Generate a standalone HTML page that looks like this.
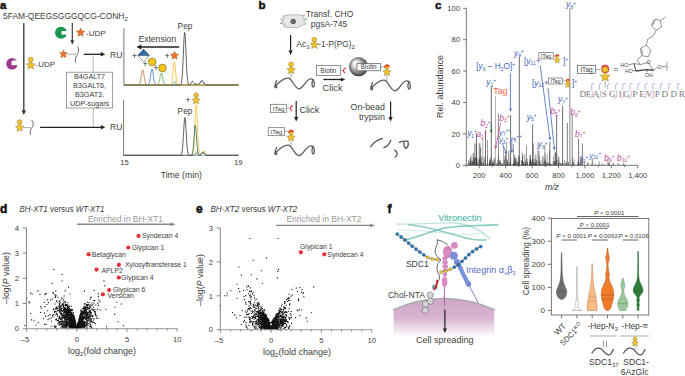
<!DOCTYPE html>
<html><head><meta charset="utf-8"><style>
html,body{margin:0;padding:0;background:#fff;width:685px;height:376px;overflow:hidden}
svg{display:block;font-family:"Liberation Sans", sans-serif}
</style></head><body>
<svg width="685" height="376" viewBox="0 0 685 376">
<defs>
<radialGradient id="bead" cx="0.5" cy="0.5" fx="0.3" fy="0.28" r="0.6"><stop offset="0" stop-color="#ffffff"/><stop offset="0.3" stop-color="#dddddd"/><stop offset="0.7" stop-color="#777777"/><stop offset="1" stop-color="#151515"/></radialGradient>
<linearGradient id="cell" x1="0" y1="0" x2="0" y2="1"><stop offset="0" stop-color="#cfa6c6"/><stop offset="0.45" stop-color="#d6b2cf"/><stop offset="0.93" stop-color="#ffffff"/></linearGradient>
</defs>
<text x="0.00" y="8.60" font-size="11.5" fill="#111" font-weight="bold" stroke="#111" stroke-width="0.5">a</text>
<text x="3.00" y="18.60" font-size="8.45" fill="#404040" >5FAM-QEEGSGGGQCG-CONH<tspan font-size="6" dy="2">2</tspan></text>
<line x1="23.80" y1="23.00" x2="23.80" y2="110.70" stroke="#333" stroke-width="1.3" />
<polygon points="23.80,115.00 21.60,110.20 26.00,110.20" fill="#333"/>
<circle cx="12" cy="63.8" r="5.8" fill="#9b3a8e"/>
<rect x="11.6" y="60.9" width="7" height="4.3" fill="#fff"/>
<path d="M12.6,60.3 L17.8,60.3" stroke="#fff" stroke-width="0.5"/>
<polygon points="30.70,60.70 32.00,63.51 35.07,63.88 32.80,65.98 33.40,69.02 30.70,67.51 28.00,69.02 28.60,65.98 26.33,63.88 29.40,63.51" fill="#F2C12E" stroke="#7a6418" stroke-width="0.4" stroke-linejoin="round"/>
<circle cx="30.70" cy="59.69" r="2.48" fill="#F2C12E" stroke="#7a6418" stroke-width="0.4"/>
<text x="35.50" y="67.20" font-size="8.0" fill="#404040" >-UDP</text>
<circle cx="61" cy="32.8" r="6" fill="#1a9650"/>
<rect x="61.5" y="31" width="6.5" height="3.6" fill="#fff"/>
<line x1="72.30" y1="23.00" x2="72.30" y2="40.80" stroke="#333" stroke-width="1.1" />
<polygon points="72.30,44.50 70.30,40.30 74.30,40.30" fill="#333"/>
<polygon points="80.50,28.10 81.77,30.85 84.78,31.21 82.55,33.27 83.15,36.24 80.50,34.76 77.85,36.24 78.45,33.27 76.22,31.21 79.23,30.85" fill="#EC7530" stroke="#8a4a18" stroke-width="0.4" stroke-linejoin="round"/>
<text x="86.00" y="35.50" font-size="8.0" fill="#404040" >-UDP</text>
<polygon points="63.50,49.90 64.71,52.53 67.59,52.87 65.46,54.84 66.03,57.68 63.50,56.26 60.97,57.68 61.54,54.84 59.41,52.87 62.29,52.53" fill="#EC7530" stroke="#8a4a18" stroke-width="0.4" stroke-linejoin="round"/>
<line x1="67.60" y1="54.30" x2="76.00" y2="54.30" stroke="#888" stroke-width="0.7" />
<path d="M77.6,46.6 C79.6,50 78.4,53 76.8,55.5 C75.2,58 74.9,60 75.6,62.2" fill="none" stroke="#555" stroke-width="0.9" stroke-linecap="round" stroke-linejoin="round" />
<line x1="83.80" y1="54.30" x2="101.30" y2="54.30" stroke="#222" stroke-width="1.3" />
<polygon points="105.30,54.30 100.80,56.50 100.80,52.10" fill="#222"/>
<text x="110.00" y="57.50" font-size="8.5" fill="#404040" >RU</text>
<line x1="93.30" y1="54.30" x2="93.30" y2="72.20" stroke="#999" stroke-width="0.7" />
<rect x="66.50" y="72.20" width="46.20" height="35.80" fill="#fff" stroke="#777" stroke-width="0.7"/>
<text x="89.60" y="79.30" font-size="7.2" fill="#404040" text-anchor="middle" >B4GALT7</text>
<text x="89.60" y="88.15" font-size="7.2" fill="#404040" text-anchor="middle" >B3GALT6,</text>
<text x="89.60" y="97.00" font-size="7.2" fill="#404040" text-anchor="middle" >B3GAT3,</text>
<text x="89.60" y="105.85" font-size="7.2" fill="#404040" text-anchor="middle" >UDP-sugars</text>
<line x1="93.30" y1="108.00" x2="93.30" y2="127.30" stroke="#999" stroke-width="0.7" />
<polygon points="19.60,123.10 20.87,125.85 23.88,126.21 21.65,128.27 22.25,131.24 19.60,129.76 16.95,131.24 17.55,128.27 15.32,126.21 18.33,125.85" fill="#F2C12E" stroke="#7a6418" stroke-width="0.4" stroke-linejoin="round"/>
<circle cx="19.60" cy="122.11" r="2.43" fill="#F2C12E" stroke="#7a6418" stroke-width="0.4"/>
<line x1="23.50" y1="127.60" x2="30.60" y2="127.60" stroke="#888" stroke-width="0.7" />
<path d="M31.8,120.4 C34,123 33.2,126 31.6,128.2 C30.1,130.3 29.9,132.5 30.6,134.7" fill="none" stroke="#555" stroke-width="0.9" stroke-linecap="round" stroke-linejoin="round" />
<line x1="40.10" y1="127.30" x2="101.30" y2="127.30" stroke="#222" stroke-width="1.3" />
<polygon points="105.30,127.30 100.80,129.50 100.80,125.10" fill="#222"/>
<text x="110.00" y="130.30" font-size="8.5" fill="#404040" >RU</text>
<line x1="123.90" y1="28.40" x2="123.90" y2="85.40" stroke="#555" stroke-width="0.8" />
<path d="M124.00,85.00 L124.38,85.00 L124.77,85.00 L125.15,85.00 L125.53,85.00 L125.91,85.00 L126.30,85.00 L126.68,85.00 L127.06,85.00 L127.45,85.00 L127.83,85.00 L128.21,85.00 L128.60,85.00 L128.98,85.00 L129.36,85.00 L129.74,85.00 L130.13,85.00 L130.51,85.00 L130.89,85.00 L131.28,85.00 L131.66,85.00 L132.04,85.00 L132.42,85.00 L132.81,85.00 L133.19,85.00 L133.57,85.00 L133.96,85.00 L134.34,85.00 L134.72,85.00 L135.11,85.00 L135.49,85.00 L135.87,85.00 L136.25,85.00 L136.64,85.00 L137.02,85.00 L137.40,84.99 L137.79,84.98 L138.17,84.95 L138.55,84.86 L138.93,84.69 L139.32,84.34 L139.70,83.71 L140.08,82.68 L140.47,81.13 L140.85,79.06 L141.23,76.58 L141.62,73.99 L142.00,71.72 L142.38,70.22 L142.76,69.82 L143.15,70.61 L143.53,72.42 L143.91,74.85 L144.30,77.44 L144.68,79.81 L145.06,81.71 L145.44,83.08 L145.83,83.96 L146.21,84.48 L146.59,84.76 L146.98,84.90 L147.36,84.96 L147.74,84.99 L148.13,85.00 L148.51,85.00 L148.89,85.00 L149.27,85.00 L149.66,85.00 L150.04,85.00 L150.42,85.00 L150.81,85.00 L151.19,85.00 L151.57,85.00 L151.95,85.00 L152.34,85.00 L152.72,85.00 L153.10,85.00 L153.49,85.00 L153.87,85.00 L154.25,85.00 L154.64,85.00 L155.02,85.00 L155.40,85.00 L155.78,85.00 L156.17,85.00 L156.55,85.00 L156.93,85.00 L157.32,85.00 L157.70,85.00 L158.08,85.00 L158.46,85.00 L158.85,85.00 L159.23,85.00 L159.61,85.00 L160.00,85.00 L160.38,85.00 L160.76,85.00 L161.15,85.00 L161.53,85.00 L161.91,85.00 L162.29,85.00 L162.68,85.00 L163.06,85.00 L163.44,85.00 L163.83,85.00 L164.21,85.00 L164.59,85.00 L164.97,85.00 L165.36,85.00 L165.74,85.00 L166.12,85.00 L166.51,85.00 L166.89,85.00 L167.27,85.00 L167.66,85.00 L168.04,85.00 L168.42,85.00 L168.80,85.00 L169.19,85.00 L169.57,85.00 L169.95,85.00 L170.34,85.00 L170.72,85.00 L171.10,85.00 L171.48,85.00 L171.87,85.00 L172.25,85.00 L172.63,85.00 L173.02,85.00 L173.40,85.00 L173.78,85.00 L174.17,85.00 L174.55,85.00 L174.93,85.00 L175.31,85.00 L175.70,85.00 L176.08,85.00 L176.46,85.00 L176.85,85.00 L177.23,85.00 L177.61,85.00 L177.99,85.00 L178.38,85.00 L178.76,85.00 L179.14,85.00 L179.53,85.00 L179.91,85.00 L180.29,85.00 L180.68,85.00 L181.06,85.00 L181.44,85.00 L181.82,85.00 L182.21,85.00 L182.59,85.00 L182.97,85.00 L183.36,85.00 L183.74,85.00 L184.12,85.00 L184.51,85.00 L184.89,85.00 L185.27,85.00 L185.65,85.00 L186.04,85.00 L186.42,85.00 L186.80,85.00 L187.19,85.00 L187.57,85.00 L187.95,85.00 L188.33,85.00 L188.72,85.00 L189.10,85.00 L189.48,85.00 L189.87,85.00 L190.25,85.00 L190.63,85.00 L191.02,85.00 L191.40,85.00 L191.78,85.00 L192.16,85.00 L192.55,85.00 L192.93,85.00 L193.31,85.00 L193.70,85.00 L194.08,85.00 L194.46,85.00 L194.84,85.00 L195.23,85.00 L195.61,85.00 L195.99,85.00 L196.38,85.00 L196.76,85.00 L197.14,85.00 L197.53,85.00 L197.91,85.00 L198.29,85.00 L198.67,85.00 L199.06,85.00 L199.44,85.00 L199.82,85.00 L200.21,85.00 L200.59,85.00 L200.97,85.00 L201.35,85.00 L201.74,85.00 L202.12,85.00 L202.50,85.00 L202.89,85.00 L203.27,85.00 L203.65,85.00 L204.04,85.00 L204.42,85.00 L204.80,85.00 L205.18,85.00 L205.57,85.00 L205.95,85.00 L206.33,85.00 L206.72,85.00 L207.10,85.00 L207.48,85.00 L207.86,85.00 L208.25,85.00 L208.63,85.00 L209.01,85.00 L209.40,85.00 L209.78,85.00 L210.16,85.00 L210.55,85.00 L210.93,85.00 L211.31,85.00 L211.69,85.00 L212.08,85.00 L212.46,85.00 L212.84,85.00 L213.23,85.00 L213.61,85.00 L213.99,85.00 L214.37,85.00 L214.76,85.00 L215.14,85.00 L215.52,85.00 L215.91,85.00 L216.29,85.00 L216.67,85.00 L217.06,85.00 L217.44,85.00 L217.82,85.00 L218.20,85.00 L218.59,85.00 L218.97,85.00 L219.35,85.00 L219.74,85.00 L220.12,85.00 L220.50,85.00 L220.88,85.00 L221.27,85.00 L221.65,85.00 L222.03,85.00 L222.42,85.00 L222.80,85.00 L223.18,85.00 L223.57,85.00 L223.95,85.00 L224.33,85.00 L224.71,85.00 L225.10,85.00 L225.48,85.00 L225.86,85.00 L226.25,85.00 L226.63,85.00 L227.01,85.00 L227.39,85.00 L227.78,85.00 L228.16,85.00 L228.54,85.00 L228.93,85.00 L229.31,85.00 L229.69,85.00 L230.08,85.00 L230.46,85.00 L230.84,85.00 L231.22,85.00 L231.61,85.00 L231.99,85.00 L232.37,85.00 L232.76,85.00 L233.14,85.00 L233.52,85.00 L233.90,85.00 L234.29,85.00 L234.67,85.00 L235.05,85.00 L235.44,85.00 L235.82,85.00 L236.20,85.00 L236.59,85.00 L236.97,85.00 L237.35,85.00 L237.73,85.00 L238.12,85.00 L238.50,85.00" fill="none" stroke="#c0704a" stroke-width="0.8" stroke-linejoin="round"/>
<path d="M124.00,85.00 L124.38,85.00 L124.77,85.00 L125.15,85.00 L125.53,85.00 L125.91,85.00 L126.30,85.00 L126.68,85.00 L127.06,85.00 L127.45,85.00 L127.83,85.00 L128.21,85.00 L128.60,85.00 L128.98,85.00 L129.36,85.00 L129.74,85.00 L130.13,85.00 L130.51,85.00 L130.89,85.00 L131.28,85.00 L131.66,85.00 L132.04,85.00 L132.42,85.00 L132.81,85.00 L133.19,85.00 L133.57,85.00 L133.96,85.00 L134.34,85.00 L134.72,85.00 L135.11,85.00 L135.49,85.00 L135.87,85.00 L136.25,85.00 L136.64,85.00 L137.02,85.00 L137.40,85.00 L137.79,85.00 L138.17,85.00 L138.55,85.00 L138.93,85.00 L139.32,85.00 L139.70,85.00 L140.08,85.00 L140.47,85.00 L140.85,85.00 L141.23,85.00 L141.62,85.00 L142.00,85.00 L142.38,85.00 L142.76,85.00 L143.15,85.00 L143.53,85.00 L143.91,85.00 L144.30,85.00 L144.68,85.00 L145.06,85.00 L145.44,85.00 L145.83,85.00 L146.21,85.00 L146.59,84.99 L146.98,84.98 L147.36,84.96 L147.74,84.89 L148.13,84.74 L148.51,84.44 L148.89,83.89 L149.27,82.94 L149.66,81.50 L150.04,79.49 L150.42,77.01 L150.81,74.31 L151.19,71.81 L151.57,69.97 L151.95,69.21 L152.34,69.69 L152.72,71.30 L153.10,73.69 L153.49,76.38 L153.87,78.94 L154.25,81.07 L154.64,82.65 L155.02,83.70 L155.40,84.34 L155.78,84.69 L156.17,84.87 L156.55,84.95 L156.93,84.98 L157.32,84.99 L157.70,85.00 L158.08,85.00 L158.46,85.00 L158.85,85.00 L159.23,85.00 L159.61,85.00 L160.00,85.00 L160.38,85.00 L160.76,85.00 L161.15,85.00 L161.53,85.00 L161.91,85.00 L162.29,85.00 L162.68,85.00 L163.06,85.00 L163.44,85.00 L163.83,85.00 L164.21,85.00 L164.59,85.00 L164.97,85.00 L165.36,85.00 L165.74,85.00 L166.12,85.00 L166.51,85.00 L166.89,85.00 L167.27,85.00 L167.66,85.00 L168.04,85.00 L168.42,85.00 L168.80,85.00 L169.19,85.00 L169.57,85.00 L169.95,85.00 L170.34,85.00 L170.72,85.00 L171.10,85.00 L171.48,85.00 L171.87,85.00 L172.25,85.00 L172.63,85.00 L173.02,85.00 L173.40,85.00 L173.78,85.00 L174.17,85.00 L174.55,85.00 L174.93,85.00 L175.31,85.00 L175.70,85.00 L176.08,85.00 L176.46,85.00 L176.85,85.00 L177.23,85.00 L177.61,85.00 L177.99,85.00 L178.38,85.00 L178.76,85.00 L179.14,85.00 L179.53,85.00 L179.91,85.00 L180.29,85.00 L180.68,85.00 L181.06,85.00 L181.44,85.00 L181.82,85.00 L182.21,85.00 L182.59,85.00 L182.97,85.00 L183.36,85.00 L183.74,85.00 L184.12,85.00 L184.51,85.00 L184.89,85.00 L185.27,85.00 L185.65,85.00 L186.04,85.00 L186.42,85.00 L186.80,85.00 L187.19,85.00 L187.57,85.00 L187.95,85.00 L188.33,85.00 L188.72,85.00 L189.10,85.00 L189.48,85.00 L189.87,85.00 L190.25,85.00 L190.63,85.00 L191.02,85.00 L191.40,85.00 L191.78,85.00 L192.16,85.00 L192.55,85.00 L192.93,85.00 L193.31,85.00 L193.70,85.00 L194.08,85.00 L194.46,85.00 L194.84,85.00 L195.23,85.00 L195.61,85.00 L195.99,84.99 L196.38,84.98 L196.76,84.95 L197.14,84.91 L197.53,84.84 L197.91,84.71 L198.29,84.53 L198.67,84.26 L199.06,83.89 L199.44,83.42 L199.82,82.87 L200.21,82.26 L200.59,81.66 L200.97,81.12 L201.35,80.73 L201.74,80.52 L202.12,80.54 L202.50,80.77 L202.89,81.20 L203.27,81.75 L203.65,82.35 L204.04,82.96 L204.42,83.50 L204.80,83.95 L205.18,84.30 L205.57,84.56 L205.95,84.74 L206.33,84.85 L206.72,84.92 L207.10,84.96 L207.48,84.98 L207.86,84.99 L208.25,85.00 L208.63,85.00 L209.01,85.00 L209.40,85.00 L209.78,85.00 L210.16,85.00 L210.55,85.00 L210.93,85.00 L211.31,85.00 L211.69,85.00 L212.08,85.00 L212.46,85.00 L212.84,85.00 L213.23,85.00 L213.61,85.00 L213.99,85.00 L214.37,85.00 L214.76,85.00 L215.14,85.00 L215.52,85.00 L215.91,85.00 L216.29,85.00 L216.67,85.00 L217.06,85.00 L217.44,85.00 L217.82,85.00 L218.20,85.00 L218.59,85.00 L218.97,85.00 L219.35,85.00 L219.74,85.00 L220.12,85.00 L220.50,85.00 L220.88,85.00 L221.27,85.00 L221.65,85.00 L222.03,85.00 L222.42,85.00 L222.80,85.00 L223.18,85.00 L223.57,85.00 L223.95,85.00 L224.33,85.00 L224.71,85.00 L225.10,85.00 L225.48,85.00 L225.86,85.00 L226.25,85.00 L226.63,85.00 L227.01,85.00 L227.39,85.00 L227.78,85.00 L228.16,85.00 L228.54,85.00 L228.93,85.00 L229.31,85.00 L229.69,85.00 L230.08,85.00 L230.46,85.00 L230.84,85.00 L231.22,85.00 L231.61,85.00 L231.99,85.00 L232.37,85.00 L232.76,85.00 L233.14,85.00 L233.52,85.00 L233.90,85.00 L234.29,85.00 L234.67,85.00 L235.05,85.00 L235.44,85.00 L235.82,85.00 L236.20,85.00 L236.59,85.00 L236.97,85.00 L237.35,85.00 L237.73,85.00 L238.12,85.00 L238.50,85.00" fill="none" stroke="#3a70b8" stroke-width="0.8" stroke-linejoin="round"/>
<path d="M124.00,85.00 L124.38,85.00 L124.77,85.00 L125.15,85.00 L125.53,85.00 L125.91,85.00 L126.30,85.00 L126.68,85.00 L127.06,85.00 L127.45,85.00 L127.83,85.00 L128.21,85.00 L128.60,85.00 L128.98,85.00 L129.36,85.00 L129.74,85.00 L130.13,85.00 L130.51,85.00 L130.89,85.00 L131.28,85.00 L131.66,85.00 L132.04,85.00 L132.42,85.00 L132.81,85.00 L133.19,85.00 L133.57,85.00 L133.96,85.00 L134.34,85.00 L134.72,85.00 L135.11,85.00 L135.49,85.00 L135.87,85.00 L136.25,85.00 L136.64,85.00 L137.02,85.00 L137.40,85.00 L137.79,85.00 L138.17,85.00 L138.55,85.00 L138.93,85.00 L139.32,85.00 L139.70,85.00 L140.08,85.00 L140.47,85.00 L140.85,85.00 L141.23,85.00 L141.62,85.00 L142.00,85.00 L142.38,85.00 L142.76,85.00 L143.15,85.00 L143.53,85.00 L143.91,85.00 L144.30,85.00 L144.68,85.00 L145.06,85.00 L145.44,85.00 L145.83,85.00 L146.21,85.00 L146.59,85.00 L146.98,85.00 L147.36,85.00 L147.74,85.00 L148.13,85.00 L148.51,85.00 L148.89,85.00 L149.27,85.00 L149.66,85.00 L150.04,85.00 L150.42,85.00 L150.81,85.00 L151.19,85.00 L151.57,85.00 L151.95,85.00 L152.34,85.00 L152.72,85.00 L153.10,85.00 L153.49,85.00 L153.87,85.00 L154.25,85.00 L154.64,85.00 L155.02,85.00 L155.40,85.00 L155.78,85.00 L156.17,84.99 L156.55,84.98 L156.93,84.94 L157.32,84.85 L157.70,84.66 L158.08,84.30 L158.46,83.68 L158.85,82.69 L159.23,81.29 L159.61,79.50 L160.00,77.47 L160.38,75.49 L160.76,73.91 L161.15,73.08 L161.53,73.17 L161.91,74.17 L162.29,75.85 L162.68,77.87 L163.06,79.87 L163.44,81.60 L163.83,82.92 L164.21,83.82 L164.59,84.39 L164.97,84.70 L165.36,84.87 L165.74,84.95 L166.12,84.98 L166.51,84.99 L166.89,85.00 L167.27,85.00 L167.66,85.00 L168.04,85.00 L168.42,85.00 L168.80,85.00 L169.19,85.00 L169.57,85.00 L169.95,85.00 L170.34,85.00 L170.72,84.99 L171.10,84.97 L171.48,84.91 L171.87,84.78 L172.25,84.53 L172.63,84.10 L173.02,83.47 L173.40,82.70 L173.78,81.93 L174.17,81.37 L174.55,81.20 L174.93,81.48 L175.31,82.11 L175.70,82.90 L176.08,83.65 L176.46,84.23 L176.85,84.61 L177.23,84.82 L177.61,84.93 L177.99,84.98 L178.38,84.99 L178.76,85.00 L179.14,85.00 L179.53,85.00 L179.91,85.00 L180.29,85.00 L180.68,85.00 L181.06,85.00 L181.44,85.00 L181.82,85.00 L182.21,85.00 L182.59,85.00 L182.97,85.00 L183.36,85.00 L183.74,85.00 L184.12,85.00 L184.51,85.00 L184.89,85.00 L185.27,85.00 L185.65,85.00 L186.04,85.00 L186.42,85.00 L186.80,85.00 L187.19,85.00 L187.57,85.00 L187.95,85.00 L188.33,85.00 L188.72,85.00 L189.10,85.00 L189.48,85.00 L189.87,85.00 L190.25,85.00 L190.63,85.00 L191.02,85.00 L191.40,85.00 L191.78,85.00 L192.16,85.00 L192.55,85.00 L192.93,85.00 L193.31,85.00 L193.70,85.00 L194.08,85.00 L194.46,85.00 L194.84,85.00 L195.23,85.00 L195.61,85.00 L195.99,85.00 L196.38,85.00 L196.76,85.00 L197.14,85.00 L197.53,85.00 L197.91,85.00 L198.29,85.00 L198.67,85.00 L199.06,85.00 L199.44,85.00 L199.82,85.00 L200.21,85.00 L200.59,85.00 L200.97,85.00 L201.35,85.00 L201.74,85.00 L202.12,85.00 L202.50,85.00 L202.89,85.00 L203.27,85.00 L203.65,85.00 L204.04,85.00 L204.42,85.00 L204.80,85.00 L205.18,85.00 L205.57,85.00 L205.95,85.00 L206.33,85.00 L206.72,85.00 L207.10,85.00 L207.48,85.00 L207.86,85.00 L208.25,85.00 L208.63,85.00 L209.01,85.00 L209.40,85.00 L209.78,85.00 L210.16,85.00 L210.55,85.00 L210.93,85.00 L211.31,85.00 L211.69,85.00 L212.08,85.00 L212.46,85.00 L212.84,85.00 L213.23,85.00 L213.61,85.00 L213.99,85.00 L214.37,85.00 L214.76,85.00 L215.14,85.00 L215.52,85.00 L215.91,85.00 L216.29,85.00 L216.67,85.00 L217.06,85.00 L217.44,85.00 L217.82,85.00 L218.20,85.00 L218.59,85.00 L218.97,85.00 L219.35,85.00 L219.74,85.00 L220.12,85.00 L220.50,85.00 L220.88,85.00 L221.27,85.00 L221.65,85.00 L222.03,85.00 L222.42,85.00 L222.80,85.00 L223.18,85.00 L223.57,85.00 L223.95,85.00 L224.33,85.00 L224.71,85.00 L225.10,85.00 L225.48,85.00 L225.86,85.00 L226.25,85.00 L226.63,85.00 L227.01,85.00 L227.39,85.00 L227.78,85.00 L228.16,85.00 L228.54,85.00 L228.93,85.00 L229.31,85.00 L229.69,85.00 L230.08,85.00 L230.46,85.00 L230.84,85.00 L231.22,85.00 L231.61,85.00 L231.99,85.00 L232.37,85.00 L232.76,85.00 L233.14,85.00 L233.52,85.00 L233.90,85.00 L234.29,85.00 L234.67,85.00 L235.05,85.00 L235.44,85.00 L235.82,85.00 L236.20,85.00 L236.59,85.00 L236.97,85.00 L237.35,85.00 L237.73,85.00 L238.12,85.00 L238.50,85.00" fill="none" stroke="#5aaa50" stroke-width="0.8" stroke-linejoin="round"/>
<path d="M124.00,85.00 L124.38,85.00 L124.77,85.00 L125.15,85.00 L125.53,85.00 L125.91,85.00 L126.30,85.00 L126.68,85.00 L127.06,85.00 L127.45,85.00 L127.83,85.00 L128.21,85.00 L128.60,85.00 L128.98,85.00 L129.36,85.00 L129.74,85.00 L130.13,85.00 L130.51,85.00 L130.89,85.00 L131.28,85.00 L131.66,85.00 L132.04,85.00 L132.42,85.00 L132.81,85.00 L133.19,85.00 L133.57,85.00 L133.96,85.00 L134.34,85.00 L134.72,85.00 L135.11,85.00 L135.49,85.00 L135.87,85.00 L136.25,85.00 L136.64,85.00 L137.02,85.00 L137.40,85.00 L137.79,85.00 L138.17,85.00 L138.55,85.00 L138.93,85.00 L139.32,85.00 L139.70,85.00 L140.08,85.00 L140.47,85.00 L140.85,85.00 L141.23,85.00 L141.62,85.00 L142.00,85.00 L142.38,85.00 L142.76,85.00 L143.15,85.00 L143.53,85.00 L143.91,85.00 L144.30,85.00 L144.68,85.00 L145.06,85.00 L145.44,85.00 L145.83,85.00 L146.21,85.00 L146.59,85.00 L146.98,85.00 L147.36,85.00 L147.74,85.00 L148.13,85.00 L148.51,85.00 L148.89,85.00 L149.27,85.00 L149.66,85.00 L150.04,85.00 L150.42,85.00 L150.81,85.00 L151.19,85.00 L151.57,85.00 L151.95,85.00 L152.34,85.00 L152.72,85.00 L153.10,85.00 L153.49,85.00 L153.87,85.00 L154.25,85.00 L154.64,85.00 L155.02,85.00 L155.40,85.00 L155.78,85.00 L156.17,85.00 L156.55,85.00 L156.93,85.00 L157.32,85.00 L157.70,85.00 L158.08,85.00 L158.46,85.00 L158.85,85.00 L159.23,85.00 L159.61,85.00 L160.00,85.00 L160.38,85.00 L160.76,85.00 L161.15,85.00 L161.53,85.00 L161.91,85.00 L162.29,85.00 L162.68,85.00 L163.06,85.00 L163.44,85.00 L163.83,85.00 L164.21,85.00 L164.59,85.00 L164.97,85.00 L165.36,85.00 L165.74,85.00 L166.12,85.00 L166.51,85.00 L166.89,85.00 L167.27,85.00 L167.66,85.00 L168.04,85.00 L168.42,85.00 L168.80,85.00 L169.19,84.99 L169.57,84.98 L169.95,84.95 L170.34,84.85 L170.72,84.62 L171.10,84.12 L171.48,83.16 L171.87,81.51 L172.25,78.95 L172.63,75.46 L173.02,71.30 L173.40,67.10 L173.78,63.70 L174.17,61.93 L174.55,62.25 L174.93,64.58 L175.31,68.31 L175.70,72.58 L176.08,76.59 L176.46,79.81 L176.85,82.09 L177.23,83.51 L177.61,84.31 L177.99,84.71 L178.38,84.89 L178.76,84.96 L179.14,84.99 L179.53,85.00 L179.91,85.00 L180.29,85.00 L180.68,85.00 L181.06,85.00 L181.44,85.00 L181.82,85.00 L182.21,85.00 L182.59,85.00 L182.97,85.00 L183.36,85.00 L183.74,85.00 L184.12,85.00 L184.51,85.00 L184.89,85.00 L185.27,85.00 L185.65,85.00 L186.04,85.00 L186.42,85.00 L186.80,85.00 L187.19,85.00 L187.57,85.00 L187.95,85.00 L188.33,85.00 L188.72,85.00 L189.10,85.00 L189.48,85.00 L189.87,85.00 L190.25,85.00 L190.63,85.00 L191.02,85.00 L191.40,85.00 L191.78,85.00 L192.16,85.00 L192.55,85.00 L192.93,85.00 L193.31,85.00 L193.70,85.00 L194.08,85.00 L194.46,85.00 L194.84,85.00 L195.23,85.00 L195.61,85.00 L195.99,85.00 L196.38,85.00 L196.76,85.00 L197.14,85.00 L197.53,85.00 L197.91,85.00 L198.29,85.00 L198.67,85.00 L199.06,85.00 L199.44,85.00 L199.82,85.00 L200.21,85.00 L200.59,85.00 L200.97,85.00 L201.35,85.00 L201.74,85.00 L202.12,85.00 L202.50,85.00 L202.89,85.00 L203.27,85.00 L203.65,85.00 L204.04,85.00 L204.42,85.00 L204.80,85.00 L205.18,85.00 L205.57,85.00 L205.95,85.00 L206.33,85.00 L206.72,85.00 L207.10,85.00 L207.48,85.00 L207.86,85.00 L208.25,85.00 L208.63,85.00 L209.01,85.00 L209.40,85.00 L209.78,85.00 L210.16,85.00 L210.55,85.00 L210.93,85.00 L211.31,85.00 L211.69,85.00 L212.08,85.00 L212.46,85.00 L212.84,85.00 L213.23,85.00 L213.61,85.00 L213.99,85.00 L214.37,85.00 L214.76,85.00 L215.14,85.00 L215.52,85.00 L215.91,85.00 L216.29,85.00 L216.67,85.00 L217.06,85.00 L217.44,85.00 L217.82,85.00 L218.20,85.00 L218.59,85.00 L218.97,85.00 L219.35,85.00 L219.74,85.00 L220.12,85.00 L220.50,85.00 L220.88,85.00 L221.27,85.00 L221.65,85.00 L222.03,85.00 L222.42,85.00 L222.80,85.00 L223.18,85.00 L223.57,85.00 L223.95,85.00 L224.33,85.00 L224.71,85.00 L225.10,85.00 L225.48,85.00 L225.86,85.00 L226.25,85.00 L226.63,85.00 L227.01,85.00 L227.39,85.00 L227.78,85.00 L228.16,85.00 L228.54,85.00 L228.93,85.00 L229.31,85.00 L229.69,85.00 L230.08,85.00 L230.46,85.00 L230.84,85.00 L231.22,85.00 L231.61,85.00 L231.99,85.00 L232.37,85.00 L232.76,85.00 L233.14,85.00 L233.52,85.00 L233.90,85.00 L234.29,85.00 L234.67,85.00 L235.05,85.00 L235.44,85.00 L235.82,85.00 L236.20,85.00 L236.59,85.00 L236.97,85.00 L237.35,85.00 L237.73,85.00 L238.12,85.00 L238.50,85.00" fill="none" stroke="#F5C030" stroke-width="0.8" stroke-linejoin="round"/>
<path d="M124.00,85.00 L124.38,85.00 L124.77,85.00 L125.15,85.00 L125.53,85.00 L125.91,85.00 L126.30,85.00 L126.68,85.00 L127.06,85.00 L127.45,85.00 L127.83,85.00 L128.21,85.00 L128.60,85.00 L128.98,85.00 L129.36,85.00 L129.74,85.00 L130.13,85.00 L130.51,85.00 L130.89,85.00 L131.28,85.00 L131.66,85.00 L132.04,85.00 L132.42,85.00 L132.81,85.00 L133.19,85.00 L133.57,85.00 L133.96,85.00 L134.34,85.00 L134.72,85.00 L135.11,85.00 L135.49,85.00 L135.87,85.00 L136.25,85.00 L136.64,85.00 L137.02,85.00 L137.40,85.00 L137.79,85.00 L138.17,85.00 L138.55,85.00 L138.93,85.00 L139.32,85.00 L139.70,85.00 L140.08,85.00 L140.47,85.00 L140.85,85.00 L141.23,85.00 L141.62,85.00 L142.00,85.00 L142.38,85.00 L142.76,85.00 L143.15,85.00 L143.53,85.00 L143.91,85.00 L144.30,85.00 L144.68,85.00 L145.06,85.00 L145.44,85.00 L145.83,85.00 L146.21,85.00 L146.59,85.00 L146.98,85.00 L147.36,85.00 L147.74,85.00 L148.13,85.00 L148.51,85.00 L148.89,85.00 L149.27,85.00 L149.66,85.00 L150.04,85.00 L150.42,85.00 L150.81,85.00 L151.19,85.00 L151.57,85.00 L151.95,85.00 L152.34,85.00 L152.72,85.00 L153.10,85.00 L153.49,85.00 L153.87,85.00 L154.25,85.00 L154.64,85.00 L155.02,85.00 L155.40,85.00 L155.78,85.00 L156.17,85.00 L156.55,85.00 L156.93,85.00 L157.32,85.00 L157.70,85.00 L158.08,85.00 L158.46,85.00 L158.85,85.00 L159.23,85.00 L159.61,85.00 L160.00,85.00 L160.38,85.00 L160.76,85.00 L161.15,85.00 L161.53,85.00 L161.91,85.00 L162.29,85.00 L162.68,85.00 L163.06,85.00 L163.44,85.00 L163.83,85.00 L164.21,85.00 L164.59,85.00 L164.97,85.00 L165.36,85.00 L165.74,85.00 L166.12,85.00 L166.51,85.00 L166.89,85.00 L167.27,85.00 L167.66,85.00 L168.04,85.00 L168.42,85.00 L168.80,85.00 L169.19,85.00 L169.57,85.00 L169.95,85.00 L170.34,85.00 L170.72,85.00 L171.10,85.00 L171.48,85.00 L171.87,85.00 L172.25,85.00 L172.63,85.00 L173.02,85.00 L173.40,85.00 L173.78,85.00 L174.17,85.00 L174.55,85.00 L174.93,85.00 L175.31,85.00 L175.70,85.00 L176.08,85.00 L176.46,85.00 L176.85,85.00 L177.23,85.00 L177.61,85.00 L177.99,85.00 L178.38,85.00 L178.76,85.00 L179.14,84.99 L179.53,84.98 L179.91,84.94 L180.29,84.83 L180.68,84.56 L181.06,83.95 L181.44,82.71 L181.82,80.41 L182.21,76.57 L182.59,70.80 L182.97,63.06 L183.36,53.94 L183.74,44.67 L184.12,36.99 L184.51,32.59 L184.89,32.55 L185.27,36.87 L185.65,44.51 L186.04,53.76 L186.42,62.91 L186.80,70.67 L187.19,76.48 L187.57,80.35 L187.95,82.68 L188.33,83.93 L188.72,84.53 L189.10,84.77 L189.48,84.80 L189.87,84.65 L190.25,84.33 L190.63,83.79 L191.02,83.08 L191.40,82.28 L191.78,81.60 L192.16,81.23 L192.55,81.29 L192.93,81.76 L193.31,82.47 L193.70,83.20 L194.08,83.73 L194.46,83.99 L194.84,83.97 L195.23,83.78 L195.61,83.57 L195.99,83.48 L196.38,83.59 L196.76,83.86 L197.14,84.19 L197.53,84.47 L197.91,84.64 L198.29,84.67 L198.67,84.56 L199.06,84.32 L199.44,83.95 L199.82,83.47 L200.21,82.89 L200.59,82.27 L200.97,81.70 L201.35,81.26 L201.74,81.02 L202.12,81.04 L202.50,81.31 L202.89,81.78 L203.27,82.36 L203.65,82.98 L204.04,83.55 L204.42,84.02 L204.80,84.38 L205.18,84.64 L205.57,84.80 L205.95,84.90 L206.33,84.95 L206.72,84.98 L207.10,84.99 L207.48,85.00 L207.86,85.00 L208.25,85.00 L208.63,85.00 L209.01,85.00 L209.40,85.00 L209.78,85.00 L210.16,85.00 L210.55,85.00 L210.93,85.00 L211.31,85.00 L211.69,85.00 L212.08,85.00 L212.46,85.00 L212.84,85.00 L213.23,85.00 L213.61,85.00 L213.99,85.00 L214.37,85.00 L214.76,85.00 L215.14,85.00 L215.52,85.00 L215.91,85.00 L216.29,85.00 L216.67,85.00 L217.06,85.00 L217.44,85.00 L217.82,85.00 L218.20,85.00 L218.59,85.00 L218.97,85.00 L219.35,85.00 L219.74,85.00 L220.12,85.00 L220.50,85.00 L220.88,85.00 L221.27,85.00 L221.65,85.00 L222.03,85.00 L222.42,85.00 L222.80,85.00 L223.18,85.00 L223.57,85.00 L223.95,85.00 L224.33,85.00 L224.71,85.00 L225.10,85.00 L225.48,85.00 L225.86,85.00 L226.25,85.00 L226.63,85.00 L227.01,85.00 L227.39,85.00 L227.78,85.00 L228.16,85.00 L228.54,85.00 L228.93,85.00 L229.31,85.00 L229.69,85.00 L230.08,85.00 L230.46,85.00 L230.84,85.00 L231.22,85.00 L231.61,85.00 L231.99,85.00 L232.37,85.00 L232.76,85.00 L233.14,85.00 L233.52,85.00 L233.90,85.00 L234.29,85.00 L234.67,85.00 L235.05,85.00 L235.44,85.00 L235.82,85.00 L236.20,85.00 L236.59,85.00 L236.97,85.00 L237.35,85.00 L237.73,85.00 L238.12,85.00 L238.50,85.00" fill="none" stroke="#3a3a3a" stroke-width="0.8" stroke-linejoin="round"/>
<line x1="124.00" y1="85.20" x2="238.50" y2="85.20" stroke="#b07a60" stroke-width="0.5" />
<text x="185.00" y="28.60" font-size="8.3" fill="#404040" text-anchor="middle" >Pep</text>
<text x="157.30" y="41.80" font-size="8.6" fill="#404040" text-anchor="middle" >Extension</text>
<line x1="179.20" y1="47.00" x2="140.90" y2="47.00" stroke="#222" stroke-width="1.3" />
<polygon points="136.40,47.00 141.40,44.60 141.40,49.40" fill="#222"/>
<text x="134.50" y="58.60" font-size="9" fill="#333" text-anchor="middle" >+</text>
<polygon points="143.6,49.4 149.3,55.6 143.6,61.8 137.9,55.6" fill="#fff" stroke="#333" stroke-width="0.5"/>
<polygon points="143.6,49.4 149.3,55.6 137.9,55.6" fill="#2a6db5" stroke="#333" stroke-width="0.5"/>
<text x="145.20" y="66.60" font-size="9" fill="#333" text-anchor="middle" >+</text>
<circle cx="152.2" cy="61.9" r="3.9" fill="#F5C518" stroke="#555" stroke-width="0.5"/>
<text x="155.80" y="71.40" font-size="9" fill="#333" text-anchor="middle" >+</text>
<circle cx="162.4" cy="68" r="3.9" fill="#F5C518" stroke="#555" stroke-width="0.5"/>
<text x="167.20" y="58.80" font-size="9" fill="#333" text-anchor="middle" >+</text>
<polygon points="174.50,51.20 175.74,53.89 178.68,54.24 176.51,56.25 177.09,59.16 174.50,57.71 171.91,59.16 172.49,56.25 170.32,54.24 173.26,53.89" fill="#EC7530" stroke="#8a4a18" stroke-width="0.4" stroke-linejoin="round"/>
<line x1="123.60" y1="99.70" x2="123.60" y2="155.70" stroke="#555" stroke-width="0.8" />
<path d="M124.00,155.30 L124.38,155.30 L124.77,155.30 L125.15,155.30 L125.53,155.30 L125.91,155.30 L126.30,155.30 L126.68,155.30 L127.06,155.30 L127.45,155.30 L127.83,155.30 L128.21,155.30 L128.60,155.30 L128.98,155.30 L129.36,155.30 L129.74,155.30 L130.13,155.30 L130.51,155.30 L130.89,155.30 L131.28,155.30 L131.66,155.30 L132.04,155.30 L132.42,155.30 L132.81,155.30 L133.19,155.30 L133.57,155.30 L133.96,155.30 L134.34,155.30 L134.72,155.30 L135.11,155.30 L135.49,155.30 L135.87,155.30 L136.25,155.30 L136.64,155.30 L137.02,155.30 L137.40,155.30 L137.79,155.30 L138.17,155.30 L138.55,155.30 L138.93,155.30 L139.32,155.30 L139.70,155.30 L140.08,155.30 L140.47,155.30 L140.85,155.30 L141.23,155.30 L141.62,155.30 L142.00,155.30 L142.38,155.30 L142.76,155.30 L143.15,155.30 L143.53,155.30 L143.91,155.30 L144.30,155.30 L144.68,155.30 L145.06,155.30 L145.44,155.30 L145.83,155.30 L146.21,155.30 L146.59,155.30 L146.98,155.30 L147.36,155.30 L147.74,155.30 L148.13,155.30 L148.51,155.30 L148.89,155.30 L149.27,155.30 L149.66,155.30 L150.04,155.30 L150.42,155.30 L150.81,155.30 L151.19,155.30 L151.57,155.30 L151.95,155.30 L152.34,155.30 L152.72,155.30 L153.10,155.30 L153.49,155.30 L153.87,155.30 L154.25,155.30 L154.64,155.30 L155.02,155.30 L155.40,155.30 L155.78,155.30 L156.17,155.30 L156.55,155.30 L156.93,155.30 L157.32,155.30 L157.70,155.30 L158.08,155.30 L158.46,155.30 L158.85,155.30 L159.23,155.30 L159.61,155.30 L160.00,155.30 L160.38,155.30 L160.76,155.30 L161.15,155.30 L161.53,155.30 L161.91,155.30 L162.29,155.30 L162.68,155.30 L163.06,155.30 L163.44,155.30 L163.83,155.30 L164.21,155.30 L164.59,155.30 L164.97,155.30 L165.36,155.30 L165.74,155.30 L166.12,155.30 L166.51,155.30 L166.89,155.30 L167.27,155.30 L167.66,155.30 L168.04,155.30 L168.42,155.30 L168.80,155.30 L169.19,155.30 L169.57,155.30 L169.95,155.30 L170.34,155.30 L170.72,155.30 L171.10,155.30 L171.48,155.30 L171.87,155.30 L172.25,155.30 L172.63,155.30 L173.02,155.30 L173.40,155.30 L173.78,155.30 L174.17,155.30 L174.55,155.30 L174.93,155.30 L175.31,155.30 L175.70,155.30 L176.08,155.30 L176.46,155.30 L176.85,155.30 L177.23,155.30 L177.61,155.30 L177.99,155.30 L178.38,155.30 L178.76,155.30 L179.14,155.30 L179.53,155.30 L179.91,155.30 L180.29,155.30 L180.68,155.30 L181.06,155.30 L181.44,155.30 L181.82,155.30 L182.21,155.30 L182.59,155.30 L182.97,155.30 L183.36,155.30 L183.74,155.30 L184.12,155.30 L184.51,155.30 L184.89,155.30 L185.27,155.30 L185.65,155.30 L186.04,155.30 L186.42,155.30 L186.80,155.30 L187.19,155.30 L187.57,155.30 L187.95,155.30 L188.33,155.30 L188.72,155.30 L189.10,155.30 L189.48,155.30 L189.87,155.30 L190.25,155.30 L190.63,155.30 L191.02,155.30 L191.40,155.28 L191.78,155.24 L192.16,155.12 L192.55,154.81 L192.93,154.07 L193.31,152.50 L193.70,149.57 L194.08,144.69 L194.46,137.58 L194.84,128.57 L195.23,118.86 L195.61,110.45 L195.99,105.42 L196.38,105.18 L196.76,109.74 L197.14,117.76 L197.53,127.12 L197.91,135.82 L198.29,142.65 L198.67,147.34 L199.06,150.28 L199.44,152.07 L199.82,153.15 L200.21,153.79 L200.59,154.07 L200.97,154.03 L201.35,153.70 L201.74,153.17 L202.12,152.52 L202.50,151.85 L202.89,151.28 L203.27,150.91 L203.65,150.80 L204.04,150.99 L204.42,151.42 L204.80,152.03 L205.18,152.72 L205.57,153.40 L205.95,153.98 L206.33,154.44 L206.72,154.78 L207.10,155.00 L207.48,155.14 L207.86,155.22 L208.25,155.26 L208.63,155.28 L209.01,155.29 L209.40,155.30 L209.78,155.30 L210.16,155.30 L210.55,155.30 L210.93,155.30 L211.31,155.30 L211.69,155.30 L212.08,155.30 L212.46,155.30 L212.84,155.30 L213.23,155.30 L213.61,155.30 L213.99,155.30 L214.37,155.30 L214.76,155.30 L215.14,155.30 L215.52,155.30 L215.91,155.30 L216.29,155.30 L216.67,155.30 L217.06,155.30 L217.44,155.30 L217.82,155.30 L218.20,155.30 L218.59,155.30 L218.97,155.30 L219.35,155.30 L219.74,155.30 L220.12,155.30 L220.50,155.30 L220.88,155.30 L221.27,155.30 L221.65,155.30 L222.03,155.30 L222.42,155.30 L222.80,155.30 L223.18,155.30 L223.57,155.30 L223.95,155.30 L224.33,155.30 L224.71,155.30 L225.10,155.30 L225.48,155.30 L225.86,155.30 L226.25,155.30 L226.63,155.30 L227.01,155.30 L227.39,155.30 L227.78,155.30 L228.16,155.30 L228.54,155.30 L228.93,155.30 L229.31,155.30 L229.69,155.30 L230.08,155.30 L230.46,155.30 L230.84,155.30 L231.22,155.30 L231.61,155.30 L231.99,155.30 L232.37,155.30 L232.76,155.30 L233.14,155.30 L233.52,155.30 L233.90,155.30 L234.29,155.30 L234.67,155.30 L235.05,155.30 L235.44,155.30 L235.82,155.30 L236.20,155.30 L236.59,155.30 L236.97,155.30 L237.35,155.30 L237.73,155.30 L238.12,155.30 L238.50,155.30" fill="none" stroke="#F5C030" stroke-width="0.8" stroke-linejoin="round"/>
<path d="M124.00,155.30 L124.38,155.30 L124.77,155.30 L125.15,155.30 L125.53,155.30 L125.91,155.30 L126.30,155.30 L126.68,155.30 L127.06,155.30 L127.45,155.30 L127.83,155.30 L128.21,155.30 L128.60,155.30 L128.98,155.30 L129.36,155.30 L129.74,155.30 L130.13,155.30 L130.51,155.30 L130.89,155.30 L131.28,155.30 L131.66,155.30 L132.04,155.30 L132.42,155.30 L132.81,155.30 L133.19,155.30 L133.57,155.30 L133.96,155.30 L134.34,155.30 L134.72,155.30 L135.11,155.30 L135.49,155.30 L135.87,155.30 L136.25,155.30 L136.64,155.30 L137.02,155.30 L137.40,155.30 L137.79,155.30 L138.17,155.30 L138.55,155.30 L138.93,155.30 L139.32,155.30 L139.70,155.30 L140.08,155.30 L140.47,155.30 L140.85,155.30 L141.23,155.30 L141.62,155.30 L142.00,155.30 L142.38,155.30 L142.76,155.30 L143.15,155.30 L143.53,155.30 L143.91,155.30 L144.30,155.30 L144.68,155.30 L145.06,155.30 L145.44,155.30 L145.83,155.30 L146.21,155.30 L146.59,155.30 L146.98,155.30 L147.36,155.30 L147.74,155.30 L148.13,155.30 L148.51,155.30 L148.89,155.30 L149.27,155.30 L149.66,155.30 L150.04,155.30 L150.42,155.30 L150.81,155.30 L151.19,155.30 L151.57,155.30 L151.95,155.30 L152.34,155.30 L152.72,155.30 L153.10,155.30 L153.49,155.30 L153.87,155.30 L154.25,155.30 L154.64,155.30 L155.02,155.30 L155.40,155.30 L155.78,155.30 L156.17,155.30 L156.55,155.30 L156.93,155.30 L157.32,155.30 L157.70,155.30 L158.08,155.30 L158.46,155.30 L158.85,155.30 L159.23,155.30 L159.61,155.30 L160.00,155.30 L160.38,155.30 L160.76,155.30 L161.15,155.30 L161.53,155.30 L161.91,155.30 L162.29,155.30 L162.68,155.30 L163.06,155.30 L163.44,155.30 L163.83,155.30 L164.21,155.30 L164.59,155.30 L164.97,155.30 L165.36,155.30 L165.74,155.30 L166.12,155.30 L166.51,155.30 L166.89,155.30 L167.27,155.30 L167.66,155.30 L168.04,155.30 L168.42,155.30 L168.80,155.30 L169.19,155.30 L169.57,155.30 L169.95,155.30 L170.34,155.30 L170.72,155.30 L171.10,155.30 L171.48,155.30 L171.87,155.30 L172.25,155.30 L172.63,155.30 L173.02,155.30 L173.40,155.30 L173.78,155.30 L174.17,155.30 L174.55,155.30 L174.93,155.30 L175.31,155.30 L175.70,155.30 L176.08,155.30 L176.46,155.30 L176.85,155.30 L177.23,155.30 L177.61,155.30 L177.99,155.30 L178.38,155.30 L178.76,155.30 L179.14,155.30 L179.53,155.30 L179.91,155.30 L180.29,155.30 L180.68,155.30 L181.06,155.30 L181.44,155.30 L181.82,155.30 L182.21,155.30 L182.59,155.30 L182.97,155.30 L183.36,155.30 L183.74,155.30 L184.12,155.30 L184.51,155.30 L184.89,155.30 L185.27,155.30 L185.65,155.30 L186.04,155.30 L186.42,155.30 L186.80,155.30 L187.19,155.30 L187.57,155.30 L187.95,155.30 L188.33,155.30 L188.72,155.30 L189.10,155.30 L189.48,155.30 L189.87,155.30 L190.25,155.30 L190.63,155.28 L191.02,155.25 L191.40,155.15 L191.78,154.89 L192.16,154.30 L192.55,153.12 L192.93,150.99 L193.31,147.61 L193.70,142.90 L194.08,137.25 L194.46,131.56 L194.84,127.11 L195.23,125.06 L195.61,126.00 L195.99,129.66 L196.38,135.03 L196.76,140.83 L197.14,145.97 L197.53,149.87 L197.91,152.44 L198.29,153.94 L198.67,154.70 L199.06,155.03 L199.44,155.13 L199.82,155.10 L200.21,154.97 L200.59,154.74 L200.97,154.40 L201.35,153.96 L201.74,153.45 L202.12,152.92 L202.50,152.47 L202.89,152.18 L203.27,152.10 L203.65,152.26 L204.04,152.62 L204.42,153.11 L204.80,153.64 L205.18,154.13 L205.57,154.53 L205.95,154.84 L206.33,155.04 L206.72,155.16 L207.10,155.23 L207.48,155.27 L207.86,155.29 L208.25,155.30 L208.63,155.30 L209.01,155.30 L209.40,155.30 L209.78,155.30 L210.16,155.30 L210.55,155.30 L210.93,155.30 L211.31,155.30 L211.69,155.30 L212.08,155.30 L212.46,155.30 L212.84,155.30 L213.23,155.30 L213.61,155.30 L213.99,155.30 L214.37,155.30 L214.76,155.30 L215.14,155.30 L215.52,155.30 L215.91,155.30 L216.29,155.30 L216.67,155.30 L217.06,155.30 L217.44,155.30 L217.82,155.30 L218.20,155.30 L218.59,155.30 L218.97,155.30 L219.35,155.30 L219.74,155.30 L220.12,155.30 L220.50,155.30 L220.88,155.30 L221.27,155.30 L221.65,155.30 L222.03,155.30 L222.42,155.30 L222.80,155.30 L223.18,155.30 L223.57,155.30 L223.95,155.30 L224.33,155.30 L224.71,155.30 L225.10,155.30 L225.48,155.30 L225.86,155.30 L226.25,155.30 L226.63,155.30 L227.01,155.30 L227.39,155.30 L227.78,155.30 L228.16,155.30 L228.54,155.30 L228.93,155.30 L229.31,155.30 L229.69,155.30 L230.08,155.30 L230.46,155.30 L230.84,155.30 L231.22,155.30 L231.61,155.30 L231.99,155.30 L232.37,155.30 L232.76,155.30 L233.14,155.30 L233.52,155.30 L233.90,155.30 L234.29,155.30 L234.67,155.30 L235.05,155.30 L235.44,155.30 L235.82,155.30 L236.20,155.30 L236.59,155.30 L236.97,155.30 L237.35,155.30 L237.73,155.30 L238.12,155.30 L238.50,155.30" fill="none" stroke="#2f6a5a" stroke-width="0.8" stroke-linejoin="round"/>
<path d="M124.00,155.30 L124.38,155.30 L124.77,155.30 L125.15,155.30 L125.53,155.30 L125.91,155.30 L126.30,155.30 L126.68,155.30 L127.06,155.30 L127.45,155.30 L127.83,155.30 L128.21,155.30 L128.60,155.30 L128.98,155.30 L129.36,155.30 L129.74,155.30 L130.13,155.30 L130.51,155.30 L130.89,155.30 L131.28,155.30 L131.66,155.30 L132.04,155.30 L132.42,155.30 L132.81,155.30 L133.19,155.30 L133.57,155.30 L133.96,155.30 L134.34,155.30 L134.72,155.30 L135.11,155.30 L135.49,155.30 L135.87,155.30 L136.25,155.30 L136.64,155.30 L137.02,155.30 L137.40,155.30 L137.79,155.30 L138.17,155.30 L138.55,155.30 L138.93,155.30 L139.32,155.30 L139.70,155.30 L140.08,155.30 L140.47,155.30 L140.85,155.30 L141.23,155.30 L141.62,155.30 L142.00,155.30 L142.38,155.30 L142.76,155.30 L143.15,155.30 L143.53,155.30 L143.91,155.30 L144.30,155.30 L144.68,155.30 L145.06,155.30 L145.44,155.30 L145.83,155.30 L146.21,155.30 L146.59,155.30 L146.98,155.30 L147.36,155.30 L147.74,155.30 L148.13,155.30 L148.51,155.30 L148.89,155.30 L149.27,155.30 L149.66,155.30 L150.04,155.30 L150.42,155.30 L150.81,155.30 L151.19,155.30 L151.57,155.30 L151.95,155.30 L152.34,155.30 L152.72,155.30 L153.10,155.30 L153.49,155.30 L153.87,155.30 L154.25,155.30 L154.64,155.30 L155.02,155.30 L155.40,155.30 L155.78,155.30 L156.17,155.30 L156.55,155.30 L156.93,155.30 L157.32,155.30 L157.70,155.30 L158.08,155.30 L158.46,155.30 L158.85,155.30 L159.23,155.30 L159.61,155.30 L160.00,155.30 L160.38,155.30 L160.76,155.30 L161.15,155.30 L161.53,155.30 L161.91,155.30 L162.29,155.30 L162.68,155.30 L163.06,155.30 L163.44,155.30 L163.83,155.30 L164.21,155.30 L164.59,155.30 L164.97,155.30 L165.36,155.30 L165.74,155.30 L166.12,155.30 L166.51,155.30 L166.89,155.30 L167.27,155.30 L167.66,155.30 L168.04,155.30 L168.42,155.30 L168.80,155.30 L169.19,155.30 L169.57,155.30 L169.95,155.30 L170.34,155.30 L170.72,155.30 L171.10,155.30 L171.48,155.30 L171.87,155.30 L172.25,155.30 L172.63,155.30 L173.02,155.30 L173.40,155.30 L173.78,155.30 L174.17,155.30 L174.55,155.30 L174.93,155.30 L175.31,155.30 L175.70,155.30 L176.08,155.30 L176.46,155.30 L176.85,155.30 L177.23,155.30 L177.61,155.30 L177.99,155.30 L178.38,155.30 L178.76,155.30 L179.14,155.30 L179.53,155.29 L179.91,155.28 L180.29,155.23 L180.68,155.11 L181.06,154.82 L181.44,154.20 L181.82,153.00 L182.21,150.89 L182.59,147.52 L182.97,142.73 L183.36,136.67 L183.74,130.00 L184.12,123.78 L184.51,119.30 L184.89,117.60 L185.27,119.10 L185.65,123.43 L186.04,129.58 L186.42,136.26 L186.80,142.38 L187.19,147.26 L187.57,150.72 L187.95,152.90 L188.33,154.15 L188.72,154.79 L189.10,155.10 L189.48,155.22 L189.87,155.27 L190.25,155.29 L190.63,155.30 L191.02,155.30 L191.40,155.30 L191.78,155.30 L192.16,155.30 L192.55,155.30 L192.93,155.30 L193.31,155.28 L193.70,155.25 L194.08,155.17 L194.46,154.99 L194.84,154.66 L195.23,154.19 L195.61,153.62 L195.99,153.10 L196.38,152.82 L196.76,152.88 L197.14,153.27 L197.53,153.82 L197.91,154.37 L198.29,154.79 L198.67,155.05 L199.06,155.18 L199.44,155.21 L199.82,155.16 L200.21,155.05 L200.59,154.85 L200.97,154.56 L201.35,154.18 L201.74,153.74 L202.12,153.31 L202.50,152.98 L202.89,152.81 L203.27,152.85 L203.65,153.10 L204.04,153.48 L204.42,153.92 L204.80,154.34 L205.18,154.69 L205.57,154.94 L205.95,155.11 L206.33,155.21 L206.72,155.26 L207.10,155.28 L207.48,155.29 L207.86,155.30 L208.25,155.30 L208.63,155.30 L209.01,155.30 L209.40,155.30 L209.78,155.30 L210.16,155.30 L210.55,155.30 L210.93,155.30 L211.31,155.30 L211.69,155.30 L212.08,155.30 L212.46,155.30 L212.84,155.30 L213.23,155.30 L213.61,155.30 L213.99,155.30 L214.37,155.30 L214.76,155.30 L215.14,155.30 L215.52,155.30 L215.91,155.30 L216.29,155.30 L216.67,155.30 L217.06,155.30 L217.44,155.30 L217.82,155.30 L218.20,155.30 L218.59,155.30 L218.97,155.30 L219.35,155.30 L219.74,155.30 L220.12,155.30 L220.50,155.30 L220.88,155.30 L221.27,155.30 L221.65,155.30 L222.03,155.30 L222.42,155.30 L222.80,155.30 L223.18,155.30 L223.57,155.30 L223.95,155.30 L224.33,155.30 L224.71,155.30 L225.10,155.30 L225.48,155.30 L225.86,155.30 L226.25,155.30 L226.63,155.30 L227.01,155.30 L227.39,155.30 L227.78,155.30 L228.16,155.30 L228.54,155.30 L228.93,155.30 L229.31,155.30 L229.69,155.30 L230.08,155.30 L230.46,155.30 L230.84,155.30 L231.22,155.30 L231.61,155.30 L231.99,155.30 L232.37,155.30 L232.76,155.30 L233.14,155.30 L233.52,155.30 L233.90,155.30 L234.29,155.30 L234.67,155.30 L235.05,155.30 L235.44,155.30 L235.82,155.30 L236.20,155.30 L236.59,155.30 L236.97,155.30 L237.35,155.30 L237.73,155.30 L238.12,155.30 L238.50,155.30" fill="none" stroke="#3a3a3a" stroke-width="0.8" stroke-linejoin="round"/>
<line x1="123.60" y1="155.40" x2="238.50" y2="155.40" stroke="#3a5a80" stroke-width="0.5" />
<text x="185.00" y="114.00" font-size="8.3" fill="#404040" text-anchor="middle" >Pep</text>
<text x="187.80" y="103.00" font-size="9" fill="#333" text-anchor="middle" >+</text>
<polygon points="196.20,96.10 197.41,98.73 200.29,99.07 198.16,101.04 198.73,103.88 196.20,102.46 193.67,103.88 194.24,101.04 192.11,99.07 194.99,98.73" fill="#F2C12E" stroke="#7a6418" stroke-width="0.4" stroke-linejoin="round"/>
<circle cx="196.20" cy="95.15" r="2.32" fill="#F2C12E" stroke="#7a6418" stroke-width="0.4"/>
<text x="124.50" y="164.80" font-size="7.6" fill="#404040" text-anchor="middle" >15</text>
<text x="238.20" y="164.80" font-size="7.6" fill="#404040" text-anchor="middle" >19</text>
<text x="181.30" y="177.60" font-size="8.7" fill="#404040" text-anchor="middle" >Time (min)</text>
<text x="258.40" y="9.00" font-size="11.5" fill="#111" font-weight="bold" stroke="#111" stroke-width="0.5">b</text>
<path d="M282.5,16.2 L289,15 L296.5,14.7 L304.8,15.6 L302.8,17.8 L307.2,19.2 L303.6,21.4 L306.4,23.8 L301.4,25.6 L297,27.8 L290,27.6 L285.4,27 L283.2,26.2 L285.4,24.4 L280,23.4 L283.6,21.2 L280.6,19.4 L284.4,18 Z" fill="#e8e8e8" stroke="#8a8a8a" stroke-width="0.6" stroke-linejoin="round"/>
<circle cx="293.2" cy="21.5" r="2.7" fill="#666"/>
<text x="329.60" y="16.80" font-size="8.55" fill="#404040" text-anchor="middle" >Transf. CHO</text>
<text x="329.00" y="27.30" font-size="8.55" fill="#404040" text-anchor="middle" >pgsA-745</text>
<line x1="290.60" y1="35.10" x2="290.60" y2="51.10" stroke="#222" stroke-width="1.2" />
<polygon points="290.60,55.10 288.50,50.60 292.70,50.60" fill="#222"/>
<text x="296.20" y="46.90" font-size="8.6" fill="#404040" >Ac<tspan font-size="6" dy="2">3</tspan></text>
<polygon points="314.30,40.60 315.54,43.29 318.48,43.64 316.31,45.65 316.89,48.56 314.30,47.11 311.71,48.56 312.29,45.65 310.12,43.64 313.06,43.29" fill="#F2C12E" stroke="#7a6418" stroke-width="0.4" stroke-linejoin="round"/>
<circle cx="314.30" cy="39.63" r="2.38" fill="#F2C12E" stroke="#7a6418" stroke-width="0.4"/>
<text x="318.30" y="46.90" font-size="8.3" fill="#404040" >-1-P(PG)<tspan font-size="6" dy="2">2</tspan></text>
<polygon points="291.10,65.40 292.40,68.21 295.47,68.58 293.20,70.68 293.80,73.72 291.10,72.21 288.40,73.72 289.00,70.68 286.73,68.58 289.80,68.21" fill="#F2C12E" stroke="#7a6418" stroke-width="0.4" stroke-linejoin="round"/>
<circle cx="291.10" cy="64.39" r="2.48" fill="#F2C12E" stroke="#7a6418" stroke-width="0.4"/>
<line x1="291.10" y1="73.50" x2="291.10" y2="79.20" stroke="#888" stroke-width="0.7" />
<path d="M276.60,80.60 C275.60,83.20 273.80,87.60 275.80,87.70 C277.40,87.70 277.00,85.20 275.40,86.00 M275.40,86.00 C280.00,81.20 285.00,77.60 288.50,78.20 C292.00,78.80 295.00,88.80 299.00,88.80 C303.00,88.80 306.00,79.20 310.50,78.90 C315.20,78.70 315.00,87.00 313.30,87.20 C311.80,87.40 311.40,81.20 313.30,79.40" fill="none" stroke="#5a5a5a" stroke-width="1.3" stroke-linecap="round" stroke-linejoin="round" />
<rect x="316.40" y="65.40" width="24.20" height="10.00" fill="#fff" stroke="#666" stroke-width="0.7"/>
<text x="328.50" y="72.60" font-size="6.3" fill="#404040" text-anchor="middle" >Biotin</text>
<line x1="340.60" y1="70.40" x2="343.50" y2="70.40" stroke="#888" stroke-width="0.7" />
<path d="M345.80,68.00 A2.6,2.6 0 0 0 345.10,73.00" fill="none" stroke="#e0283a" stroke-width="1.1"/>
<line x1="323.30" y1="79.50" x2="341.40" y2="79.50" stroke="#222" stroke-width="1.3" />
<polygon points="345.20,79.50 340.90,81.60 340.90,77.40" fill="#222"/>
<text x="322.60" y="91.20" font-size="9.2" fill="#404040" >Click</text>
<circle cx="358.6" cy="66.8" r="9.3" fill="url(#bead)" stroke="#333" stroke-width="0.4"/>
<rect x="357.00" y="63.60" width="23.50" height="7.20" fill="#fff" stroke="#555" stroke-width="0.7"/>
<text x="368.70" y="69.30" font-size="6.3" fill="#404040" text-anchor="middle" >Biotin</text>
<line x1="380.50" y1="67.00" x2="384.00" y2="67.00" stroke="#888" stroke-width="0.7" />
<polygon points="386.90,67.80 388.14,70.49 391.08,70.84 388.91,72.85 389.49,75.76 386.90,74.31 384.31,75.76 384.89,72.85 382.72,70.84 385.66,70.49" fill="#F2C12E" stroke="#7a6418" stroke-width="0.4" stroke-linejoin="round"/>
<circle cx="386.90" cy="66.83" r="2.38" fill="#F2C12E" stroke="#7a6418" stroke-width="0.4"/>
<path d="M384.64,67.54 A2.68,2.68 0 0 1 389.16,66.36" fill="none" stroke="#e8303a" stroke-width="1.54"/>
<line x1="386.90" y1="75.50" x2="386.90" y2="81.20" stroke="#888" stroke-width="0.7" />
<path d="M372.50,82.60 C371.50,85.20 369.70,89.60 371.70,89.70 C373.30,89.70 372.90,87.20 371.30,88.00 M371.30,88.00 C375.90,83.20 380.90,79.60 384.40,80.20 C387.90,80.80 390.90,90.80 394.90,90.80 C398.90,90.80 401.90,81.20 406.40,80.90 C411.10,80.70 410.90,89.00 409.20,89.20 C407.70,89.40 407.30,83.20 409.20,81.40" fill="none" stroke="#5a5a5a" stroke-width="1.3" stroke-linecap="round" stroke-linejoin="round" />
<text x="384.80" y="110.20" font-size="8.8" fill="#404040" text-anchor="end" >On-bead</text>
<text x="384.80" y="119.60" font-size="8.8" fill="#404040" text-anchor="end" >trypsin</text>
<line x1="390.60" y1="101.40" x2="390.60" y2="117.40" stroke="#222" stroke-width="1.2" />
<polygon points="390.60,121.40 388.50,116.90 392.70,116.90" fill="#222"/>
<path d="M370.5,146.8 Q375,140.5 382.5,138.4" fill="none" stroke="#555" stroke-width="1.3" stroke-linecap="round" stroke-linejoin="round" />
<path d="M384,147.5 Q388.5,146.5 390.9,140.3" fill="none" stroke="#555" stroke-width="1.3" stroke-linecap="round" stroke-linejoin="round" />
<path d="M394.7,150.1 Q397.8,152.8 397.1,154.6 Q396.5,156.5 395,157.1" fill="none" stroke="#555" stroke-width="1.3" stroke-linecap="round" stroke-linejoin="round" />
<path d="M399.3,142.4 Q403,140.6 407.9,141.2 Q409.2,146.2 406.1,148.4 Q403.6,147.8 404.1,142.4" fill="none" stroke="#555" stroke-width="1.3" stroke-linecap="round" stroke-linejoin="round" />
<rect x="270.60" y="104.30" width="16.00" height="8.00" fill="#fff" stroke="#666" stroke-width="0.7"/>
<text x="278.60" y="110.60" font-size="6.2" fill="#404040" text-anchor="middle" >ITag</text>
<line x1="286.60" y1="108.30" x2="290.20" y2="108.30" stroke="#888" stroke-width="0.7" />
<path d="M292.80,105.90 A2.6,2.6 0 0 0 292.10,110.90" fill="none" stroke="#e0283a" stroke-width="1.1"/>
<line x1="296.20" y1="101.00" x2="296.20" y2="117.40" stroke="#222" stroke-width="1.2" />
<polygon points="296.20,121.40 294.10,116.90 298.30,116.90" fill="#222"/>
<text x="299.40" y="113.20" font-size="9.2" fill="#404040" >Click</text>
<rect x="268.20" y="127.70" width="16.30" height="8.00" fill="#fff" stroke="#666" stroke-width="0.7"/>
<text x="276.30" y="134.00" font-size="6.2" fill="#404040" text-anchor="middle" >ITag</text>
<line x1="284.50" y1="131.50" x2="288.20" y2="131.50" stroke="#888" stroke-width="0.7" />
<polygon points="291.00,133.10 292.24,135.79 295.18,136.14 293.01,138.15 293.59,141.06 291.00,139.61 288.41,141.06 288.99,138.15 286.82,136.14 289.76,135.79" fill="#F2C12E" stroke="#7a6418" stroke-width="0.4" stroke-linejoin="round"/>
<circle cx="291.00" cy="132.13" r="2.38" fill="#F2C12E" stroke="#7a6418" stroke-width="0.4"/>
<path d="M288.74,132.84 A2.68,2.68 0 0 1 293.26,131.66" fill="none" stroke="#e8303a" stroke-width="1.54"/>
<line x1="291.00" y1="140.60" x2="291.00" y2="146.10" stroke="#888" stroke-width="0.7" />
<path d="M276.60,147.50 C275.60,150.10 273.80,154.50 275.80,154.60 C277.40,154.60 277.00,152.10 275.40,152.90 M275.40,152.90 C280.00,148.10 285.00,144.50 288.50,145.10 C292.00,145.70 295.00,155.70 299.00,155.70 C303.00,155.70 306.00,146.10 310.50,145.80 C315.20,145.60 315.00,153.90 313.30,154.10 C311.80,154.30 311.40,148.10 313.30,146.30" fill="none" stroke="#5a5a5a" stroke-width="1.3" stroke-linecap="round" stroke-linejoin="round" />
<text x="435.00" y="8.80" font-size="11.5" fill="#111" font-weight="bold" stroke="#111" stroke-width="0.5">c</text>
<line x1="518.84" y1="165.30" x2="518.84" y2="165.06" stroke="#666" stroke-width="0.6" />
<line x1="482.78" y1="165.30" x2="482.78" y2="163.40" stroke="#222" stroke-width="0.6" />
<line x1="536.08" y1="165.30" x2="536.08" y2="163.56" stroke="#666" stroke-width="0.6" />
<line x1="487.44" y1="165.30" x2="487.44" y2="156.03" stroke="#666" stroke-width="0.6" />
<line x1="559.93" y1="165.30" x2="559.93" y2="162.75" stroke="#333" stroke-width="0.6" />
<line x1="513.47" y1="165.30" x2="513.47" y2="164.14" stroke="#999" stroke-width="0.6" />
<line x1="496.37" y1="165.30" x2="496.37" y2="163.84" stroke="#666" stroke-width="0.6" />
<line x1="579.80" y1="165.30" x2="579.80" y2="163.15" stroke="#666" stroke-width="0.6" />
<line x1="535.13" y1="165.30" x2="535.13" y2="163.40" stroke="#333" stroke-width="0.6" />
<line x1="507.00" y1="165.30" x2="507.00" y2="165.03" stroke="#333" stroke-width="0.6" />
<line x1="550.46" y1="165.30" x2="550.46" y2="164.23" stroke="#222" stroke-width="0.6" />
<line x1="486.54" y1="165.30" x2="486.54" y2="164.78" stroke="#555" stroke-width="0.6" />
<line x1="534.21" y1="165.30" x2="534.21" y2="162.74" stroke="#333" stroke-width="0.6" />
<line x1="521.40" y1="165.30" x2="521.40" y2="160.29" stroke="#222" stroke-width="0.6" />
<line x1="542.43" y1="165.30" x2="542.43" y2="161.50" stroke="#999" stroke-width="0.6" />
<line x1="558.74" y1="165.30" x2="558.74" y2="161.34" stroke="#999" stroke-width="0.6" />
<line x1="522.48" y1="165.30" x2="522.48" y2="162.34" stroke="#555" stroke-width="0.6" />
<line x1="477.26" y1="165.30" x2="477.26" y2="164.41" stroke="#555" stroke-width="0.6" />
<line x1="494.12" y1="165.30" x2="494.12" y2="164.84" stroke="#555" stroke-width="0.6" />
<line x1="533.20" y1="165.30" x2="533.20" y2="143.32" stroke="#333" stroke-width="0.6" />
<line x1="481.03" y1="165.30" x2="481.03" y2="165.26" stroke="#666" stroke-width="0.6" />
<line x1="496.63" y1="165.30" x2="496.63" y2="162.90" stroke="#666" stroke-width="0.6" />
<line x1="556.92" y1="165.30" x2="556.92" y2="163.02" stroke="#666" stroke-width="0.6" />
<line x1="539.69" y1="165.30" x2="539.69" y2="156.34" stroke="#666" stroke-width="0.6" />
<line x1="529.60" y1="165.30" x2="529.60" y2="162.14" stroke="#222" stroke-width="0.6" />
<line x1="497.93" y1="165.30" x2="497.93" y2="164.93" stroke="#666" stroke-width="0.6" />
<line x1="476.25" y1="165.30" x2="476.25" y2="164.96" stroke="#333" stroke-width="0.6" />
<line x1="564.36" y1="165.30" x2="564.36" y2="163.82" stroke="#999" stroke-width="0.6" />
<line x1="507.60" y1="165.30" x2="507.60" y2="164.89" stroke="#555" stroke-width="0.6" />
<line x1="543.96" y1="165.30" x2="543.96" y2="163.98" stroke="#333" stroke-width="0.6" />
<line x1="543.14" y1="165.30" x2="543.14" y2="164.58" stroke="#666" stroke-width="0.6" />
<line x1="524.80" y1="165.30" x2="524.80" y2="154.16" stroke="#333" stroke-width="0.6" />
<line x1="577.30" y1="165.30" x2="577.30" y2="164.73" stroke="#333" stroke-width="0.6" />
<line x1="551.62" y1="165.30" x2="551.62" y2="164.51" stroke="#333" stroke-width="0.6" />
<line x1="549.27" y1="165.30" x2="549.27" y2="165.21" stroke="#333" stroke-width="0.6" />
<line x1="542.14" y1="165.30" x2="542.14" y2="163.97" stroke="#999" stroke-width="0.6" />
<line x1="525.25" y1="165.30" x2="525.25" y2="164.61" stroke="#333" stroke-width="0.6" />
<line x1="543.78" y1="165.30" x2="543.78" y2="165.29" stroke="#999" stroke-width="0.6" />
<line x1="522.01" y1="165.30" x2="522.01" y2="164.90" stroke="#555" stroke-width="0.6" />
<line x1="543.05" y1="165.30" x2="543.05" y2="164.03" stroke="#999" stroke-width="0.6" />
<line x1="530.15" y1="165.30" x2="530.15" y2="155.17" stroke="#333" stroke-width="0.6" />
<line x1="623.92" y1="165.30" x2="623.92" y2="164.61" stroke="#999" stroke-width="0.6" />
<line x1="490.95" y1="165.30" x2="490.95" y2="156.89" stroke="#333" stroke-width="0.6" />
<line x1="492.48" y1="165.30" x2="492.48" y2="160.26" stroke="#999" stroke-width="0.6" />
<line x1="570.00" y1="165.30" x2="570.00" y2="160.83" stroke="#333" stroke-width="0.6" />
<line x1="507.54" y1="165.30" x2="507.54" y2="162.53" stroke="#333" stroke-width="0.6" />
<line x1="553.46" y1="165.30" x2="553.46" y2="161.07" stroke="#555" stroke-width="0.6" />
<line x1="549.13" y1="165.30" x2="549.13" y2="164.20" stroke="#333" stroke-width="0.6" />
<line x1="550.19" y1="165.30" x2="550.19" y2="164.66" stroke="#222" stroke-width="0.6" />
<line x1="490.22" y1="165.30" x2="490.22" y2="165.10" stroke="#999" stroke-width="0.6" />
<line x1="549.38" y1="165.30" x2="549.38" y2="164.95" stroke="#666" stroke-width="0.6" />
<line x1="476.92" y1="165.30" x2="476.92" y2="164.98" stroke="#555" stroke-width="0.6" />
<line x1="556.19" y1="165.30" x2="556.19" y2="160.70" stroke="#666" stroke-width="0.6" />
<line x1="499.31" y1="165.30" x2="499.31" y2="160.13" stroke="#666" stroke-width="0.6" />
<line x1="508.76" y1="165.30" x2="508.76" y2="150.91" stroke="#333" stroke-width="0.6" />
<line x1="533.41" y1="165.30" x2="533.41" y2="161.81" stroke="#555" stroke-width="0.6" />
<line x1="479.48" y1="165.30" x2="479.48" y2="158.16" stroke="#333" stroke-width="0.6" />
<line x1="525.49" y1="165.30" x2="525.49" y2="163.32" stroke="#999" stroke-width="0.6" />
<line x1="544.50" y1="165.30" x2="544.50" y2="164.75" stroke="#555" stroke-width="0.6" />
<line x1="534.14" y1="165.30" x2="534.14" y2="163.87" stroke="#333" stroke-width="0.6" />
<line x1="554.99" y1="165.30" x2="554.99" y2="164.04" stroke="#666" stroke-width="0.6" />
<line x1="514.39" y1="165.30" x2="514.39" y2="157.43" stroke="#333" stroke-width="0.6" />
<line x1="620.56" y1="165.30" x2="620.56" y2="165.26" stroke="#333" stroke-width="0.6" />
<line x1="510.46" y1="165.30" x2="510.46" y2="157.69" stroke="#333" stroke-width="0.6" />
<line x1="531.73" y1="165.30" x2="531.73" y2="163.16" stroke="#333" stroke-width="0.6" />
<line x1="482.05" y1="165.30" x2="482.05" y2="163.56" stroke="#222" stroke-width="0.6" />
<line x1="510.22" y1="165.30" x2="510.22" y2="164.35" stroke="#666" stroke-width="0.6" />
<line x1="602.43" y1="165.30" x2="602.43" y2="163.64" stroke="#333" stroke-width="0.6" />
<line x1="474.78" y1="165.30" x2="474.78" y2="143.32" stroke="#333" stroke-width="0.6" />
<line x1="475.91" y1="165.30" x2="475.91" y2="164.16" stroke="#333" stroke-width="0.6" />
<line x1="513.52" y1="165.30" x2="513.52" y2="163.96" stroke="#222" stroke-width="0.6" />
<line x1="624.14" y1="165.30" x2="624.14" y2="164.53" stroke="#333" stroke-width="0.6" />
<line x1="548.73" y1="165.30" x2="548.73" y2="161.93" stroke="#999" stroke-width="0.6" />
<line x1="535.85" y1="165.30" x2="535.85" y2="163.73" stroke="#666" stroke-width="0.6" />
<line x1="516.32" y1="165.30" x2="516.32" y2="164.60" stroke="#999" stroke-width="0.6" />
<line x1="582.43" y1="165.30" x2="582.43" y2="143.32" stroke="#333" stroke-width="0.6" />
<line x1="470.24" y1="165.30" x2="470.24" y2="160.88" stroke="#222" stroke-width="0.6" />
<line x1="481.26" y1="165.30" x2="481.26" y2="156.58" stroke="#333" stroke-width="0.6" />
<line x1="562.01" y1="165.30" x2="562.01" y2="164.66" stroke="#333" stroke-width="0.6" />
<line x1="537.99" y1="165.30" x2="537.99" y2="143.32" stroke="#666" stroke-width="0.6" />
<line x1="518.79" y1="165.30" x2="518.79" y2="163.37" stroke="#333" stroke-width="0.6" />
<line x1="468.17" y1="165.30" x2="468.17" y2="163.11" stroke="#333" stroke-width="0.6" />
<line x1="506.96" y1="165.30" x2="506.96" y2="159.97" stroke="#333" stroke-width="0.6" />
<line x1="530.72" y1="165.30" x2="530.72" y2="164.16" stroke="#333" stroke-width="0.6" />
<line x1="481.26" y1="165.30" x2="481.26" y2="163.98" stroke="#999" stroke-width="0.6" />
<line x1="545.59" y1="165.30" x2="545.59" y2="164.81" stroke="#999" stroke-width="0.6" />
<line x1="489.87" y1="165.30" x2="489.87" y2="159.64" stroke="#222" stroke-width="0.6" />
<line x1="576.85" y1="165.30" x2="576.85" y2="164.85" stroke="#333" stroke-width="0.6" />
<line x1="538.87" y1="165.30" x2="538.87" y2="162.92" stroke="#333" stroke-width="0.6" />
<line x1="544.82" y1="165.30" x2="544.82" y2="160.97" stroke="#666" stroke-width="0.6" />
<line x1="608.96" y1="165.30" x2="608.96" y2="163.80" stroke="#555" stroke-width="0.6" />
<line x1="507.59" y1="165.30" x2="507.59" y2="161.20" stroke="#333" stroke-width="0.6" />
<line x1="504.23" y1="165.30" x2="504.23" y2="159.44" stroke="#222" stroke-width="0.6" />
<line x1="543.20" y1="165.30" x2="543.20" y2="162.29" stroke="#999" stroke-width="0.6" />
<line x1="499.13" y1="165.30" x2="499.13" y2="161.99" stroke="#999" stroke-width="0.6" />
<line x1="515.79" y1="165.30" x2="515.79" y2="165.10" stroke="#333" stroke-width="0.6" />
<line x1="620.68" y1="165.30" x2="620.68" y2="164.56" stroke="#999" stroke-width="0.6" />
<line x1="549.10" y1="165.30" x2="549.10" y2="164.90" stroke="#666" stroke-width="0.6" />
<line x1="499.28" y1="165.30" x2="499.28" y2="165.16" stroke="#555" stroke-width="0.6" />
<line x1="480.00" y1="165.30" x2="480.00" y2="143.32" stroke="#555" stroke-width="0.6" />
<line x1="500.94" y1="165.30" x2="500.94" y2="162.57" stroke="#333" stroke-width="0.6" />
<line x1="524.45" y1="165.30" x2="524.45" y2="164.27" stroke="#222" stroke-width="0.6" />
<line x1="578.42" y1="165.30" x2="578.42" y2="160.07" stroke="#222" stroke-width="0.6" />
<line x1="492.97" y1="165.30" x2="492.97" y2="163.67" stroke="#999" stroke-width="0.6" />
<line x1="490.09" y1="165.30" x2="490.09" y2="159.54" stroke="#222" stroke-width="0.6" />
<line x1="518.95" y1="165.30" x2="518.95" y2="156.47" stroke="#333" stroke-width="0.6" />
<line x1="513.50" y1="165.30" x2="513.50" y2="144.20" stroke="#666" stroke-width="0.6" />
<line x1="479.99" y1="165.30" x2="479.99" y2="159.25" stroke="#333" stroke-width="0.6" />
<line x1="483.97" y1="165.30" x2="483.97" y2="156.69" stroke="#333" stroke-width="0.6" />
<line x1="517.55" y1="165.30" x2="517.55" y2="163.55" stroke="#222" stroke-width="0.6" />
<line x1="554.23" y1="165.30" x2="554.23" y2="161.16" stroke="#555" stroke-width="0.6" />
<line x1="564.54" y1="165.30" x2="564.54" y2="160.08" stroke="#666" stroke-width="0.6" />
<line x1="487.99" y1="165.30" x2="487.99" y2="164.19" stroke="#999" stroke-width="0.6" />
<line x1="531.77" y1="165.30" x2="531.77" y2="161.83" stroke="#222" stroke-width="0.6" />
<line x1="494.27" y1="165.30" x2="494.27" y2="157.88" stroke="#555" stroke-width="0.6" />
<line x1="554.41" y1="165.30" x2="554.41" y2="160.83" stroke="#555" stroke-width="0.6" />
<line x1="489.92" y1="165.30" x2="489.92" y2="163.99" stroke="#222" stroke-width="0.6" />
<line x1="518.13" y1="165.30" x2="518.13" y2="164.59" stroke="#222" stroke-width="0.6" />
<line x1="532.98" y1="165.30" x2="532.98" y2="164.00" stroke="#222" stroke-width="0.6" />
<line x1="546.21" y1="165.30" x2="546.21" y2="161.66" stroke="#666" stroke-width="0.6" />
<line x1="501.91" y1="165.30" x2="501.91" y2="163.70" stroke="#555" stroke-width="0.6" />
<line x1="535.80" y1="165.30" x2="535.80" y2="154.49" stroke="#333" stroke-width="0.6" />
<line x1="473.06" y1="165.30" x2="473.06" y2="160.27" stroke="#666" stroke-width="0.6" />
<line x1="544.90" y1="165.30" x2="544.90" y2="144.63" stroke="#666" stroke-width="0.6" />
<line x1="507.01" y1="165.30" x2="507.01" y2="162.98" stroke="#999" stroke-width="0.6" />
<line x1="485.10" y1="165.30" x2="485.10" y2="159.42" stroke="#555" stroke-width="0.6" />
<line x1="481.35" y1="165.30" x2="481.35" y2="164.88" stroke="#666" stroke-width="0.6" />
<line x1="515.69" y1="165.30" x2="515.69" y2="162.12" stroke="#999" stroke-width="0.6" />
<line x1="587.92" y1="165.30" x2="587.92" y2="162.14" stroke="#333" stroke-width="0.6" />
<line x1="528.93" y1="165.30" x2="528.93" y2="165.27" stroke="#333" stroke-width="0.6" />
<line x1="517.67" y1="165.30" x2="517.67" y2="162.95" stroke="#666" stroke-width="0.6" />
<line x1="506.79" y1="165.30" x2="506.79" y2="164.15" stroke="#222" stroke-width="0.6" />
<line x1="498.48" y1="165.30" x2="498.48" y2="165.03" stroke="#333" stroke-width="0.6" />
<line x1="503.61" y1="165.30" x2="503.61" y2="163.59" stroke="#999" stroke-width="0.6" />
<line x1="530.23" y1="165.30" x2="530.23" y2="159.44" stroke="#222" stroke-width="0.6" />
<line x1="500.22" y1="165.30" x2="500.22" y2="159.92" stroke="#333" stroke-width="0.6" />
<line x1="541.02" y1="165.30" x2="541.02" y2="164.39" stroke="#666" stroke-width="0.6" />
<line x1="545.84" y1="165.30" x2="545.84" y2="163.61" stroke="#999" stroke-width="0.6" />
<line x1="476.86" y1="165.30" x2="476.86" y2="164.86" stroke="#222" stroke-width="0.6" />
<line x1="476.14" y1="165.30" x2="476.14" y2="158.13" stroke="#333" stroke-width="0.6" />
<line x1="497.13" y1="165.30" x2="497.13" y2="165.20" stroke="#999" stroke-width="0.6" />
<line x1="485.11" y1="165.30" x2="485.11" y2="163.59" stroke="#222" stroke-width="0.6" />
<line x1="556.10" y1="165.30" x2="556.10" y2="160.70" stroke="#333" stroke-width="0.6" />
<line x1="475.73" y1="165.30" x2="475.73" y2="157.39" stroke="#333" stroke-width="0.6" />
<line x1="518.76" y1="165.30" x2="518.76" y2="162.16" stroke="#333" stroke-width="0.6" />
<line x1="474.38" y1="165.30" x2="474.38" y2="157.37" stroke="#333" stroke-width="0.6" />
<line x1="498.61" y1="165.30" x2="498.61" y2="163.88" stroke="#333" stroke-width="0.6" />
<line x1="509.16" y1="165.30" x2="509.16" y2="164.29" stroke="#222" stroke-width="0.6" />
<line x1="581.29" y1="165.30" x2="581.29" y2="156.11" stroke="#222" stroke-width="0.6" />
<line x1="471.81" y1="165.30" x2="471.81" y2="155.44" stroke="#555" stroke-width="0.6" />
<line x1="545.96" y1="165.30" x2="545.96" y2="162.46" stroke="#999" stroke-width="0.6" />
<line x1="519.46" y1="165.30" x2="519.46" y2="160.51" stroke="#222" stroke-width="0.6" />
<line x1="548.37" y1="165.30" x2="548.37" y2="163.66" stroke="#999" stroke-width="0.6" />
<line x1="473.32" y1="165.30" x2="473.32" y2="152.98" stroke="#222" stroke-width="0.6" />
<line x1="481.20" y1="165.30" x2="481.20" y2="161.42" stroke="#555" stroke-width="0.6" />
<line x1="495.19" y1="165.30" x2="495.19" y2="158.33" stroke="#333" stroke-width="0.6" />
<line x1="572.31" y1="165.30" x2="572.31" y2="164.21" stroke="#666" stroke-width="0.6" />
<line x1="510.02" y1="165.30" x2="510.02" y2="163.48" stroke="#333" stroke-width="0.6" />
<line x1="506.52" y1="165.30" x2="506.52" y2="158.52" stroke="#333" stroke-width="0.6" />
<line x1="478.17" y1="165.30" x2="478.17" y2="162.95" stroke="#999" stroke-width="0.6" />
<line x1="623.58" y1="165.30" x2="623.58" y2="163.42" stroke="#555" stroke-width="0.6" />
<line x1="611.56" y1="165.30" x2="611.56" y2="165.16" stroke="#333" stroke-width="0.6" />
<line x1="498.48" y1="165.30" x2="498.48" y2="164.69" stroke="#666" stroke-width="0.6" />
<line x1="508.81" y1="165.30" x2="508.81" y2="164.42" stroke="#666" stroke-width="0.6" />
<line x1="579.42" y1="165.30" x2="579.42" y2="164.00" stroke="#222" stroke-width="0.6" />
<line x1="500.02" y1="165.30" x2="500.02" y2="161.99" stroke="#333" stroke-width="0.6" />
<line x1="532.21" y1="165.30" x2="532.21" y2="165.05" stroke="#222" stroke-width="0.6" />
<line x1="477.93" y1="165.30" x2="477.93" y2="162.79" stroke="#999" stroke-width="0.6" />
<line x1="551.84" y1="165.30" x2="551.84" y2="164.31" stroke="#333" stroke-width="0.6" />
<line x1="572.85" y1="165.30" x2="572.85" y2="161.01" stroke="#333" stroke-width="0.6" />
<line x1="533.01" y1="165.30" x2="533.01" y2="160.21" stroke="#999" stroke-width="0.6" />
<line x1="498.96" y1="165.30" x2="498.96" y2="165.28" stroke="#333" stroke-width="0.6" />
<line x1="534.53" y1="165.30" x2="534.53" y2="158.57" stroke="#555" stroke-width="0.6" />
<line x1="476.12" y1="165.30" x2="476.12" y2="163.71" stroke="#666" stroke-width="0.6" />
<line x1="565.68" y1="165.30" x2="565.68" y2="164.80" stroke="#333" stroke-width="0.6" />
<line x1="493.40" y1="165.30" x2="493.40" y2="163.78" stroke="#333" stroke-width="0.6" />
<line x1="515.35" y1="165.30" x2="515.35" y2="157.64" stroke="#333" stroke-width="0.6" />
<line x1="476.38" y1="165.30" x2="476.38" y2="157.93" stroke="#666" stroke-width="0.6" />
<line x1="565.51" y1="165.30" x2="565.51" y2="163.29" stroke="#666" stroke-width="0.6" />
<line x1="502.25" y1="165.30" x2="502.25" y2="163.78" stroke="#222" stroke-width="0.6" />
<line x1="491.47" y1="165.30" x2="491.47" y2="164.63" stroke="#666" stroke-width="0.6" />
<line x1="572.86" y1="165.30" x2="572.86" y2="163.39" stroke="#999" stroke-width="0.6" />
<line x1="516.39" y1="165.30" x2="516.39" y2="163.86" stroke="#666" stroke-width="0.6" />
<line x1="536.82" y1="165.30" x2="536.82" y2="163.19" stroke="#333" stroke-width="0.6" />
<line x1="538.15" y1="165.30" x2="538.15" y2="159.61" stroke="#555" stroke-width="0.6" />
<line x1="530.85" y1="165.30" x2="530.85" y2="163.87" stroke="#555" stroke-width="0.6" />
<line x1="547.18" y1="165.30" x2="547.18" y2="164.86" stroke="#999" stroke-width="0.6" />
<line x1="517.25" y1="165.30" x2="517.25" y2="160.92" stroke="#555" stroke-width="0.6" />
<line x1="472.06" y1="165.30" x2="472.06" y2="161.60" stroke="#222" stroke-width="0.6" />
<line x1="498.41" y1="165.30" x2="498.41" y2="155.45" stroke="#333" stroke-width="0.6" />
<line x1="502.72" y1="165.30" x2="502.72" y2="164.39" stroke="#333" stroke-width="0.6" />
<line x1="546.85" y1="165.30" x2="546.85" y2="164.34" stroke="#666" stroke-width="0.6" />
<line x1="505.27" y1="165.30" x2="505.27" y2="163.68" stroke="#999" stroke-width="0.6" />
<line x1="591.22" y1="165.30" x2="591.22" y2="164.19" stroke="#333" stroke-width="0.6" />
<line x1="549.87" y1="165.30" x2="549.87" y2="163.02" stroke="#666" stroke-width="0.6" />
<line x1="566.87" y1="165.30" x2="566.87" y2="164.33" stroke="#333" stroke-width="0.6" />
<line x1="558.65" y1="165.30" x2="558.65" y2="163.47" stroke="#333" stroke-width="0.6" />
<line x1="514.53" y1="165.30" x2="514.53" y2="154.69" stroke="#666" stroke-width="0.6" />
<line x1="502.80" y1="165.30" x2="502.80" y2="163.60" stroke="#333" stroke-width="0.6" />
<line x1="503.68" y1="165.30" x2="503.68" y2="165.29" stroke="#333" stroke-width="0.6" />
<line x1="515.69" y1="165.30" x2="515.69" y2="163.63" stroke="#333" stroke-width="0.6" />
<line x1="560.49" y1="165.30" x2="560.49" y2="163.28" stroke="#333" stroke-width="0.6" />
<line x1="470.22" y1="165.30" x2="470.22" y2="163.42" stroke="#222" stroke-width="0.6" />
<line x1="509.49" y1="165.30" x2="509.49" y2="162.71" stroke="#333" stroke-width="0.6" />
<line x1="561.37" y1="165.30" x2="561.37" y2="163.01" stroke="#555" stroke-width="0.6" />
<line x1="507.01" y1="165.30" x2="507.01" y2="162.92" stroke="#555" stroke-width="0.6" />
<line x1="497.15" y1="165.30" x2="497.15" y2="164.43" stroke="#666" stroke-width="0.6" />
<line x1="554.49" y1="165.30" x2="554.49" y2="164.60" stroke="#666" stroke-width="0.6" />
<line x1="568.90" y1="165.30" x2="568.90" y2="162.32" stroke="#666" stroke-width="0.6" />
<line x1="516.57" y1="165.30" x2="516.57" y2="158.39" stroke="#555" stroke-width="0.6" />
<line x1="580.32" y1="165.30" x2="580.32" y2="161.01" stroke="#555" stroke-width="0.6" />
<line x1="480.64" y1="165.30" x2="480.64" y2="147.44" stroke="#333" stroke-width="0.6" />
<line x1="504.47" y1="165.30" x2="504.47" y2="160.95" stroke="#999" stroke-width="0.6" />
<line x1="476.25" y1="165.30" x2="476.25" y2="161.67" stroke="#666" stroke-width="0.6" />
<line x1="481.41" y1="165.30" x2="481.41" y2="157.92" stroke="#999" stroke-width="0.6" />
<line x1="499.84" y1="165.30" x2="499.84" y2="163.63" stroke="#555" stroke-width="0.6" />
<line x1="519.58" y1="165.30" x2="519.58" y2="157.48" stroke="#999" stroke-width="0.6" />
<line x1="552.21" y1="165.30" x2="552.21" y2="165.28" stroke="#222" stroke-width="0.6" />
<line x1="536.64" y1="165.30" x2="536.64" y2="164.15" stroke="#333" stroke-width="0.6" />
<line x1="529.48" y1="165.30" x2="529.48" y2="164.71" stroke="#222" stroke-width="0.6" />
<line x1="472.22" y1="165.30" x2="472.22" y2="161.98" stroke="#333" stroke-width="0.6" />
<line x1="578.02" y1="165.30" x2="578.02" y2="162.06" stroke="#222" stroke-width="0.6" />
<line x1="478.33" y1="165.30" x2="478.33" y2="159.96" stroke="#666" stroke-width="0.6" />
<line x1="607.93" y1="165.30" x2="607.93" y2="158.55" stroke="#555" stroke-width="0.6" />
<line x1="484.82" y1="165.30" x2="484.82" y2="165.19" stroke="#999" stroke-width="0.6" />
<line x1="481.73" y1="165.30" x2="481.73" y2="163.26" stroke="#333" stroke-width="0.6" />
<line x1="483.36" y1="165.30" x2="483.36" y2="164.09" stroke="#555" stroke-width="0.6" />
<line x1="509.00" y1="165.30" x2="509.00" y2="164.91" stroke="#333" stroke-width="0.6" />
<line x1="562.52" y1="165.30" x2="562.52" y2="161.00" stroke="#555" stroke-width="0.6" />
<line x1="472.91" y1="165.30" x2="472.91" y2="163.31" stroke="#222" stroke-width="0.6" />
<line x1="552.45" y1="165.30" x2="552.45" y2="164.55" stroke="#333" stroke-width="0.6" />
<line x1="494.75" y1="165.30" x2="494.75" y2="160.79" stroke="#222" stroke-width="0.6" />
<line x1="468.68" y1="165.30" x2="468.68" y2="160.30" stroke="#333" stroke-width="0.6" />
<line x1="558.75" y1="165.30" x2="558.75" y2="156.55" stroke="#333" stroke-width="0.6" />
<line x1="546.24" y1="165.30" x2="546.24" y2="165.04" stroke="#999" stroke-width="0.6" />
<line x1="556.12" y1="165.30" x2="556.12" y2="164.99" stroke="#555" stroke-width="0.6" />
<line x1="534.27" y1="165.30" x2="534.27" y2="164.17" stroke="#555" stroke-width="0.6" />
<line x1="527.55" y1="165.30" x2="527.55" y2="163.36" stroke="#666" stroke-width="0.6" />
<line x1="561.27" y1="165.30" x2="561.27" y2="165.19" stroke="#666" stroke-width="0.6" />
<line x1="519.29" y1="165.30" x2="519.29" y2="161.89" stroke="#999" stroke-width="0.6" />
<line x1="518.76" y1="165.30" x2="518.76" y2="164.37" stroke="#333" stroke-width="0.6" />
<line x1="487.79" y1="165.30" x2="487.79" y2="163.17" stroke="#333" stroke-width="0.6" />
<line x1="509.99" y1="165.30" x2="509.99" y2="162.28" stroke="#999" stroke-width="0.6" />
<line x1="492.49" y1="165.30" x2="492.49" y2="162.98" stroke="#333" stroke-width="0.6" />
<line x1="505.09" y1="165.30" x2="505.09" y2="155.56" stroke="#222" stroke-width="0.6" />
<line x1="493.84" y1="165.30" x2="493.84" y2="164.79" stroke="#333" stroke-width="0.6" />
<line x1="536.28" y1="165.30" x2="536.28" y2="164.95" stroke="#333" stroke-width="0.6" />
<line x1="469.98" y1="165.30" x2="469.98" y2="164.51" stroke="#999" stroke-width="0.6" />
<line x1="514.51" y1="165.30" x2="514.51" y2="161.09" stroke="#222" stroke-width="0.6" />
<line x1="535.51" y1="165.30" x2="535.51" y2="163.58" stroke="#333" stroke-width="0.6" />
<line x1="572.86" y1="165.30" x2="572.86" y2="157.24" stroke="#666" stroke-width="0.6" />
<line x1="568.72" y1="165.30" x2="568.72" y2="162.19" stroke="#222" stroke-width="0.6" />
<line x1="530.82" y1="165.30" x2="530.82" y2="159.35" stroke="#555" stroke-width="0.6" />
<line x1="539.47" y1="165.30" x2="539.47" y2="161.77" stroke="#333" stroke-width="0.6" />
<line x1="469.67" y1="165.30" x2="469.67" y2="164.42" stroke="#333" stroke-width="0.6" />
<line x1="553.31" y1="165.30" x2="553.31" y2="156.43" stroke="#666" stroke-width="0.6" />
<line x1="522.67" y1="165.30" x2="522.67" y2="164.58" stroke="#555" stroke-width="0.6" />
<line x1="548.41" y1="165.30" x2="548.41" y2="162.98" stroke="#555" stroke-width="0.6" />
<line x1="548.67" y1="165.30" x2="548.67" y2="162.31" stroke="#999" stroke-width="0.6" />
<line x1="476.89" y1="165.30" x2="476.89" y2="165.26" stroke="#555" stroke-width="0.6" />
<line x1="573.96" y1="165.30" x2="573.96" y2="164.16" stroke="#555" stroke-width="0.6" />
<line x1="502.37" y1="165.30" x2="502.37" y2="164.55" stroke="#333" stroke-width="0.6" />
<line x1="613.92" y1="165.30" x2="613.92" y2="165.06" stroke="#999" stroke-width="0.6" />
<line x1="556.24" y1="165.30" x2="556.24" y2="161.88" stroke="#999" stroke-width="0.6" />
<line x1="532.89" y1="165.30" x2="532.89" y2="162.01" stroke="#555" stroke-width="0.6" />
<line x1="523.70" y1="165.30" x2="523.70" y2="163.82" stroke="#333" stroke-width="0.6" />
<line x1="543.61" y1="165.30" x2="543.61" y2="163.91" stroke="#999" stroke-width="0.6" />
<line x1="515.39" y1="165.30" x2="515.39" y2="162.12" stroke="#999" stroke-width="0.6" />
<line x1="515.60" y1="165.30" x2="515.60" y2="162.69" stroke="#333" stroke-width="0.6" />
<line x1="470.35" y1="165.30" x2="470.35" y2="156.92" stroke="#333" stroke-width="0.6" />
<line x1="563.49" y1="165.30" x2="563.49" y2="163.69" stroke="#555" stroke-width="0.6" />
<line x1="522.39" y1="165.30" x2="522.39" y2="152.99" stroke="#333" stroke-width="0.6" />
<line x1="563.69" y1="165.30" x2="563.69" y2="164.56" stroke="#666" stroke-width="0.6" />
<line x1="498.99" y1="165.30" x2="498.99" y2="161.05" stroke="#555" stroke-width="0.6" />
<line x1="573.38" y1="165.30" x2="573.38" y2="163.59" stroke="#333" stroke-width="0.6" />
<line x1="542.30" y1="165.30" x2="542.30" y2="157.89" stroke="#999" stroke-width="0.6" />
<line x1="545.15" y1="165.30" x2="545.15" y2="159.06" stroke="#222" stroke-width="0.6" />
<line x1="493.18" y1="165.30" x2="493.18" y2="163.14" stroke="#333" stroke-width="0.6" />
<line x1="533.75" y1="165.30" x2="533.75" y2="162.12" stroke="#999" stroke-width="0.6" />
<line x1="569.50" y1="165.30" x2="569.50" y2="161.11" stroke="#333" stroke-width="0.6" />
<line x1="594.95" y1="165.30" x2="594.95" y2="163.74" stroke="#333" stroke-width="0.6" />
<line x1="473.32" y1="165.30" x2="473.32" y2="164.00" stroke="#999" stroke-width="0.6" />
<line x1="525.49" y1="165.30" x2="525.49" y2="160.68" stroke="#333" stroke-width="0.6" />
<line x1="512.61" y1="165.30" x2="512.61" y2="165.13" stroke="#333" stroke-width="0.6" />
<line x1="513.98" y1="165.30" x2="513.98" y2="163.10" stroke="#333" stroke-width="0.6" />
<line x1="499.95" y1="165.30" x2="499.95" y2="164.63" stroke="#999" stroke-width="0.6" />
<line x1="514.98" y1="165.30" x2="514.98" y2="160.48" stroke="#222" stroke-width="0.6" />
<line x1="530.62" y1="165.30" x2="530.62" y2="162.62" stroke="#555" stroke-width="0.6" />
<line x1="515.16" y1="165.30" x2="515.16" y2="157.31" stroke="#666" stroke-width="0.6" />
<line x1="588.26" y1="165.30" x2="588.26" y2="164.44" stroke="#555" stroke-width="0.6" />
<line x1="564.82" y1="165.30" x2="564.82" y2="162.45" stroke="#999" stroke-width="0.6" />
<line x1="481.03" y1="165.30" x2="481.03" y2="162.22" stroke="#333" stroke-width="0.6" />
<line x1="483.91" y1="165.30" x2="483.91" y2="160.62" stroke="#999" stroke-width="0.6" />
<line x1="470.11" y1="165.30" x2="470.11" y2="164.14" stroke="#999" stroke-width="0.6" />
<line x1="508.51" y1="165.30" x2="508.51" y2="164.10" stroke="#555" stroke-width="0.6" />
<line x1="556.91" y1="165.30" x2="556.91" y2="159.89" stroke="#666" stroke-width="0.6" />
<line x1="474.18" y1="165.30" x2="474.18" y2="162.61" stroke="#555" stroke-width="0.6" />
<line x1="538.10" y1="165.30" x2="538.10" y2="162.49" stroke="#999" stroke-width="0.6" />
<line x1="532.75" y1="165.30" x2="532.75" y2="164.55" stroke="#333" stroke-width="0.6" />
<line x1="566.42" y1="165.30" x2="566.42" y2="161.82" stroke="#222" stroke-width="0.6" />
<line x1="502.26" y1="165.30" x2="502.26" y2="164.29" stroke="#666" stroke-width="0.6" />
<line x1="506.04" y1="165.30" x2="506.04" y2="165.14" stroke="#999" stroke-width="0.6" />
<line x1="582.57" y1="165.30" x2="582.57" y2="161.42" stroke="#555" stroke-width="0.6" />
<line x1="611.42" y1="165.30" x2="611.42" y2="165.23" stroke="#999" stroke-width="0.6" />
<line x1="575.80" y1="165.30" x2="575.80" y2="164.12" stroke="#666" stroke-width="0.6" />
<line x1="494.06" y1="165.30" x2="494.06" y2="165.11" stroke="#333" stroke-width="0.6" />
<line x1="541.76" y1="165.30" x2="541.76" y2="164.33" stroke="#999" stroke-width="0.6" />
<line x1="493.75" y1="165.30" x2="493.75" y2="160.57" stroke="#555" stroke-width="0.6" />
<line x1="556.99" y1="165.30" x2="556.99" y2="153.85" stroke="#999" stroke-width="0.6" />
<line x1="470.43" y1="165.30" x2="470.43" y2="162.54" stroke="#333" stroke-width="0.6" />
<line x1="527.14" y1="165.30" x2="527.14" y2="158.19" stroke="#555" stroke-width="0.6" />
<line x1="512.48" y1="165.30" x2="512.48" y2="163.58" stroke="#666" stroke-width="0.6" />
<line x1="490.09" y1="165.30" x2="490.09" y2="164.05" stroke="#666" stroke-width="0.6" />
<line x1="522.46" y1="165.30" x2="522.46" y2="160.29" stroke="#333" stroke-width="0.6" />
<line x1="477.04" y1="165.30" x2="477.04" y2="157.12" stroke="#666" stroke-width="0.6" />
<line x1="540.18" y1="165.30" x2="540.18" y2="160.66" stroke="#333" stroke-width="0.6" />
<line x1="530.52" y1="165.30" x2="530.52" y2="159.67" stroke="#333" stroke-width="0.6" />
<line x1="542.82" y1="165.30" x2="542.82" y2="164.63" stroke="#333" stroke-width="0.6" />
<line x1="558.72" y1="165.30" x2="558.72" y2="159.19" stroke="#333" stroke-width="0.6" />
<line x1="475.00" y1="165.30" x2="475.00" y2="164.95" stroke="#999" stroke-width="0.6" />
<line x1="540.76" y1="165.30" x2="540.76" y2="165.20" stroke="#333" stroke-width="0.6" />
<line x1="549.55" y1="165.30" x2="549.55" y2="150.71" stroke="#666" stroke-width="0.6" />
<line x1="544.35" y1="165.30" x2="544.35" y2="160.56" stroke="#555" stroke-width="0.6" />
<line x1="483.25" y1="165.30" x2="483.25" y2="162.35" stroke="#333" stroke-width="0.6" />
<line x1="507.88" y1="165.30" x2="507.88" y2="164.67" stroke="#222" stroke-width="0.6" />
<line x1="472.32" y1="165.30" x2="472.32" y2="161.46" stroke="#555" stroke-width="0.6" />
<line x1="478.08" y1="165.30" x2="478.08" y2="164.90" stroke="#222" stroke-width="0.6" />
<line x1="508.38" y1="165.30" x2="508.38" y2="155.46" stroke="#999" stroke-width="0.6" />
<line x1="547.52" y1="165.30" x2="547.52" y2="163.84" stroke="#333" stroke-width="0.6" />
<line x1="474.07" y1="165.30" x2="474.07" y2="157.98" stroke="#222" stroke-width="0.6" />
<line x1="599.44" y1="165.30" x2="599.44" y2="163.94" stroke="#999" stroke-width="0.6" />
<line x1="483.87" y1="165.30" x2="483.87" y2="164.60" stroke="#999" stroke-width="0.6" />
<line x1="514.91" y1="165.30" x2="514.91" y2="164.95" stroke="#333" stroke-width="0.6" />
<line x1="526.36" y1="165.30" x2="526.36" y2="163.80" stroke="#555" stroke-width="0.6" />
<line x1="505.44" y1="165.30" x2="505.44" y2="165.26" stroke="#999" stroke-width="0.6" />
<line x1="492.64" y1="165.30" x2="492.64" y2="162.27" stroke="#333" stroke-width="0.6" />
<line x1="538.22" y1="165.30" x2="538.22" y2="150.80" stroke="#999" stroke-width="0.6" />
<line x1="479.80" y1="165.30" x2="479.80" y2="164.46" stroke="#222" stroke-width="0.6" />
<line x1="566.62" y1="165.30" x2="566.62" y2="165.12" stroke="#999" stroke-width="0.6" />
<line x1="538.87" y1="165.30" x2="538.87" y2="164.79" stroke="#555" stroke-width="0.6" />
<line x1="532.65" y1="165.30" x2="532.65" y2="159.55" stroke="#333" stroke-width="0.6" />
<line x1="485.15" y1="165.30" x2="485.15" y2="164.78" stroke="#666" stroke-width="0.6" />
<line x1="476.93" y1="165.30" x2="476.93" y2="164.56" stroke="#555" stroke-width="0.6" />
<line x1="599.14" y1="165.30" x2="599.14" y2="161.42" stroke="#555" stroke-width="0.6" />
<line x1="613.24" y1="165.30" x2="613.24" y2="162.81" stroke="#222" stroke-width="0.6" />
<line x1="490.66" y1="165.30" x2="490.66" y2="163.07" stroke="#666" stroke-width="0.6" />
<line x1="490.00" y1="165.30" x2="490.00" y2="162.95" stroke="#333" stroke-width="0.6" />
<line x1="524.54" y1="165.30" x2="524.54" y2="164.28" stroke="#333" stroke-width="0.6" />
<line x1="489.68" y1="165.30" x2="489.68" y2="161.40" stroke="#333" stroke-width="0.6" />
<line x1="489.52" y1="165.30" x2="489.52" y2="164.63" stroke="#333" stroke-width="0.6" />
<line x1="499.76" y1="165.30" x2="499.76" y2="163.65" stroke="#999" stroke-width="0.6" />
<line x1="522.58" y1="165.30" x2="522.58" y2="156.16" stroke="#222" stroke-width="0.6" />
<line x1="470.42" y1="165.30" x2="470.42" y2="158.84" stroke="#333" stroke-width="0.6" />
<line x1="506.99" y1="165.30" x2="506.99" y2="165.01" stroke="#999" stroke-width="0.6" />
<line x1="526.27" y1="165.30" x2="526.27" y2="163.00" stroke="#555" stroke-width="0.6" />
<line x1="620.09" y1="165.30" x2="620.09" y2="164.99" stroke="#333" stroke-width="0.6" />
<line x1="558.48" y1="165.30" x2="558.48" y2="164.94" stroke="#999" stroke-width="0.6" />
<line x1="545.68" y1="165.30" x2="545.68" y2="162.88" stroke="#222" stroke-width="0.6" />
<line x1="506.24" y1="165.30" x2="506.24" y2="164.72" stroke="#333" stroke-width="0.6" />
<line x1="507.32" y1="165.30" x2="507.32" y2="164.98" stroke="#999" stroke-width="0.6" />
<line x1="540.84" y1="165.30" x2="540.84" y2="163.94" stroke="#222" stroke-width="0.6" />
<line x1="580.58" y1="165.30" x2="580.58" y2="163.16" stroke="#666" stroke-width="0.6" />
<line x1="587.56" y1="165.30" x2="587.56" y2="162.93" stroke="#666" stroke-width="0.6" />
<line x1="491.11" y1="165.30" x2="491.11" y2="164.74" stroke="#222" stroke-width="0.6" />
<line x1="534.02" y1="165.30" x2="534.02" y2="163.72" stroke="#222" stroke-width="0.6" />
<line x1="505.74" y1="165.30" x2="505.74" y2="152.82" stroke="#333" stroke-width="0.6" />
<line x1="476.41" y1="165.30" x2="476.41" y2="143.92" stroke="#333" stroke-width="0.6" />
<line x1="469.81" y1="165.30" x2="469.81" y2="164.07" stroke="#333" stroke-width="0.6" />
<line x1="547.25" y1="165.30" x2="547.25" y2="154.32" stroke="#555" stroke-width="0.6" />
<line x1="473.40" y1="165.30" x2="473.40" y2="161.74" stroke="#333" stroke-width="0.6" />
<line x1="473.62" y1="165.30" x2="473.62" y2="165.26" stroke="#333" stroke-width="0.6" />
<line x1="515.95" y1="165.30" x2="515.95" y2="162.47" stroke="#666" stroke-width="0.6" />
<line x1="609.52" y1="165.30" x2="609.52" y2="162.35" stroke="#555" stroke-width="0.6" />
<line x1="487.46" y1="165.30" x2="487.46" y2="163.66" stroke="#333" stroke-width="0.6" />
<line x1="511.04" y1="165.30" x2="511.04" y2="164.24" stroke="#555" stroke-width="0.6" />
<line x1="563.76" y1="165.30" x2="563.76" y2="164.59" stroke="#999" stroke-width="0.6" />
<line x1="525.59" y1="165.30" x2="525.59" y2="163.26" stroke="#333" stroke-width="0.6" />
<line x1="472.86" y1="165.30" x2="472.86" y2="162.82" stroke="#666" stroke-width="0.6" />
<line x1="530.24" y1="165.30" x2="530.24" y2="155.76" stroke="#333" stroke-width="0.6" />
<line x1="555.39" y1="165.30" x2="555.39" y2="151.54" stroke="#333" stroke-width="0.6" />
<line x1="476.93" y1="165.30" x2="476.93" y2="162.38" stroke="#333" stroke-width="0.6" />
<line x1="537.08" y1="165.30" x2="537.08" y2="163.48" stroke="#999" stroke-width="0.6" />
<line x1="572.91" y1="165.30" x2="572.91" y2="162.34" stroke="#333" stroke-width="0.6" />
<line x1="604.72" y1="165.30" x2="604.72" y2="164.33" stroke="#555" stroke-width="0.6" />
<line x1="530.41" y1="165.30" x2="530.41" y2="159.34" stroke="#333" stroke-width="0.6" />
<line x1="527.59" y1="165.30" x2="527.59" y2="161.27" stroke="#333" stroke-width="0.6" />
<line x1="523.41" y1="165.30" x2="523.41" y2="162.02" stroke="#222" stroke-width="0.6" />
<line x1="546.43" y1="165.30" x2="546.43" y2="164.16" stroke="#333" stroke-width="0.6" />
<line x1="536.40" y1="165.30" x2="536.40" y2="159.89" stroke="#333" stroke-width="0.6" />
<line x1="518.85" y1="165.30" x2="518.85" y2="155.29" stroke="#333" stroke-width="0.6" />
<line x1="618.08" y1="165.30" x2="618.08" y2="162.81" stroke="#333" stroke-width="0.6" />
<line x1="552.54" y1="165.30" x2="552.54" y2="163.01" stroke="#999" stroke-width="0.6" />
<line x1="535.52" y1="165.30" x2="535.52" y2="161.76" stroke="#555" stroke-width="0.6" />
<line x1="550.46" y1="165.30" x2="550.46" y2="163.69" stroke="#666" stroke-width="0.6" />
<line x1="497.55" y1="165.30" x2="497.55" y2="160.72" stroke="#666" stroke-width="0.6" />
<line x1="521.89" y1="165.30" x2="521.89" y2="164.71" stroke="#333" stroke-width="0.6" />
<line x1="525.57" y1="165.30" x2="525.57" y2="164.69" stroke="#999" stroke-width="0.6" />
<line x1="492.55" y1="165.30" x2="492.55" y2="163.09" stroke="#333" stroke-width="0.6" />
<line x1="532.72" y1="165.30" x2="532.72" y2="164.95" stroke="#666" stroke-width="0.6" />
<line x1="474.64" y1="165.30" x2="474.64" y2="164.15" stroke="#999" stroke-width="0.6" />
<line x1="554.81" y1="165.30" x2="554.81" y2="164.97" stroke="#222" stroke-width="0.6" />
<line x1="476.40" y1="165.30" x2="476.40" y2="133.27" stroke="#333" stroke-width="0.7" />
<line x1="479.20" y1="165.30" x2="479.20" y2="143.32" stroke="#444" stroke-width="0.6" />
<line x1="482.70" y1="165.30" x2="482.70" y2="137.67" stroke="#999" stroke-width="0.7" />
<line x1="485.50" y1="165.30" x2="485.50" y2="129.82" stroke="#333" stroke-width="0.7" />
<line x1="487.50" y1="165.30" x2="487.50" y2="140.18" stroke="#555" stroke-width="0.6" />
<line x1="491.30" y1="165.30" x2="491.30" y2="86.80" stroke="#444" stroke-width="0.8" />
<line x1="495.40" y1="165.30" x2="495.40" y2="96.22" stroke="#aaa" stroke-width="0.9" />
<line x1="498.40" y1="165.30" x2="498.40" y2="113.49" stroke="#555" stroke-width="0.7" />
<line x1="503.50" y1="165.30" x2="503.50" y2="146.46" stroke="#777" stroke-width="0.6" />
<line x1="506.50" y1="165.30" x2="506.50" y2="141.75" stroke="#777" stroke-width="0.6" />
<line x1="510.60" y1="165.30" x2="510.60" y2="115.06" stroke="#333" stroke-width="0.7" />
<line x1="519.30" y1="165.30" x2="519.30" y2="56.19" stroke="#444" stroke-width="0.8" />
<line x1="526.50" y1="165.30" x2="526.50" y2="145.68" stroke="#555" stroke-width="0.6" />
<line x1="532.60" y1="165.30" x2="532.60" y2="124.48" stroke="#333" stroke-width="0.7" />
<line x1="545.00" y1="165.30" x2="545.00" y2="152.74" stroke="#555" stroke-width="0.6" />
<line x1="549.80" y1="165.30" x2="549.80" y2="141.75" stroke="#333" stroke-width="0.7" />
<line x1="555.10" y1="165.30" x2="555.10" y2="152.74" stroke="#333" stroke-width="0.6" />
<line x1="556.60" y1="165.30" x2="556.60" y2="115.06" stroke="#333" stroke-width="0.7" />
<line x1="562.60" y1="165.30" x2="562.60" y2="105.64" stroke="#333" stroke-width="0.7" />
<line x1="567.30" y1="165.30" x2="567.30" y2="122.91" stroke="#444" stroke-width="0.7" />
<line x1="569.80" y1="165.30" x2="569.80" y2="8.30" stroke="#b0b0b0" stroke-width="1.5" />
<line x1="572.20" y1="165.30" x2="572.20" y2="113.49" stroke="#555" stroke-width="0.7" />
<line x1="578.60" y1="165.30" x2="578.60" y2="138.61" stroke="#444" stroke-width="0.7" />
<line x1="584.60" y1="165.30" x2="584.60" y2="161.85" stroke="#666" stroke-width="0.6" />
<line x1="592.30" y1="165.30" x2="592.30" y2="158.55" stroke="#333" stroke-width="0.7" />
<line x1="608.50" y1="165.30" x2="608.50" y2="162.79" stroke="#555" stroke-width="0.6" />
<line x1="574.60" y1="165.30" x2="574.60" y2="159.81" stroke="#aaa" stroke-width="0.8" />
<line x1="539.00" y1="165.30" x2="539.00" y2="151.17" stroke="#555" stroke-width="0.6" />
<line x1="543.00" y1="165.30" x2="543.00" y2="155.88" stroke="#333" stroke-width="0.6" />
<line x1="466.30" y1="8.30" x2="466.30" y2="165.60" stroke="#555" stroke-width="0.8" />
<line x1="463.10" y1="165.30" x2="466.30" y2="165.30" stroke="#555" stroke-width="0.8" />
<text x="459.90" y="168.00" font-size="7.6" fill="#404040" text-anchor="end" >0</text>
<line x1="463.10" y1="133.90" x2="466.30" y2="133.90" stroke="#555" stroke-width="0.8" />
<text x="459.90" y="136.60" font-size="7.6" fill="#404040" text-anchor="end" >20</text>
<line x1="463.10" y1="102.50" x2="466.30" y2="102.50" stroke="#555" stroke-width="0.8" />
<text x="459.90" y="105.20" font-size="7.6" fill="#404040" text-anchor="end" >40</text>
<line x1="463.10" y1="71.10" x2="466.30" y2="71.10" stroke="#555" stroke-width="0.8" />
<text x="459.90" y="73.80" font-size="7.6" fill="#404040" text-anchor="end" >60</text>
<line x1="463.10" y1="39.70" x2="466.30" y2="39.70" stroke="#555" stroke-width="0.8" />
<text x="459.90" y="42.40" font-size="7.6" fill="#404040" text-anchor="end" >80</text>
<line x1="463.10" y1="8.30" x2="466.30" y2="8.30" stroke="#555" stroke-width="0.8" />
<text x="459.90" y="11.00" font-size="7.6" fill="#404040" text-anchor="end" >100</text>
<line x1="466.30" y1="165.30" x2="637.90" y2="165.30" stroke="#555" stroke-width="0.8" />
<line x1="466.05" y1="165.30" x2="466.05" y2="167.10" stroke="#555" stroke-width="0.8" />
<line x1="479.26" y1="165.30" x2="479.26" y2="168.30" stroke="#555" stroke-width="0.8" />
<line x1="492.47" y1="165.30" x2="492.47" y2="167.10" stroke="#555" stroke-width="0.8" />
<line x1="505.68" y1="165.30" x2="505.68" y2="168.30" stroke="#555" stroke-width="0.8" />
<line x1="518.89" y1="165.30" x2="518.89" y2="167.10" stroke="#555" stroke-width="0.8" />
<line x1="532.10" y1="165.30" x2="532.10" y2="168.30" stroke="#555" stroke-width="0.8" />
<line x1="545.31" y1="165.30" x2="545.31" y2="167.10" stroke="#555" stroke-width="0.8" />
<line x1="558.52" y1="165.30" x2="558.52" y2="168.30" stroke="#555" stroke-width="0.8" />
<line x1="571.73" y1="165.30" x2="571.73" y2="167.10" stroke="#555" stroke-width="0.8" />
<line x1="584.94" y1="165.30" x2="584.94" y2="168.30" stroke="#555" stroke-width="0.8" />
<line x1="598.15" y1="165.30" x2="598.15" y2="167.10" stroke="#555" stroke-width="0.8" />
<line x1="611.36" y1="165.30" x2="611.36" y2="168.30" stroke="#555" stroke-width="0.8" />
<line x1="624.57" y1="165.30" x2="624.57" y2="167.10" stroke="#555" stroke-width="0.8" />
<line x1="637.78" y1="165.30" x2="637.78" y2="168.30" stroke="#555" stroke-width="0.8" />
<text x="479.26" y="178.00" font-size="7.6" fill="#404040" text-anchor="middle" >200</text>
<text x="505.68" y="178.00" font-size="7.6" fill="#404040" text-anchor="middle" >400</text>
<text x="532.10" y="178.00" font-size="7.6" fill="#404040" text-anchor="middle" >600</text>
<text x="558.52" y="178.00" font-size="7.6" fill="#404040" text-anchor="middle" >800</text>
<text x="584.94" y="178.00" font-size="7.6" fill="#404040" text-anchor="middle" >1,000</text>
<text x="611.36" y="178.00" font-size="7.6" fill="#404040" text-anchor="middle" >1,200</text>
<text x="637.78" y="178.00" font-size="7.6" fill="#404040" text-anchor="middle" >1,400</text>
<text x="552.00" y="190.20" font-size="8.6" fill="#404040" text-anchor="middle" font-style="italic" >m/z</text>
<text x="443.00" y="86.50" font-size="9.0" fill="#404040" text-anchor="middle" transform="rotate(-90 443.0 86.5)">Rel. abundance</text>
<text x="472.10" y="135.90" font-size="8.4" fill="#4466b8" text-anchor="middle" ><tspan font-style="italic">y</tspan><tspan font-size="5.0" dy="1.6">1</tspan><tspan font-size="5.0" dy="-4.2">+</tspan></text>
<text x="481.60" y="137.20" font-size="8.4" fill="#c04a9a" text-anchor="middle" ><tspan font-style="italic">a</tspan><tspan font-size="5.0" dy="1.6">2</tspan><tspan font-size="5.0" dy="-4.2">+</tspan></text>
<text x="485.60" y="126.40" font-size="8.4" fill="#c04a9a" text-anchor="middle" ><tspan font-style="italic">b</tspan><tspan font-size="5.0" dy="1.6">2</tspan><tspan font-size="5.0" dy="-4.2">+</tspan></text>
<line x1="491.20" y1="123.30" x2="491.20" y2="130.80" stroke="#2a7a3a" stroke-width="0.8" />
<polygon points="491.20,133.50 489.80,130.30 492.60,130.30" fill="#2a7a3a"/>
<text x="491.30" y="84.90" font-size="8.4" fill="#4466b8" text-anchor="middle" ><tspan font-style="italic">y</tspan><tspan font-size="5.0" dy="1.6">2</tspan><tspan font-size="5.0" dy="-4.2">+</tspan></text>
<text x="500.40" y="94.20" font-size="8.8" fill="#f06040" text-anchor="middle" >Tag</text>
<text x="476.30" y="69.00" font-size="8.3" fill="#4466b8" >[<tspan font-style="italic">y</tspan><tspan font-size="5" dy="1.6">6</tspan><tspan dy="-1.6"> – H</tspan><tspan font-size="5" dy="1.6">2</tspan><tspan dy="-1.6">O]</tspan><tspan font-size="5" dy="-3">+</tspan></text>
<line x1="510.40" y1="73.30" x2="510.40" y2="108.90" stroke="#4466b8" stroke-width="0.8" />
<polygon points="510.40,111.60 509.00,108.40 511.80,108.40" fill="#4466b8"/>
<text x="504.50" y="120.50" font-size="8.4" fill="#c04a9a" text-anchor="middle" ><tspan font-style="italic">b</tspan><tspan font-size="5.0" dy="1.6">3</tspan><tspan font-size="5.0" dy="-4.2">+</tspan></text>
<line x1="500.60" y1="123.30" x2="495.84" y2="146.55" stroke="#c04a9a" stroke-width="0.8" />
<polygon points="495.30,149.20 494.57,145.78 497.31,146.35" fill="#c04a9a"/>
<text x="505.00" y="134.80" font-size="7.8" fill="#4466b8" text-anchor="middle" ><tspan font-style="italic">y</tspan><tspan font-size="4.7" dy="1.6">7</tspan><tspan font-size="4.7" dy="-4.2">++</tspan></text>
<text x="503.60" y="142.10" font-size="7.8" fill="#4466b8" text-anchor="middle" ><tspan font-style="italic">y</tspan><tspan font-size="4.7" dy="1.6">3</tspan><tspan font-size="4.7" dy="-4.2">+</tspan></text>
<text x="515.70" y="140.70" font-size="7.8" fill="#4466b8" text-anchor="middle" ><tspan font-style="italic">y</tspan><tspan font-size="4.7" dy="1.6">8</tspan><tspan font-size="4.7" dy="-4.2">++</tspan></text>
<line x1="502.00" y1="142.60" x2="505.70" y2="152.17" stroke="#4466b8" stroke-width="0.8" />
<polygon points="506.60,154.50 504.31,152.17 506.73,151.23" fill="#4466b8"/>
<line x1="511.90" y1="142.60" x2="511.90" y2="150.70" stroke="#4466b8" stroke-width="0.8" />
<polygon points="511.90,153.20 510.60,150.20 513.20,150.20" fill="#4466b8"/>
<text x="519.00" y="55.50" font-size="8.4" fill="#4466b8" text-anchor="middle" ><tspan font-style="italic">y</tspan><tspan font-size="5.0" dy="1.6">4</tspan><tspan font-size="5.0" dy="-4.2">+</tspan></text>
<text x="524.00" y="63.50" font-size="8.4" fill="#4466b8" >[<tspan font-style="italic">y</tspan><tspan font-size="5" dy="1.6">11</tspan><tspan dy="-1.6">+</tspan></text>
<rect x="538.90" y="52.70" width="14.30" height="6.20" fill="#fff" stroke="#555" stroke-width="0.6"/>
<text x="546.05" y="57.60" font-size="5.4" fill="#404040" text-anchor="middle" >ITag</text>
<line x1="553.20" y1="55.80" x2="555.30" y2="55.80" stroke="#888" stroke-width="0.6" />
<polygon points="557.10,56.90 558.06,58.98 560.33,59.25 558.65,60.80 559.10,63.05 557.10,61.93 555.10,63.05 555.55,60.80 553.87,59.25 556.14,58.98" fill="#F2C12E" stroke="#7a6418" stroke-width="0.3" stroke-linejoin="round"/>
<circle cx="557.10" cy="56.15" r="1.84" fill="#F2C12E" stroke="#7a6418" stroke-width="0.3"/>
<path d="M555.36,56.70 A2.14,2.14 0 0 1 558.84,55.78" fill="none" stroke="#e8303a" stroke-width="1.19"/>
<text x="563.00" y="63.50" font-size="8.4" fill="#4466b8" >]<tspan font-size="5" dy="-3">+</tspan></text>
<text x="532.00" y="85.80" font-size="8.4" fill="#4466b8" >[<tspan font-style="italic">y</tspan><tspan font-size="5" dy="1.6">12</tspan><tspan dy="-1.6">+</tspan></text>
<rect x="548.50" y="78.00" width="14.00" height="6.00" fill="#fff" stroke="#555" stroke-width="0.6"/>
<text x="555.50" y="82.80" font-size="5.4" fill="#404040" text-anchor="middle" >ITag</text>
<line x1="562.50" y1="81.00" x2="565.00" y2="81.00" stroke="#888" stroke-width="0.6" />
<polygon points="567.70,81.40 568.66,83.48 570.93,83.75 569.25,85.30 569.70,87.55 567.70,86.43 565.70,87.55 566.15,85.30 564.47,83.75 566.74,83.48" fill="#F2C12E" stroke="#7a6418" stroke-width="0.3" stroke-linejoin="round"/>
<circle cx="567.70" cy="80.65" r="1.84" fill="#F2C12E" stroke="#7a6418" stroke-width="0.3"/>
<path d="M565.96,81.20 A2.14,2.14 0 0 1 569.44,80.28" fill="none" stroke="#e8303a" stroke-width="1.19"/>
<text x="572.00" y="85.80" font-size="8.4" fill="#4466b8" >]<tspan font-size="5" dy="-3">+</tspan></text>
<line x1="540.20" y1="65.40" x2="549.84" y2="137.92" stroke="#4466b8" stroke-width="0.8" />
<polygon points="550.20,140.60 548.39,137.61 551.17,137.24" fill="#4466b8"/>
<line x1="548.00" y1="88.00" x2="554.22" y2="147.91" stroke="#4466b8" stroke-width="0.8" />
<polygon points="554.50,150.60 552.78,147.56 555.56,147.27" fill="#4466b8"/>
<text x="531.80" y="119.80" font-size="8.4" fill="#4466b8" text-anchor="middle" ><tspan font-style="italic">y</tspan><tspan font-size="5.0" dy="1.6">5</tspan><tspan font-size="5.0" dy="-4.2">+</tspan></text>
<text x="542.80" y="147.10" font-size="8.4" fill="#4466b8" text-anchor="middle" ><tspan font-style="italic">y</tspan><tspan font-size="5.0" dy="1.6">6</tspan><tspan font-size="5.0" dy="-4.2">+</tspan></text>
<text x="555.60" y="114.10" font-size="8.4" fill="#c04a9a" text-anchor="middle" ><tspan font-style="italic">b</tspan><tspan font-size="5.0" dy="1.6">5</tspan><tspan font-size="5.0" dy="-4.2">+</tspan></text>
<text x="563.00" y="102.40" font-size="8.4" fill="#4466b8" text-anchor="middle" ><tspan font-style="italic">y</tspan><tspan font-size="5.0" dy="1.6">7</tspan><tspan font-size="5.0" dy="-4.2">+</tspan></text>
<text x="571.00" y="7.20" font-size="8.4" fill="#4466b8" text-anchor="middle" ><tspan font-style="italic">y</tspan><tspan font-size="5.0" dy="1.6">8</tspan><tspan font-size="5.0" dy="-4.2">+</tspan></text>
<text x="575.50" y="115.10" font-size="8.4" fill="#c04a9a" text-anchor="middle" ><tspan font-style="italic">b</tspan><tspan font-size="5.0" dy="1.6">6</tspan><tspan font-size="5.0" dy="-4.2">+</tspan></text>
<text x="580.20" y="136.80" font-size="8.4" fill="#c04a9a" text-anchor="middle" ><tspan font-style="italic">b</tspan><tspan font-size="5.0" dy="1.6">7</tspan><tspan font-size="5.0" dy="-4.2">+</tspan></text>
<text x="583.60" y="161.30" font-size="7.8" fill="#4466b8" text-anchor="middle" ><tspan font-style="italic">y</tspan><tspan font-size="4.7" dy="1.6">9</tspan><tspan font-size="4.7" dy="-4.2">+</tspan></text>
<text x="595.20" y="157.60" font-size="7.8" fill="#4466b8" text-anchor="middle" ><tspan font-style="italic">y</tspan><tspan font-size="4.7" dy="1.6">10</tspan><tspan font-size="4.7" dy="-4.2">+</tspan></text>
<text x="609.50" y="160.70" font-size="8.4" fill="#c04a9a" text-anchor="middle" ><tspan font-style="italic">b</tspan><tspan font-size="5.0" dy="1.6">9</tspan><tspan font-size="5.0" dy="-4.2">+</tspan></text>
<text x="623.60" y="160.70" font-size="8.4" fill="#c04a9a" text-anchor="middle" ><tspan font-style="italic">b</tspan><tspan font-size="5.0" dy="1.6">10</tspan><tspan font-size="5.0" dy="-4.2">+</tspan></text>
<rect x="577.40" y="65.30" width="18.20" height="8.00" fill="#fff" stroke="#555" stroke-width="0.7"/>
<text x="586.50" y="71.60" font-size="6.6" fill="#404040" text-anchor="middle" >ITag</text>
<line x1="595.60" y1="69.50" x2="600.50" y2="69.50" stroke="#888" stroke-width="0.7" />
<circle cx="605.2" cy="69.3" r="3.3" fill="none" stroke="#e8303a" stroke-width="1.2"/>
<polygon points="605.20,71.70 606.67,74.88 610.15,75.29 607.57,77.67 608.26,81.11 605.20,79.40 602.14,81.11 602.83,77.67 600.25,75.29 603.73,74.88" fill="#F2C12E" stroke="#7a6418" stroke-width="0.4" stroke-linejoin="round"/>
<circle cx="605.2" cy="69.5" r="3.0" fill="#F2C12E" stroke="#7a6418" stroke-width="0.4"/>
<path d="M602,67.2 A3.4,3.4 0 0 1 608.3,67.8" fill="none" stroke="#e8303a" stroke-width="1.2"/>
<line x1="605.20" y1="81.20" x2="605.20" y2="87.70" stroke="#888" stroke-width="0.7" />
<text x="616.10" y="72.20" font-size="8.5" fill="#404040" text-anchor="middle" >=</text>
<polyline points="651.30,25.70 654.50,19.30 660.10,20.10 661.70,26.50 656.10,30.50 651.30,25.70" fill="none" stroke="#444" stroke-width="0.6" stroke-linejoin="round"/>
<polyline points="652.60,25.40 655.10,20.60" fill="none" stroke="#444" stroke-width="0.6" stroke-linejoin="round"/>
<polyline points="660.60,20.60 665.70,16.90" fill="none" stroke="#444" stroke-width="0.6" stroke-linejoin="round"/>
<polyline points="656.10,30.50 653.50,35.50 647.50,39.50 646.40,45.20" fill="none" stroke="#444" stroke-width="0.6" stroke-linejoin="round"/>
<polyline points="646.40,45.20 640.50,48.20 641.60,55.60 648.30,56.80 650.90,50.30 646.40,45.20" fill="none" stroke="#444" stroke-width="0.6" stroke-linejoin="round"/>
<polyline points="641.70,48.90 642.50,54.40" fill="none" stroke="#444" stroke-width="0.5" stroke-linejoin="round"/>
<polyline points="641.60,55.60 637.20,60.10 640.20,64.30" fill="none" stroke="#444" stroke-width="0.6" stroke-linejoin="round"/>
<polyline points="634.00,63.50 640.50,64.50 648.30,62.50 653.50,70.30" fill="none" stroke="#444" stroke-width="0.6" stroke-linejoin="round"/>
<polyline points="653.50,70.30 646.50,69.60 636.00,71.00" fill="none" stroke="#444" stroke-width="1.4" stroke-linejoin="round"/>
<polyline points="636.00,71.00 634.00,63.50" fill="none" stroke="#444" stroke-width="1.0" stroke-linejoin="round"/>
<polyline points="628.60,64.80 634.00,63.50" fill="none" stroke="#444" stroke-width="0.6" stroke-linejoin="round"/>
<polyline points="632.60,70.40 636.00,71.00" fill="none" stroke="#444" stroke-width="0.6" stroke-linejoin="round"/>
<polyline points="646.50,69.60 647.60,72.40" fill="none" stroke="#444" stroke-width="0.6" stroke-linejoin="round"/>
<polyline points="653.50,70.30 657.40,67.20" fill="none" stroke="#444" stroke-width="0.6" stroke-linejoin="round"/>
<polyline points="661.60,66.70 666.40,66.70" fill="none" stroke="#444" stroke-width="0.6" stroke-linejoin="round"/>
<path d="M667,62.5 Q668,63.5 667,64.5 Q666,65.5 667,66.5 Q668,67.5 667,68.5 Q666,69.5 667,70.5" fill="none" stroke="#444" stroke-width="0.6" stroke-linecap="round" stroke-linejoin="round" />
<text x="628.40" y="66.80" font-size="5.2" fill="#444" text-anchor="end" >HO</text>
<text x="632.80" y="72.50" font-size="5.2" fill="#444" text-anchor="end" >HO</text>
<text x="648.90" y="76.80" font-size="5.2" fill="#444" text-anchor="middle" >OH</text>
<text x="659.50" y="68.70" font-size="5.6" fill="#444" text-anchor="middle" >O</text>
<text x="648.60" y="64.40" font-size="5.0" fill="#444" text-anchor="middle" >O</text>
<text x="582.70" y="96.7" font-size="9.2" fill="#7a7a7a" text-anchor="middle" font-family="Liberation Serif, serif">D</text>
<text x="588.60" y="96.7" font-size="9.2" fill="#7a7a7a" text-anchor="middle" font-family="Liberation Serif, serif">E</text>
<text x="595.90" y="96.7" font-size="9.2" fill="#7a7a7a" text-anchor="middle" font-family="Liberation Serif, serif">A</text>
<text x="604.20" y="96.7" font-size="9.2" fill="#7a7a7a" text-anchor="middle" font-family="Liberation Serif, serif">S</text>
<text x="612.30" y="96.7" font-size="9.2" fill="#7a7a7a" text-anchor="middle" font-family="Liberation Serif, serif">G</text>
<text x="620.30" y="96.7" font-size="9.2" fill="#7a7a7a" text-anchor="middle" font-family="Liberation Serif, serif">I</text>
<text x="626.40" y="96.7" font-size="9.2" fill="#7a7a7a" text-anchor="middle" font-family="Liberation Serif, serif">G</text>
<text x="634.70" y="96.7" font-size="9.2" fill="#7a7a7a" text-anchor="middle" font-family="Liberation Serif, serif">P</text>
<text x="642.10" y="96.7" font-size="9.2" fill="#7a7a7a" text-anchor="middle" font-family="Liberation Serif, serif">E</text>
<text x="649.20" y="96.7" font-size="9.2" fill="#7a7a7a" text-anchor="middle" font-family="Liberation Serif, serif">V</text>
<text x="657.20" y="96.7" font-size="9.2" fill="#7a7a7a" text-anchor="middle" font-family="Liberation Serif, serif">P</text>
<text x="664.90" y="96.7" font-size="9.2" fill="#7a7a7a" text-anchor="middle" font-family="Liberation Serif, serif">D</text>
<text x="673.80" y="96.7" font-size="9.2" fill="#7a7a7a" text-anchor="middle" font-family="Liberation Serif, serif">D</text>
<text x="681.80" y="96.7" font-size="9.2" fill="#7a7a7a" text-anchor="middle" font-family="Liberation Serif, serif">R</text>
<path d="M591.70,89.3 L591.70,85 Q591.90,83.3 593.90,83.3" fill="none" stroke="#6f8fd0" stroke-width="0.6" stroke-linecap="round" stroke-linejoin="round" />
<path d="M599.40,89.3 L599.40,85 Q599.60,83.3 601.60,83.3" fill="none" stroke="#6f8fd0" stroke-width="0.6" stroke-linecap="round" stroke-linejoin="round" />
<path d="M607.60,89.3 L607.60,85 Q607.80,83.3 609.80,83.3" fill="none" stroke="#6f8fd0" stroke-width="0.6" stroke-linecap="round" stroke-linejoin="round" />
<path d="M615.70,89.3 L615.70,85 Q615.90,83.3 617.90,83.3" fill="none" stroke="#6f8fd0" stroke-width="0.6" stroke-linecap="round" stroke-linejoin="round" />
<path d="M622.80,89.3 L622.80,85 Q623.00,83.3 625.00,83.3" fill="none" stroke="#6f8fd0" stroke-width="0.6" stroke-linecap="round" stroke-linejoin="round" />
<path d="M629.90,89.3 L629.90,85 Q630.10,83.3 632.10,83.3" fill="none" stroke="#6f8fd0" stroke-width="0.6" stroke-linecap="round" stroke-linejoin="round" />
<path d="M637.80,89.3 L637.80,85 Q638.00,83.3 640.00,83.3" fill="none" stroke="#6f8fd0" stroke-width="0.6" stroke-linecap="round" stroke-linejoin="round" />
<path d="M645.10,89.3 L645.10,85 Q645.30,83.3 647.30,83.3" fill="none" stroke="#6f8fd0" stroke-width="0.6" stroke-linecap="round" stroke-linejoin="round" />
<path d="M652.60,89.3 L652.60,85 Q652.80,83.3 654.80,83.3" fill="none" stroke="#6f8fd0" stroke-width="0.6" stroke-linecap="round" stroke-linejoin="round" />
<path d="M660.40,89.3 L660.40,85 Q660.60,83.3 662.60,83.3" fill="none" stroke="#6f8fd0" stroke-width="0.6" stroke-linecap="round" stroke-linejoin="round" />
<path d="M668.70,89.3 L668.70,85 Q668.90,83.3 670.90,83.3" fill="none" stroke="#6f8fd0" stroke-width="0.6" stroke-linecap="round" stroke-linejoin="round" />
<path d="M677.20,89.3 L677.20,85 Q677.40,83.3 679.40,83.3" fill="none" stroke="#6f8fd0" stroke-width="0.6" stroke-linecap="round" stroke-linejoin="round" />
<path d="M592.90,91 L592.90,96 Q592.60,98 590.70,98" fill="none" stroke="#d070b0" stroke-width="0.6" stroke-linecap="round" stroke-linejoin="round" />
<path d="M600.60,91 L600.60,96 Q600.30,98 598.40,98" fill="none" stroke="#d070b0" stroke-width="0.6" stroke-linecap="round" stroke-linejoin="round" />
<path d="M616.90,91 L616.90,96 Q616.60,98 614.70,98" fill="none" stroke="#d070b0" stroke-width="0.6" stroke-linecap="round" stroke-linejoin="round" />
<path d="M624.00,91 L624.00,96 Q623.70,98 621.80,98" fill="none" stroke="#d070b0" stroke-width="0.6" stroke-linecap="round" stroke-linejoin="round" />
<path d="M631.10,91 L631.10,96 Q630.80,98 628.90,98" fill="none" stroke="#d070b0" stroke-width="0.6" stroke-linecap="round" stroke-linejoin="round" />
<path d="M646.30,91 L646.30,96 Q646.00,98 644.10,98" fill="none" stroke="#d070b0" stroke-width="0.6" stroke-linecap="round" stroke-linejoin="round" />
<path d="M653.80,91 L653.80,96 Q653.50,98 651.60,98" fill="none" stroke="#d070b0" stroke-width="0.6" stroke-linecap="round" stroke-linejoin="round" />
<text x="0.00" y="213.20" font-size="12" fill="#111" font-weight="bold" stroke="#111" stroke-width="0.5">d</text>
<text x="19.50" y="211.50" font-size="8.5" fill="#404040" textLength="85" lengthAdjust="spacingAndGlyphs"><tspan font-style="italic">BH-XT1</tspan> versus <tspan font-style="italic">WT-XT1</tspan></text>
<text x="87.90" y="221.80" font-size="8.5" fill="#999" >Enriched in BH-XT1</text>
<line x1="77.00" y1="224.30" x2="171.30" y2="224.30" stroke="#888" stroke-width="1.4" />
<polygon points="175.40,224.30 170.80,226.30 170.80,222.30" fill="#888"/>
<path d="M73.0,320.9h1.1v1.1h-1.1zM71.6,324.1h1.1v1.1h-1.1zM71.4,316.1h1.1v1.1h-1.1zM82.2,319.8h1.1v1.1h-1.1zM52.4,316.4h1.1v1.1h-1.1zM64.3,318.8h1.1v1.1h-1.1zM72.1,324.0h1.1v1.1h-1.1zM65.0,324.4h1.1v1.1h-1.1zM89.4,312.0h1.1v1.1h-1.1zM77.0,326.2h1.1v1.1h-1.1zM79.9,316.1h1.1v1.1h-1.1zM71.4,324.6h1.1v1.1h-1.1zM77.8,322.1h1.1v1.1h-1.1zM98.3,299.3h1.1v1.1h-1.1zM71.5,322.4h1.1v1.1h-1.1zM76.4,327.6h1.1v1.1h-1.1zM72.1,320.0h1.1v1.1h-1.1zM66.1,310.9h1.1v1.1h-1.1zM70.6,317.7h1.1v1.1h-1.1zM62.8,306.2h1.1v1.1h-1.1zM77.7,328.0h1.1v1.1h-1.1zM77.1,322.9h1.1v1.1h-1.1zM68.4,314.4h1.1v1.1h-1.1zM65.0,301.6h1.1v1.1h-1.1zM59.5,318.4h1.1v1.1h-1.1zM70.3,314.5h1.1v1.1h-1.1zM78.9,324.9h1.1v1.1h-1.1zM77.2,327.6h1.1v1.1h-1.1zM68.5,325.5h1.1v1.1h-1.1zM72.9,321.1h1.1v1.1h-1.1zM63.1,312.9h1.1v1.1h-1.1zM78.5,324.9h1.1v1.1h-1.1zM77.8,325.7h1.1v1.1h-1.1zM77.9,322.6h1.1v1.1h-1.1zM58.4,309.4h1.1v1.1h-1.1zM86.6,306.9h1.1v1.1h-1.1zM83.6,323.0h1.1v1.1h-1.1zM65.8,326.0h1.1v1.1h-1.1zM62.8,326.1h1.1v1.1h-1.1zM83.6,309.5h1.1v1.1h-1.1zM74.8,323.4h1.1v1.1h-1.1zM69.7,317.1h1.1v1.1h-1.1zM55.3,308.3h1.1v1.1h-1.1zM71.2,312.3h1.1v1.1h-1.1zM73.6,321.2h1.1v1.1h-1.1zM60.0,324.0h1.1v1.1h-1.1zM78.8,320.5h1.1v1.1h-1.1zM80.8,319.7h1.1v1.1h-1.1zM79.6,315.2h1.1v1.1h-1.1zM72.4,318.2h1.1v1.1h-1.1zM79.2,321.2h1.1v1.1h-1.1zM74.3,323.3h1.1v1.1h-1.1zM57.8,319.8h1.1v1.1h-1.1zM69.0,313.3h1.1v1.1h-1.1zM77.6,322.4h1.1v1.1h-1.1zM64.2,316.2h1.1v1.1h-1.1zM73.9,323.0h1.1v1.1h-1.1zM85.8,314.9h1.1v1.1h-1.1zM61.2,324.0h1.1v1.1h-1.1zM78.7,320.1h1.1v1.1h-1.1zM84.6,310.3h1.1v1.1h-1.1zM83.4,321.7h1.1v1.1h-1.1zM44.2,324.0h1.1v1.1h-1.1zM68.5,318.8h1.1v1.1h-1.1zM84.3,328.0h1.1v1.1h-1.1zM78.0,324.6h1.1v1.1h-1.1zM88.3,320.4h1.1v1.1h-1.1zM83.3,307.4h1.1v1.1h-1.1zM86.9,320.6h1.1v1.1h-1.1zM77.1,327.2h1.1v1.1h-1.1zM67.0,321.5h1.1v1.1h-1.1zM86.6,307.9h1.1v1.1h-1.1zM82.1,323.9h1.1v1.1h-1.1zM68.3,308.3h1.1v1.1h-1.1zM78.0,320.6h1.1v1.1h-1.1zM74.1,317.8h1.1v1.1h-1.1zM68.0,313.1h1.1v1.1h-1.1zM67.9,310.1h1.1v1.1h-1.1zM64.3,323.7h1.1v1.1h-1.1zM76.9,326.1h1.1v1.1h-1.1zM64.1,327.6h1.1v1.1h-1.1zM93.4,302.5h1.1v1.1h-1.1zM88.2,323.0h1.1v1.1h-1.1zM65.7,304.7h1.1v1.1h-1.1zM64.5,317.2h1.1v1.1h-1.1zM73.1,327.5h1.1v1.1h-1.1zM79.5,318.1h1.1v1.1h-1.1zM78.1,327.7h1.1v1.1h-1.1zM85.3,314.1h1.1v1.1h-1.1zM78.1,324.6h1.1v1.1h-1.1zM81.8,317.8h1.1v1.1h-1.1zM84.7,321.6h1.1v1.1h-1.1zM73.2,324.6h1.1v1.1h-1.1zM96.1,317.8h1.1v1.1h-1.1zM66.8,307.3h1.1v1.1h-1.1zM66.4,311.8h1.1v1.1h-1.1zM69.5,315.2h1.1v1.1h-1.1zM69.7,318.6h1.1v1.1h-1.1zM77.7,324.8h1.1v1.1h-1.1zM77.6,326.6h1.1v1.1h-1.1zM65.5,317.6h1.1v1.1h-1.1zM72.2,323.3h1.1v1.1h-1.1zM83.1,322.0h1.1v1.1h-1.1zM76.2,328.1h1.1v1.1h-1.1zM65.0,303.5h1.1v1.1h-1.1zM72.2,320.4h1.1v1.1h-1.1zM70.7,317.3h1.1v1.1h-1.1zM72.3,316.7h1.1v1.1h-1.1zM76.2,328.1h1.1v1.1h-1.1zM80.2,321.9h1.1v1.1h-1.1zM77.5,325.4h1.1v1.1h-1.1zM83.6,313.9h1.1v1.1h-1.1zM65.2,319.4h1.1v1.1h-1.1zM84.0,325.7h1.1v1.1h-1.1zM85.2,311.3h1.1v1.1h-1.1zM77.1,323.3h1.1v1.1h-1.1zM72.0,314.9h1.1v1.1h-1.1zM83.1,323.5h1.1v1.1h-1.1zM70.1,324.4h1.1v1.1h-1.1zM70.4,312.4h1.1v1.1h-1.1zM67.2,309.6h1.1v1.1h-1.1zM79.0,322.9h1.1v1.1h-1.1zM81.2,324.5h1.1v1.1h-1.1zM72.3,315.6h1.1v1.1h-1.1zM67.7,322.0h1.1v1.1h-1.1zM81.4,317.5h1.1v1.1h-1.1zM73.8,320.7h1.1v1.1h-1.1zM52.7,313.9h1.1v1.1h-1.1zM82.1,318.4h1.1v1.1h-1.1zM80.2,318.9h1.1v1.1h-1.1zM84.6,321.1h1.1v1.1h-1.1zM62.3,320.2h1.1v1.1h-1.1zM66.8,314.8h1.1v1.1h-1.1zM69.6,308.4h1.1v1.1h-1.1zM81.0,321.5h1.1v1.1h-1.1zM68.4,324.9h1.1v1.1h-1.1zM97.7,317.4h1.1v1.1h-1.1zM69.1,323.3h1.1v1.1h-1.1zM70.8,326.3h1.1v1.1h-1.1zM76.7,326.8h1.1v1.1h-1.1zM86.6,317.6h1.1v1.1h-1.1zM77.4,325.1h1.1v1.1h-1.1zM75.1,323.8h1.1v1.1h-1.1zM74.7,322.7h1.1v1.1h-1.1zM85.9,312.4h1.1v1.1h-1.1zM63.2,309.5h1.1v1.1h-1.1zM70.7,316.1h1.1v1.1h-1.1zM55.2,319.1h1.1v1.1h-1.1zM76.1,328.1h1.1v1.1h-1.1zM81.1,326.9h1.1v1.1h-1.1zM79.5,326.4h1.1v1.1h-1.1zM91.4,309.0h1.1v1.1h-1.1zM66.8,325.5h1.1v1.1h-1.1zM57.4,296.7h1.1v1.1h-1.1zM74.6,321.1h1.1v1.1h-1.1zM90.1,298.5h1.1v1.1h-1.1zM80.0,323.9h1.1v1.1h-1.1zM72.1,317.0h1.1v1.1h-1.1zM74.8,326.0h1.1v1.1h-1.1zM79.3,318.3h1.1v1.1h-1.1zM60.0,302.2h1.1v1.1h-1.1zM86.6,312.7h1.1v1.1h-1.1zM81.2,320.6h1.1v1.1h-1.1zM69.2,318.9h1.1v1.1h-1.1zM74.8,324.9h1.1v1.1h-1.1zM77.9,321.4h1.1v1.1h-1.1zM81.3,319.0h1.1v1.1h-1.1zM72.0,324.3h1.1v1.1h-1.1zM73.8,327.1h1.1v1.1h-1.1zM79.0,324.4h1.1v1.1h-1.1zM71.1,314.2h1.1v1.1h-1.1zM72.0,318.4h1.1v1.1h-1.1zM83.3,323.9h1.1v1.1h-1.1zM75.3,324.7h1.1v1.1h-1.1zM94.7,313.3h1.1v1.1h-1.1zM93.0,319.4h1.1v1.1h-1.1zM69.8,319.4h1.1v1.1h-1.1zM72.7,318.6h1.1v1.1h-1.1zM57.2,316.0h1.1v1.1h-1.1zM80.9,319.9h1.1v1.1h-1.1zM67.9,319.5h1.1v1.1h-1.1zM82.0,314.8h1.1v1.1h-1.1zM92.4,321.2h1.1v1.1h-1.1zM78.4,328.0h1.1v1.1h-1.1zM77.4,322.6h1.1v1.1h-1.1zM68.5,322.4h1.1v1.1h-1.1zM75.5,325.6h1.1v1.1h-1.1zM83.3,313.6h1.1v1.1h-1.1zM60.8,309.4h1.1v1.1h-1.1zM86.4,324.8h1.1v1.1h-1.1zM60.9,313.1h1.1v1.1h-1.1zM59.7,324.1h1.1v1.1h-1.1zM82.5,322.5h1.1v1.1h-1.1zM72.4,324.1h1.1v1.1h-1.1zM88.0,316.2h1.1v1.1h-1.1zM80.8,323.9h1.1v1.1h-1.1zM70.7,320.1h1.1v1.1h-1.1zM61.3,325.8h1.1v1.1h-1.1zM74.1,322.6h1.1v1.1h-1.1zM71.9,318.9h1.1v1.1h-1.1zM62.2,322.4h1.1v1.1h-1.1zM78.0,327.6h1.1v1.1h-1.1zM86.0,315.6h1.1v1.1h-1.1zM59.5,311.5h1.1v1.1h-1.1zM77.4,323.2h1.1v1.1h-1.1zM90.4,312.8h1.1v1.1h-1.1zM81.9,325.4h1.1v1.1h-1.1zM75.8,326.8h1.1v1.1h-1.1zM85.4,308.9h1.1v1.1h-1.1zM61.8,324.5h1.1v1.1h-1.1zM72.1,325.1h1.1v1.1h-1.1zM71.0,314.9h1.1v1.1h-1.1zM86.7,314.6h1.1v1.1h-1.1zM68.1,310.9h1.1v1.1h-1.1zM82.3,324.3h1.1v1.1h-1.1zM77.7,323.3h1.1v1.1h-1.1zM76.1,327.8h1.1v1.1h-1.1zM69.6,325.3h1.1v1.1h-1.1zM77.3,327.1h1.1v1.1h-1.1zM62.5,310.0h1.1v1.1h-1.1zM77.9,324.6h1.1v1.1h-1.1zM55.2,325.5h1.1v1.1h-1.1zM62.4,303.2h1.1v1.1h-1.1zM63.5,316.5h1.1v1.1h-1.1zM71.4,323.5h1.1v1.1h-1.1zM62.9,306.7h1.1v1.1h-1.1zM69.6,314.1h1.1v1.1h-1.1zM82.6,311.9h1.1v1.1h-1.1zM56.5,314.1h1.1v1.1h-1.1zM66.2,314.3h1.1v1.1h-1.1zM73.4,323.5h1.1v1.1h-1.1zM71.3,320.0h1.1v1.1h-1.1zM62.5,317.5h1.1v1.1h-1.1zM67.5,304.8h1.1v1.1h-1.1zM61.7,310.2h1.1v1.1h-1.1zM81.6,321.8h1.1v1.1h-1.1zM81.9,312.6h1.1v1.1h-1.1zM83.5,322.3h1.1v1.1h-1.1zM88.5,320.4h1.1v1.1h-1.1zM68.7,315.2h1.1v1.1h-1.1zM83.0,321.1h1.1v1.1h-1.1zM60.4,304.8h1.1v1.1h-1.1zM83.5,315.4h1.1v1.1h-1.1zM86.4,324.6h1.1v1.1h-1.1zM72.8,326.4h1.1v1.1h-1.1zM67.9,318.2h1.1v1.1h-1.1zM70.3,325.7h1.1v1.1h-1.1zM81.5,325.2h1.1v1.1h-1.1zM64.9,312.5h1.1v1.1h-1.1zM74.1,318.3h1.1v1.1h-1.1zM72.7,324.9h1.1v1.1h-1.1zM69.9,313.6h1.1v1.1h-1.1zM76.6,328.0h1.1v1.1h-1.1zM58.9,309.6h1.1v1.1h-1.1zM67.3,305.7h1.1v1.1h-1.1zM76.9,325.4h1.1v1.1h-1.1zM73.1,324.1h1.1v1.1h-1.1zM86.8,321.5h1.1v1.1h-1.1zM64.5,313.9h1.1v1.1h-1.1zM72.6,315.7h1.1v1.1h-1.1zM88.7,310.9h1.1v1.1h-1.1zM59.1,306.3h1.1v1.1h-1.1zM67.7,322.6h1.1v1.1h-1.1zM71.1,316.7h1.1v1.1h-1.1zM90.1,320.9h1.1v1.1h-1.1zM69.2,325.8h1.1v1.1h-1.1zM75.7,325.6h1.1v1.1h-1.1zM72.8,327.7h1.1v1.1h-1.1zM79.2,323.7h1.1v1.1h-1.1zM54.0,311.9h1.1v1.1h-1.1zM80.5,327.9h1.1v1.1h-1.1zM73.8,322.0h1.1v1.1h-1.1zM68.7,317.7h1.1v1.1h-1.1zM73.9,319.5h1.1v1.1h-1.1zM71.6,323.2h1.1v1.1h-1.1zM78.4,323.8h1.1v1.1h-1.1zM77.4,328.0h1.1v1.1h-1.1zM69.4,310.1h1.1v1.1h-1.1zM65.7,323.7h1.1v1.1h-1.1zM78.6,322.6h1.1v1.1h-1.1zM84.4,312.0h1.1v1.1h-1.1zM81.7,314.2h1.1v1.1h-1.1zM71.3,322.5h1.1v1.1h-1.1zM75.6,324.9h1.1v1.1h-1.1zM61.6,305.3h1.1v1.1h-1.1zM68.7,318.6h1.1v1.1h-1.1zM73.6,326.6h1.1v1.1h-1.1zM86.3,305.1h1.1v1.1h-1.1zM71.4,321.6h1.1v1.1h-1.1zM74.6,325.8h1.1v1.1h-1.1zM82.8,320.9h1.1v1.1h-1.1zM77.5,327.6h1.1v1.1h-1.1zM74.2,326.8h1.1v1.1h-1.1zM66.2,308.8h1.1v1.1h-1.1zM73.2,322.8h1.1v1.1h-1.1zM77.3,327.7h1.1v1.1h-1.1zM69.5,324.7h1.1v1.1h-1.1zM70.9,315.8h1.1v1.1h-1.1zM76.5,327.2h1.1v1.1h-1.1zM56.1,307.3h1.1v1.1h-1.1zM72.2,316.2h1.1v1.1h-1.1zM61.6,314.4h1.1v1.1h-1.1zM72.7,323.7h1.1v1.1h-1.1zM76.3,328.0h1.1v1.1h-1.1zM79.5,319.6h1.1v1.1h-1.1zM66.4,311.9h1.1v1.1h-1.1zM71.6,319.5h1.1v1.1h-1.1zM76.4,327.3h1.1v1.1h-1.1zM65.9,320.6h1.1v1.1h-1.1zM67.7,306.9h1.1v1.1h-1.1zM76.5,327.1h1.1v1.1h-1.1zM78.8,321.7h1.1v1.1h-1.1zM70.6,325.9h1.1v1.1h-1.1zM65.9,324.3h1.1v1.1h-1.1zM81.8,311.1h1.1v1.1h-1.1zM69.3,322.8h1.1v1.1h-1.1zM95.3,314.8h1.1v1.1h-1.1zM76.8,326.3h1.1v1.1h-1.1zM74.3,322.8h1.1v1.1h-1.1zM79.7,325.2h1.1v1.1h-1.1zM83.8,323.6h1.1v1.1h-1.1zM72.9,327.3h1.1v1.1h-1.1zM65.0,325.3h1.1v1.1h-1.1zM79.8,313.9h1.1v1.1h-1.1zM80.5,310.8h1.1v1.1h-1.1zM86.4,316.3h1.1v1.1h-1.1zM81.0,319.9h1.1v1.1h-1.1zM90.2,306.6h1.1v1.1h-1.1zM60.2,318.6h1.1v1.1h-1.1zM69.7,320.3h1.1v1.1h-1.1zM80.3,316.8h1.1v1.1h-1.1zM79.5,315.7h1.1v1.1h-1.1zM70.3,324.2h1.1v1.1h-1.1zM64.8,319.4h1.1v1.1h-1.1zM62.5,326.7h1.1v1.1h-1.1zM75.0,326.0h1.1v1.1h-1.1zM73.0,322.1h1.1v1.1h-1.1zM78.5,327.2h1.1v1.1h-1.1zM78.7,322.3h1.1v1.1h-1.1zM72.8,323.8h1.1v1.1h-1.1zM83.8,326.6h1.1v1.1h-1.1zM70.3,315.6h1.1v1.1h-1.1zM69.7,317.9h1.1v1.1h-1.1zM85.2,317.2h1.1v1.1h-1.1zM77.3,326.5h1.1v1.1h-1.1zM73.6,322.4h1.1v1.1h-1.1zM82.6,320.6h1.1v1.1h-1.1zM72.6,315.1h1.1v1.1h-1.1zM78.5,326.6h1.1v1.1h-1.1zM69.9,315.6h1.1v1.1h-1.1zM72.4,314.0h1.1v1.1h-1.1zM77.9,325.6h1.1v1.1h-1.1zM73.4,322.3h1.1v1.1h-1.1zM69.2,322.0h1.1v1.1h-1.1zM60.0,318.9h1.1v1.1h-1.1zM82.0,326.2h1.1v1.1h-1.1zM69.7,320.6h1.1v1.1h-1.1zM77.0,327.6h1.1v1.1h-1.1zM73.5,322.5h1.1v1.1h-1.1zM67.4,302.2h1.1v1.1h-1.1zM86.2,312.3h1.1v1.1h-1.1zM79.7,322.1h1.1v1.1h-1.1zM78.5,317.9h1.1v1.1h-1.1zM80.5,318.4h1.1v1.1h-1.1zM73.3,324.6h1.1v1.1h-1.1zM86.9,301.7h1.1v1.1h-1.1zM89.5,305.4h1.1v1.1h-1.1zM61.3,298.1h1.1v1.1h-1.1zM78.6,322.1h1.1v1.1h-1.1zM67.3,310.4h1.1v1.1h-1.1zM80.2,324.3h1.1v1.1h-1.1zM84.0,326.5h1.1v1.1h-1.1zM73.1,318.9h1.1v1.1h-1.1zM73.9,321.7h1.1v1.1h-1.1zM62.0,327.8h1.1v1.1h-1.1zM71.1,320.4h1.1v1.1h-1.1zM75.1,325.7h1.1v1.1h-1.1zM58.2,318.0h1.1v1.1h-1.1zM75.2,327.3h1.1v1.1h-1.1zM73.1,319.5h1.1v1.1h-1.1zM82.4,323.7h1.1v1.1h-1.1zM69.7,322.3h1.1v1.1h-1.1zM74.5,323.5h1.1v1.1h-1.1zM85.9,312.6h1.1v1.1h-1.1zM67.8,322.3h1.1v1.1h-1.1zM90.4,324.2h1.1v1.1h-1.1zM74.0,323.4h1.1v1.1h-1.1zM74.0,326.5h1.1v1.1h-1.1zM86.6,306.2h1.1v1.1h-1.1zM59.2,317.8h1.1v1.1h-1.1zM83.4,313.9h1.1v1.1h-1.1zM79.8,322.0h1.1v1.1h-1.1zM81.0,316.2h1.1v1.1h-1.1zM66.2,322.9h1.1v1.1h-1.1zM81.3,318.7h1.1v1.1h-1.1zM77.1,325.4h1.1v1.1h-1.1zM87.4,311.4h1.1v1.1h-1.1zM91.1,304.8h1.1v1.1h-1.1zM83.3,312.6h1.1v1.1h-1.1zM75.7,327.3h1.1v1.1h-1.1zM73.7,321.2h1.1v1.1h-1.1zM90.7,320.1h1.1v1.1h-1.1zM72.1,315.1h1.1v1.1h-1.1zM72.9,322.9h1.1v1.1h-1.1zM55.7,312.5h1.1v1.1h-1.1zM70.4,309.8h1.1v1.1h-1.1zM80.5,316.6h1.1v1.1h-1.1zM68.1,316.7h1.1v1.1h-1.1zM85.4,311.8h1.1v1.1h-1.1zM64.4,310.3h1.1v1.1h-1.1zM82.6,313.2h1.1v1.1h-1.1zM60.7,321.6h1.1v1.1h-1.1zM77.0,324.8h1.1v1.1h-1.1zM68.3,325.2h1.1v1.1h-1.1zM76.8,327.0h1.1v1.1h-1.1zM62.6,311.2h1.1v1.1h-1.1zM73.5,316.5h1.1v1.1h-1.1zM81.5,312.9h1.1v1.1h-1.1zM79.0,320.8h1.1v1.1h-1.1zM74.7,323.2h1.1v1.1h-1.1zM80.8,326.9h1.1v1.1h-1.1zM74.1,324.1h1.1v1.1h-1.1zM64.8,322.2h1.1v1.1h-1.1zM82.5,321.3h1.1v1.1h-1.1zM81.2,316.5h1.1v1.1h-1.1zM58.6,308.2h1.1v1.1h-1.1zM73.5,319.8h1.1v1.1h-1.1zM76.0,327.9h1.1v1.1h-1.1zM70.7,327.9h1.1v1.1h-1.1zM87.0,308.7h1.1v1.1h-1.1zM81.6,320.3h1.1v1.1h-1.1zM80.7,314.7h1.1v1.1h-1.1zM74.2,320.9h1.1v1.1h-1.1zM67.4,312.3h1.1v1.1h-1.1zM61.3,313.7h1.1v1.1h-1.1zM74.1,322.2h1.1v1.1h-1.1zM74.0,321.8h1.1v1.1h-1.1zM79.3,325.0h1.1v1.1h-1.1zM92.3,304.2h1.1v1.1h-1.1zM70.1,323.7h1.1v1.1h-1.1zM78.8,322.0h1.1v1.1h-1.1zM85.3,311.8h1.1v1.1h-1.1zM78.0,322.0h1.1v1.1h-1.1zM81.0,316.4h1.1v1.1h-1.1zM94.8,323.1h1.1v1.1h-1.1zM62.1,317.6h1.1v1.1h-1.1zM60.9,312.4h1.1v1.1h-1.1zM50.7,325.7h1.1v1.1h-1.1zM61.8,303.8h1.1v1.1h-1.1zM71.6,320.5h1.1v1.1h-1.1zM75.2,323.5h1.1v1.1h-1.1zM64.9,323.1h1.1v1.1h-1.1zM73.7,319.4h1.1v1.1h-1.1zM86.2,319.5h1.1v1.1h-1.1zM63.4,312.0h1.1v1.1h-1.1zM72.1,325.5h1.1v1.1h-1.1zM79.3,314.9h1.1v1.1h-1.1zM72.0,322.2h1.1v1.1h-1.1zM89.4,319.3h1.1v1.1h-1.1zM79.1,327.1h1.1v1.1h-1.1zM62.8,323.5h1.1v1.1h-1.1zM80.9,314.4h1.1v1.1h-1.1zM77.8,325.0h1.1v1.1h-1.1zM77.5,322.9h1.1v1.1h-1.1zM83.3,324.9h1.1v1.1h-1.1zM78.5,320.9h1.1v1.1h-1.1zM80.8,312.6h1.1v1.1h-1.1zM77.8,323.9h1.1v1.1h-1.1zM58.8,320.9h1.1v1.1h-1.1zM61.2,297.6h1.1v1.1h-1.1zM75.4,322.7h1.1v1.1h-1.1zM76.0,327.3h1.1v1.1h-1.1zM74.6,322.7h1.1v1.1h-1.1zM71.0,312.9h1.1v1.1h-1.1zM88.5,315.0h1.1v1.1h-1.1zM76.2,328.0h1.1v1.1h-1.1zM74.4,326.9h1.1v1.1h-1.1zM84.1,326.0h1.1v1.1h-1.1zM60.1,307.1h1.1v1.1h-1.1zM69.7,319.5h1.1v1.1h-1.1zM60.4,308.2h1.1v1.1h-1.1zM77.3,324.4h1.1v1.1h-1.1zM81.1,311.9h1.1v1.1h-1.1zM67.0,318.2h1.1v1.1h-1.1zM79.2,328.0h1.1v1.1h-1.1zM67.7,325.2h1.1v1.1h-1.1zM69.3,310.8h1.1v1.1h-1.1zM64.7,304.3h1.1v1.1h-1.1zM75.4,326.6h1.1v1.1h-1.1zM79.0,324.0h1.1v1.1h-1.1zM72.3,321.5h1.1v1.1h-1.1zM73.3,318.2h1.1v1.1h-1.1zM77.9,322.7h1.1v1.1h-1.1zM79.6,327.3h1.1v1.1h-1.1zM67.4,312.6h1.1v1.1h-1.1zM70.2,321.3h1.1v1.1h-1.1zM81.7,314.8h1.1v1.1h-1.1zM82.4,324.3h1.1v1.1h-1.1zM70.7,321.9h1.1v1.1h-1.1zM74.8,326.9h1.1v1.1h-1.1zM76.0,326.5h1.1v1.1h-1.1zM76.4,327.6h1.1v1.1h-1.1zM68.0,319.0h1.1v1.1h-1.1zM59.6,309.2h1.1v1.1h-1.1zM63.4,316.8h1.1v1.1h-1.1zM89.1,310.1h1.1v1.1h-1.1zM63.6,314.7h1.1v1.1h-1.1zM70.1,322.9h1.1v1.1h-1.1zM62.8,326.4h1.1v1.1h-1.1zM79.6,327.1h1.1v1.1h-1.1zM74.0,322.4h1.1v1.1h-1.1zM65.8,321.7h1.1v1.1h-1.1zM63.8,322.0h1.1v1.1h-1.1zM85.5,322.0h1.1v1.1h-1.1zM71.6,323.0h1.1v1.1h-1.1zM59.1,321.8h1.1v1.1h-1.1zM73.8,316.5h1.1v1.1h-1.1zM74.6,324.7h1.1v1.1h-1.1zM62.6,326.8h1.1v1.1h-1.1zM81.0,316.4h1.1v1.1h-1.1zM67.5,309.7h1.1v1.1h-1.1zM64.4,320.2h1.1v1.1h-1.1zM73.0,318.3h1.1v1.1h-1.1zM78.0,324.8h1.1v1.1h-1.1zM70.4,310.2h1.1v1.1h-1.1zM79.0,326.6h1.1v1.1h-1.1zM80.6,323.7h1.1v1.1h-1.1zM43.0,318.2h1.1v1.1h-1.1zM79.2,316.7h1.1v1.1h-1.1zM63.3,308.5h1.1v1.1h-1.1zM84.6,317.2h1.1v1.1h-1.1zM78.8,320.9h1.1v1.1h-1.1zM72.7,317.9h1.1v1.1h-1.1zM67.8,313.1h1.1v1.1h-1.1zM65.1,325.4h1.1v1.1h-1.1zM68.5,323.1h1.1v1.1h-1.1zM54.2,326.7h1.1v1.1h-1.1zM66.1,313.2h1.1v1.1h-1.1zM68.8,307.9h1.1v1.1h-1.1zM82.2,320.2h1.1v1.1h-1.1zM55.5,311.0h1.1v1.1h-1.1zM68.6,322.7h1.1v1.1h-1.1zM64.2,322.5h1.1v1.1h-1.1zM74.6,327.1h1.1v1.1h-1.1zM56.6,308.5h1.1v1.1h-1.1zM88.5,306.6h1.1v1.1h-1.1zM76.5,327.0h1.1v1.1h-1.1zM55.7,327.9h1.1v1.1h-1.1zM67.3,312.5h1.1v1.1h-1.1zM83.9,327.2h1.1v1.1h-1.1zM68.8,321.1h1.1v1.1h-1.1zM68.4,318.7h1.1v1.1h-1.1zM70.6,313.6h1.1v1.1h-1.1zM78.2,322.2h1.1v1.1h-1.1zM65.9,322.3h1.1v1.1h-1.1zM65.0,308.4h1.1v1.1h-1.1zM76.6,326.8h1.1v1.1h-1.1zM77.6,327.9h1.1v1.1h-1.1zM72.1,323.1h1.1v1.1h-1.1zM87.0,321.1h1.1v1.1h-1.1zM76.8,327.6h1.1v1.1h-1.1zM71.6,308.8h1.1v1.1h-1.1zM90.3,306.5h1.1v1.1h-1.1zM59.5,321.5h1.1v1.1h-1.1zM65.8,321.0h1.1v1.1h-1.1zM91.5,302.4h1.1v1.1h-1.1zM79.1,315.3h1.1v1.1h-1.1zM73.5,326.2h1.1v1.1h-1.1zM66.7,312.4h1.1v1.1h-1.1zM72.3,326.6h1.1v1.1h-1.1zM75.4,325.7h1.1v1.1h-1.1zM89.7,298.4h1.1v1.1h-1.1zM69.4,322.6h1.1v1.1h-1.1zM97.3,302.6h1.1v1.1h-1.1zM57.4,323.5h1.1v1.1h-1.1zM62.0,322.5h1.1v1.1h-1.1zM76.5,327.5h1.1v1.1h-1.1zM79.0,317.7h1.1v1.1h-1.1zM72.6,318.3h1.1v1.1h-1.1zM68.9,323.6h1.1v1.1h-1.1zM80.3,321.7h1.1v1.1h-1.1zM61.0,323.3h1.1v1.1h-1.1zM82.0,319.4h1.1v1.1h-1.1zM73.5,322.4h1.1v1.1h-1.1zM79.1,320.5h1.1v1.1h-1.1zM66.4,312.7h1.1v1.1h-1.1zM85.4,325.2h1.1v1.1h-1.1zM80.8,326.2h1.1v1.1h-1.1zM68.9,326.8h1.1v1.1h-1.1zM75.2,324.7h1.1v1.1h-1.1zM77.5,323.3h1.1v1.1h-1.1zM69.3,322.9h1.1v1.1h-1.1zM74.2,325.8h1.1v1.1h-1.1zM77.5,325.7h1.1v1.1h-1.1zM71.0,313.6h1.1v1.1h-1.1zM66.3,308.8h1.1v1.1h-1.1zM66.9,311.1h1.1v1.1h-1.1zM56.0,318.7h1.1v1.1h-1.1zM70.1,322.8h1.1v1.1h-1.1zM78.0,324.1h1.1v1.1h-1.1zM63.3,302.3h1.1v1.1h-1.1zM69.6,322.0h1.1v1.1h-1.1zM81.0,323.0h1.1v1.1h-1.1zM64.1,317.3h1.1v1.1h-1.1zM80.0,327.8h1.1v1.1h-1.1zM79.8,320.9h1.1v1.1h-1.1zM76.9,326.2h1.1v1.1h-1.1zM80.1,320.7h1.1v1.1h-1.1zM74.1,322.9h1.1v1.1h-1.1zM71.7,315.2h1.1v1.1h-1.1zM54.6,297.0h1.1v1.1h-1.1zM87.6,304.5h1.1v1.1h-1.1zM79.2,325.3h1.1v1.1h-1.1zM76.9,326.0h1.1v1.1h-1.1zM92.1,309.2h1.1v1.1h-1.1zM76.6,327.3h1.1v1.1h-1.1zM83.2,318.1h1.1v1.1h-1.1zM85.2,314.0h1.1v1.1h-1.1zM86.8,315.3h1.1v1.1h-1.1zM77.8,325.3h1.1v1.1h-1.1zM89.0,313.9h1.1v1.1h-1.1zM72.3,320.4h1.1v1.1h-1.1zM73.2,321.1h1.1v1.1h-1.1zM79.4,314.9h1.1v1.1h-1.1zM70.3,327.7h1.1v1.1h-1.1zM71.9,310.0h1.1v1.1h-1.1zM76.0,327.4h1.1v1.1h-1.1zM84.2,316.2h1.1v1.1h-1.1zM65.3,322.4h1.1v1.1h-1.1zM71.3,311.8h1.1v1.1h-1.1zM75.0,323.7h1.1v1.1h-1.1zM86.2,321.9h1.1v1.1h-1.1zM88.4,318.2h1.1v1.1h-1.1zM70.5,323.8h1.1v1.1h-1.1zM80.2,321.8h1.1v1.1h-1.1zM68.9,305.8h1.1v1.1h-1.1zM52.8,309.0h1.1v1.1h-1.1zM73.9,326.4h1.1v1.1h-1.1zM74.1,318.1h1.1v1.1h-1.1zM84.1,310.6h1.1v1.1h-1.1zM86.5,323.9h1.1v1.1h-1.1zM70.9,305.7h1.1v1.1h-1.1zM68.9,318.6h1.1v1.1h-1.1zM68.8,314.6h1.1v1.1h-1.1zM60.2,320.7h1.1v1.1h-1.1zM78.7,327.4h1.1v1.1h-1.1zM79.9,325.9h1.1v1.1h-1.1zM78.4,327.8h1.1v1.1h-1.1zM71.0,324.0h1.1v1.1h-1.1zM62.1,314.7h1.1v1.1h-1.1zM68.0,311.1h1.1v1.1h-1.1zM64.9,314.9h1.1v1.1h-1.1zM73.2,318.4h1.1v1.1h-1.1zM80.6,313.4h1.1v1.1h-1.1zM80.1,322.0h1.1v1.1h-1.1zM76.7,327.7h1.1v1.1h-1.1zM76.5,326.8h1.1v1.1h-1.1zM75.7,326.6h1.1v1.1h-1.1zM60.0,309.3h1.1v1.1h-1.1zM56.9,314.3h1.1v1.1h-1.1zM57.0,310.3h1.1v1.1h-1.1zM85.1,317.5h1.1v1.1h-1.1zM71.3,316.4h1.1v1.1h-1.1zM65.5,318.0h1.1v1.1h-1.1zM76.9,327.4h1.1v1.1h-1.1zM73.7,315.3h1.1v1.1h-1.1zM62.4,323.7h1.1v1.1h-1.1zM77.8,324.6h1.1v1.1h-1.1zM61.5,313.9h1.1v1.1h-1.1zM87.0,327.4h1.1v1.1h-1.1zM73.4,326.8h1.1v1.1h-1.1zM67.9,316.8h1.1v1.1h-1.1zM57.0,320.1h1.1v1.1h-1.1zM55.9,313.4h1.1v1.1h-1.1zM87.0,313.3h1.1v1.1h-1.1zM75.1,324.6h1.1v1.1h-1.1zM64.5,310.9h1.1v1.1h-1.1zM78.3,328.0h1.1v1.1h-1.1zM68.6,325.2h1.1v1.1h-1.1zM58.7,302.7h1.1v1.1h-1.1zM82.7,312.9h1.1v1.1h-1.1zM69.4,315.3h1.1v1.1h-1.1zM78.2,322.5h1.1v1.1h-1.1zM70.5,313.7h1.1v1.1h-1.1zM60.4,326.7h1.1v1.1h-1.1zM74.8,322.3h1.1v1.1h-1.1zM84.5,317.6h1.1v1.1h-1.1zM75.2,326.9h1.1v1.1h-1.1zM66.4,327.1h1.1v1.1h-1.1zM69.7,318.9h1.1v1.1h-1.1zM57.5,306.2h1.1v1.1h-1.1zM86.6,304.0h1.1v1.1h-1.1zM72.3,319.2h1.1v1.1h-1.1zM77.3,323.5h1.1v1.1h-1.1zM74.9,327.2h1.1v1.1h-1.1zM85.8,325.1h1.1v1.1h-1.1zM83.1,315.8h1.1v1.1h-1.1zM71.8,325.5h1.1v1.1h-1.1zM61.1,313.9h1.1v1.1h-1.1zM83.6,317.9h1.1v1.1h-1.1zM75.1,325.5h1.1v1.1h-1.1zM87.8,318.7h1.1v1.1h-1.1zM76.0,327.6h1.1v1.1h-1.1zM77.5,326.3h1.1v1.1h-1.1zM79.6,318.6h1.1v1.1h-1.1zM70.8,309.2h1.1v1.1h-1.1zM89.9,313.6h1.1v1.1h-1.1zM69.9,327.3h1.1v1.1h-1.1zM71.7,326.7h1.1v1.1h-1.1zM79.7,317.4h1.1v1.1h-1.1zM87.8,317.0h1.1v1.1h-1.1zM85.7,318.4h1.1v1.1h-1.1zM76.2,328.1h1.1v1.1h-1.1zM70.4,314.9h1.1v1.1h-1.1zM68.8,323.8h1.1v1.1h-1.1zM76.7,326.0h1.1v1.1h-1.1zM85.5,310.0h1.1v1.1h-1.1zM66.6,319.1h1.1v1.1h-1.1zM74.7,322.9h1.1v1.1h-1.1zM92.7,315.5h1.1v1.1h-1.1zM84.5,308.7h1.1v1.1h-1.1zM63.0,316.7h1.1v1.1h-1.1zM83.4,307.0h1.1v1.1h-1.1zM63.0,306.7h1.1v1.1h-1.1zM87.6,314.0h1.1v1.1h-1.1zM84.6,313.1h1.1v1.1h-1.1zM80.9,314.3h1.1v1.1h-1.1zM70.2,319.5h1.1v1.1h-1.1zM71.5,328.1h1.1v1.1h-1.1zM72.2,327.9h1.1v1.1h-1.1zM95.3,304.5h1.1v1.1h-1.1zM77.7,324.3h1.1v1.1h-1.1zM63.3,326.1h1.1v1.1h-1.1zM67.1,310.6h1.1v1.1h-1.1zM80.1,312.5h1.1v1.1h-1.1zM78.3,327.6h1.1v1.1h-1.1zM76.7,326.5h1.1v1.1h-1.1zM91.7,316.2h1.1v1.1h-1.1zM74.6,327.8h1.1v1.1h-1.1zM85.8,311.7h1.1v1.1h-1.1zM83.5,306.3h1.1v1.1h-1.1zM80.3,309.6h1.1v1.1h-1.1zM84.9,318.7h1.1v1.1h-1.1zM85.6,309.3h1.1v1.1h-1.1zM78.5,323.3h1.1v1.1h-1.1zM83.6,303.6h1.1v1.1h-1.1zM77.1,326.6h1.1v1.1h-1.1zM74.3,322.9h1.1v1.1h-1.1zM74.1,323.3h1.1v1.1h-1.1zM83.9,311.7h1.1v1.1h-1.1zM66.1,321.4h1.1v1.1h-1.1zM73.2,326.3h1.1v1.1h-1.1zM88.5,302.0h1.1v1.1h-1.1zM70.9,327.9h1.1v1.1h-1.1zM66.9,307.0h1.1v1.1h-1.1zM66.1,316.9h1.1v1.1h-1.1zM78.2,322.4h1.1v1.1h-1.1zM75.3,325.6h1.1v1.1h-1.1zM94.8,311.3h1.1v1.1h-1.1zM85.7,327.8h1.1v1.1h-1.1zM86.6,319.4h1.1v1.1h-1.1zM65.7,315.6h1.1v1.1h-1.1zM89.5,305.1h1.1v1.1h-1.1zM73.1,322.0h1.1v1.1h-1.1zM78.9,323.7h1.1v1.1h-1.1zM64.3,312.1h1.1v1.1h-1.1zM65.9,304.1h1.1v1.1h-1.1zM89.3,322.0h1.1v1.1h-1.1zM78.6,317.9h1.1v1.1h-1.1zM70.0,317.8h1.1v1.1h-1.1zM70.7,323.1h1.1v1.1h-1.1zM83.0,315.7h1.1v1.1h-1.1zM64.3,320.0h1.1v1.1h-1.1zM82.7,322.8h1.1v1.1h-1.1zM67.0,310.1h1.1v1.1h-1.1zM81.0,317.9h1.1v1.1h-1.1zM70.1,327.0h1.1v1.1h-1.1zM66.8,316.7h1.1v1.1h-1.1zM64.0,318.0h1.1v1.1h-1.1zM79.1,323.5h1.1v1.1h-1.1zM74.2,327.1h1.1v1.1h-1.1zM68.9,321.9h1.1v1.1h-1.1zM81.8,308.2h1.1v1.1h-1.1zM80.1,323.1h1.1v1.1h-1.1zM88.0,317.5h1.1v1.1h-1.1zM63.6,295.5h1.1v1.1h-1.1zM89.8,316.1h1.1v1.1h-1.1zM81.9,320.4h1.1v1.1h-1.1zM68.0,316.7h1.1v1.1h-1.1zM79.6,319.6h1.1v1.1h-1.1zM74.7,328.0h1.1v1.1h-1.1zM70.5,324.9h1.1v1.1h-1.1zM74.9,323.5h1.1v1.1h-1.1zM83.6,306.5h1.1v1.1h-1.1zM80.2,327.0h1.1v1.1h-1.1zM76.8,324.9h1.1v1.1h-1.1zM80.5,318.4h1.1v1.1h-1.1zM79.3,317.8h1.1v1.1h-1.1zM72.9,326.2h1.1v1.1h-1.1zM80.9,310.5h1.1v1.1h-1.1zM80.2,317.9h1.1v1.1h-1.1zM75.3,326.3h1.1v1.1h-1.1zM86.2,316.9h1.1v1.1h-1.1zM69.0,325.4h1.1v1.1h-1.1zM66.1,311.3h1.1v1.1h-1.1zM83.9,322.2h1.1v1.1h-1.1zM67.6,318.7h1.1v1.1h-1.1zM80.0,317.0h1.1v1.1h-1.1zM83.7,323.5h1.1v1.1h-1.1zM80.0,326.4h1.1v1.1h-1.1zM65.7,323.0h1.1v1.1h-1.1zM73.5,320.4h1.1v1.1h-1.1zM63.9,317.0h1.1v1.1h-1.1zM72.4,325.2h1.1v1.1h-1.1zM86.9,320.9h1.1v1.1h-1.1zM67.2,319.0h1.1v1.1h-1.1zM67.0,307.5h1.1v1.1h-1.1zM66.9,309.6h1.1v1.1h-1.1zM77.5,323.6h1.1v1.1h-1.1zM75.0,323.6h1.1v1.1h-1.1zM82.0,321.4h1.1v1.1h-1.1zM73.4,324.5h1.1v1.1h-1.1zM84.9,321.4h1.1v1.1h-1.1zM71.5,319.5h1.1v1.1h-1.1zM84.3,312.4h1.1v1.1h-1.1zM62.7,321.7h1.1v1.1h-1.1zM71.3,327.4h1.1v1.1h-1.1zM75.6,326.8h1.1v1.1h-1.1zM68.0,319.9h1.1v1.1h-1.1zM80.5,328.1h1.1v1.1h-1.1zM68.3,308.9h1.1v1.1h-1.1zM64.2,315.7h1.1v1.1h-1.1zM76.3,327.8h1.1v1.1h-1.1zM75.7,326.6h1.1v1.1h-1.1zM78.9,326.0h1.1v1.1h-1.1zM76.1,328.0h1.1v1.1h-1.1zM86.0,327.4h1.1v1.1h-1.1zM71.0,321.1h1.1v1.1h-1.1zM66.5,315.9h1.1v1.1h-1.1zM68.1,317.5h1.1v1.1h-1.1zM82.4,324.5h1.1v1.1h-1.1zM64.2,307.3h1.1v1.1h-1.1zM65.7,311.0h1.1v1.1h-1.1zM82.0,313.0h1.1v1.1h-1.1zM81.1,317.1h1.1v1.1h-1.1zM89.1,326.1h1.1v1.1h-1.1zM80.2,324.9h1.1v1.1h-1.1zM78.0,325.8h1.1v1.1h-1.1zM75.6,327.1h1.1v1.1h-1.1zM54.4,314.4h1.1v1.1h-1.1zM77.3,327.4h1.1v1.1h-1.1zM75.5,327.6h1.1v1.1h-1.1zM73.5,320.0h1.1v1.1h-1.1zM77.4,326.0h1.1v1.1h-1.1zM65.3,323.7h1.1v1.1h-1.1zM77.2,325.6h1.1v1.1h-1.1zM74.7,321.3h1.1v1.1h-1.1zM93.5,318.0h1.1v1.1h-1.1zM80.3,319.0h1.1v1.1h-1.1zM84.9,325.5h1.1v1.1h-1.1zM77.8,322.9h1.1v1.1h-1.1zM80.6,316.3h1.1v1.1h-1.1zM70.6,316.5h1.1v1.1h-1.1zM78.2,320.7h1.1v1.1h-1.1zM67.7,306.7h1.1v1.1h-1.1zM87.5,307.4h1.1v1.1h-1.1zM77.5,327.4h1.1v1.1h-1.1zM91.7,308.5h1.1v1.1h-1.1zM67.2,320.7h1.1v1.1h-1.1zM66.7,306.2h1.1v1.1h-1.1zM81.3,323.8h1.1v1.1h-1.1zM58.9,310.5h1.1v1.1h-1.1zM63.2,298.4h1.1v1.1h-1.1zM72.1,322.1h1.1v1.1h-1.1zM57.5,320.3h1.1v1.1h-1.1zM58.1,322.5h1.1v1.1h-1.1zM72.4,321.6h1.1v1.1h-1.1zM68.5,311.8h1.1v1.1h-1.1zM80.0,324.7h1.1v1.1h-1.1zM74.1,327.7h1.1v1.1h-1.1zM60.8,308.5h1.1v1.1h-1.1zM60.5,317.3h1.1v1.1h-1.1zM64.6,308.0h1.1v1.1h-1.1zM78.4,321.8h1.1v1.1h-1.1zM84.3,327.4h1.1v1.1h-1.1zM52.4,292.6h1.1v1.1h-1.1zM64.2,326.6h1.1v1.1h-1.1zM79.3,319.8h1.1v1.1h-1.1zM81.5,316.7h1.1v1.1h-1.1zM51.1,320.7h1.1v1.1h-1.1zM80.1,322.2h1.1v1.1h-1.1zM84.6,303.0h1.1v1.1h-1.1zM63.0,316.4h1.1v1.1h-1.1zM73.5,320.3h1.1v1.1h-1.1zM74.8,320.2h1.1v1.1h-1.1zM74.7,321.5h1.1v1.1h-1.1zM74.1,322.1h1.1v1.1h-1.1zM73.5,321.6h1.1v1.1h-1.1zM80.1,325.3h1.1v1.1h-1.1zM80.7,327.0h1.1v1.1h-1.1zM82.1,322.7h1.1v1.1h-1.1zM63.6,327.9h1.1v1.1h-1.1zM75.2,324.2h1.1v1.1h-1.1zM63.1,315.8h1.1v1.1h-1.1zM86.7,325.4h1.1v1.1h-1.1zM59.5,318.4h1.1v1.1h-1.1zM69.7,322.0h1.1v1.1h-1.1zM82.3,316.7h1.1v1.1h-1.1zM81.7,311.3h1.1v1.1h-1.1zM70.1,323.5h1.1v1.1h-1.1zM73.3,323.4h1.1v1.1h-1.1zM69.8,321.5h1.1v1.1h-1.1zM78.7,320.0h1.1v1.1h-1.1zM62.1,326.1h1.1v1.1h-1.1zM70.7,314.9h1.1v1.1h-1.1zM75.5,326.5h1.1v1.1h-1.1zM71.0,315.2h1.1v1.1h-1.1zM70.6,322.8h1.1v1.1h-1.1zM59.6,311.6h1.1v1.1h-1.1zM76.8,326.4h1.1v1.1h-1.1zM83.8,321.2h1.1v1.1h-1.1zM73.6,321.4h1.1v1.1h-1.1zM66.9,307.6h1.1v1.1h-1.1zM73.2,315.7h1.1v1.1h-1.1zM78.9,317.4h1.1v1.1h-1.1zM81.4,324.2h1.1v1.1h-1.1zM80.0,323.6h1.1v1.1h-1.1zM74.9,326.6h1.1v1.1h-1.1zM67.8,322.7h1.1v1.1h-1.1zM78.5,323.2h1.1v1.1h-1.1zM78.5,321.8h1.1v1.1h-1.1zM81.2,322.9h1.1v1.1h-1.1zM68.4,327.9h1.1v1.1h-1.1zM79.0,320.1h1.1v1.1h-1.1zM70.1,319.2h1.1v1.1h-1.1zM62.5,300.3h1.1v1.1h-1.1zM74.2,323.0h1.1v1.1h-1.1zM80.3,327.2h1.1v1.1h-1.1zM62.7,325.5h1.1v1.1h-1.1zM76.5,327.7h1.1v1.1h-1.1zM70.3,312.9h1.1v1.1h-1.1zM79.1,321.1h1.1v1.1h-1.1zM87.4,305.0h1.1v1.1h-1.1zM68.0,323.1h1.1v1.1h-1.1zM72.7,320.4h1.1v1.1h-1.1zM76.6,326.8h1.1v1.1h-1.1zM85.6,311.5h1.1v1.1h-1.1zM83.8,324.7h1.1v1.1h-1.1zM82.0,312.9h1.1v1.1h-1.1zM64.8,309.2h1.1v1.1h-1.1zM58.6,304.8h1.1v1.1h-1.1zM83.0,321.7h1.1v1.1h-1.1zM64.3,313.9h1.1v1.1h-1.1zM84.1,306.0h1.1v1.1h-1.1zM87.2,308.6h1.1v1.1h-1.1zM79.9,315.3h1.1v1.1h-1.1zM76.6,327.7h1.1v1.1h-1.1zM80.5,317.5h1.1v1.1h-1.1zM72.0,324.1h1.1v1.1h-1.1zM84.5,320.9h1.1v1.1h-1.1zM91.6,314.7h1.1v1.1h-1.1zM73.1,316.9h1.1v1.1h-1.1zM66.9,322.5h1.1v1.1h-1.1zM72.1,316.5h1.1v1.1h-1.1zM83.3,326.7h1.1v1.1h-1.1zM60.6,310.1h1.1v1.1h-1.1zM81.8,319.9h1.1v1.1h-1.1zM75.1,324.7h1.1v1.1h-1.1zM66.8,308.3h1.1v1.1h-1.1zM72.4,321.7h1.1v1.1h-1.1zM82.7,322.2h1.1v1.1h-1.1zM79.8,321.5h1.1v1.1h-1.1zM70.8,318.7h1.1v1.1h-1.1zM73.2,322.9h1.1v1.1h-1.1zM69.9,322.8h1.1v1.1h-1.1zM73.2,322.6h1.1v1.1h-1.1zM55.0,308.1h1.1v1.1h-1.1zM75.6,326.1h1.1v1.1h-1.1zM67.2,313.6h1.1v1.1h-1.1zM83.2,324.5h1.1v1.1h-1.1zM79.5,318.2h1.1v1.1h-1.1zM73.9,326.3h1.1v1.1h-1.1zM77.9,326.1h1.1v1.1h-1.1zM75.0,325.0h1.1v1.1h-1.1zM68.4,326.5h1.1v1.1h-1.1zM62.3,310.6h1.1v1.1h-1.1zM81.1,315.9h1.1v1.1h-1.1zM63.9,308.5h1.1v1.1h-1.1zM92.8,309.6h1.1v1.1h-1.1zM65.8,314.5h1.1v1.1h-1.1zM88.3,324.5h1.1v1.1h-1.1zM68.5,317.1h1.1v1.1h-1.1zM68.4,319.8h1.1v1.1h-1.1zM90.9,327.5h1.1v1.1h-1.1zM75.2,325.6h1.1v1.1h-1.1zM57.6,320.3h1.1v1.1h-1.1zM61.8,325.8h1.1v1.1h-1.1zM60.4,306.6h1.1v1.1h-1.1zM66.0,326.3h1.1v1.1h-1.1zM79.6,324.9h1.1v1.1h-1.1zM72.3,314.6h1.1v1.1h-1.1zM73.5,319.3h1.1v1.1h-1.1zM68.1,320.1h1.1v1.1h-1.1zM65.5,326.4h1.1v1.1h-1.1zM55.3,326.6h1.1v1.1h-1.1zM85.5,317.6h1.1v1.1h-1.1zM84.3,325.9h1.1v1.1h-1.1zM81.6,324.7h1.1v1.1h-1.1zM78.2,321.0h1.1v1.1h-1.1zM64.2,309.2h1.1v1.1h-1.1zM95.0,314.1h1.1v1.1h-1.1zM85.9,310.4h1.1v1.1h-1.1zM89.2,316.3h1.1v1.1h-1.1zM88.4,312.6h1.1v1.1h-1.1zM80.4,318.9h1.1v1.1h-1.1zM78.7,324.4h1.1v1.1h-1.1zM82.9,319.0h1.1v1.1h-1.1zM80.3,318.1h1.1v1.1h-1.1zM75.7,325.2h1.1v1.1h-1.1zM66.3,316.5h1.1v1.1h-1.1zM65.8,313.5h1.1v1.1h-1.1zM63.7,312.2h1.1v1.1h-1.1zM88.6,318.1h1.1v1.1h-1.1zM68.4,306.6h1.1v1.1h-1.1zM83.9,323.2h1.1v1.1h-1.1zM73.4,323.8h1.1v1.1h-1.1zM71.9,322.5h1.1v1.1h-1.1zM70.1,319.1h1.1v1.1h-1.1zM79.3,317.1h1.1v1.1h-1.1zM68.8,313.3h1.1v1.1h-1.1zM62.4,324.6h1.1v1.1h-1.1zM79.8,326.2h1.1v1.1h-1.1zM79.2,326.3h1.1v1.1h-1.1zM79.3,320.5h1.1v1.1h-1.1zM73.3,320.4h1.1v1.1h-1.1zM74.1,327.1h1.1v1.1h-1.1zM75.8,325.9h1.1v1.1h-1.1zM71.9,323.5h1.1v1.1h-1.1zM79.7,319.3h1.1v1.1h-1.1zM78.0,326.5h1.1v1.1h-1.1zM77.0,326.1h1.1v1.1h-1.1zM69.2,311.9h1.1v1.1h-1.1zM85.5,323.6h1.1v1.1h-1.1zM85.9,315.1h1.1v1.1h-1.1zM76.2,328.1h1.1v1.1h-1.1zM85.7,309.0h1.1v1.1h-1.1zM74.5,320.0h1.1v1.1h-1.1zM74.4,323.4h1.1v1.1h-1.1zM77.1,323.9h1.1v1.1h-1.1zM80.3,322.4h1.1v1.1h-1.1zM71.7,324.2h1.1v1.1h-1.1zM77.3,322.5h1.1v1.1h-1.1zM93.7,310.8h1.1v1.1h-1.1zM59.0,316.5h1.1v1.1h-1.1zM76.6,327.2h1.1v1.1h-1.1zM78.5,318.9h1.1v1.1h-1.1zM71.1,319.4h1.1v1.1h-1.1zM74.0,323.0h1.1v1.1h-1.1zM81.7,326.6h1.1v1.1h-1.1zM82.7,319.2h1.1v1.1h-1.1zM75.5,324.8h1.1v1.1h-1.1zM69.8,314.8h1.1v1.1h-1.1zM81.6,324.4h1.1v1.1h-1.1zM79.7,324.6h1.1v1.1h-1.1zM72.5,315.6h1.1v1.1h-1.1zM73.5,328.1h1.1v1.1h-1.1zM65.8,319.0h1.1v1.1h-1.1zM83.0,322.0h1.1v1.1h-1.1zM68.1,308.6h1.1v1.1h-1.1zM61.6,315.5h1.1v1.1h-1.1zM67.6,306.7h1.1v1.1h-1.1zM78.0,321.7h1.1v1.1h-1.1zM59.1,311.3h1.1v1.1h-1.1zM76.5,327.4h1.1v1.1h-1.1zM89.2,307.5h1.1v1.1h-1.1zM63.4,309.9h1.1v1.1h-1.1zM77.8,326.3h1.1v1.1h-1.1zM65.9,322.7h1.1v1.1h-1.1zM71.4,319.2h1.1v1.1h-1.1zM77.9,323.9h1.1v1.1h-1.1zM68.7,328.1h1.1v1.1h-1.1zM76.1,327.5h1.1v1.1h-1.1zM94.5,312.1h1.1v1.1h-1.1zM62.7,313.4h1.1v1.1h-1.1zM86.4,307.2h1.1v1.1h-1.1zM69.3,314.2h1.1v1.1h-1.1zM62.4,320.3h1.1v1.1h-1.1zM70.9,318.6h1.1v1.1h-1.1zM78.5,324.0h1.1v1.1h-1.1zM61.4,322.5h1.1v1.1h-1.1zM77.6,324.9h1.1v1.1h-1.1zM80.0,325.3h1.1v1.1h-1.1zM84.4,311.0h1.1v1.1h-1.1zM72.7,326.3h1.1v1.1h-1.1zM68.0,313.4h1.1v1.1h-1.1zM83.4,317.0h1.1v1.1h-1.1zM72.7,316.2h1.1v1.1h-1.1zM62.4,318.0h1.1v1.1h-1.1zM72.2,326.3h1.1v1.1h-1.1zM86.6,308.5h1.1v1.1h-1.1zM71.1,315.4h1.1v1.1h-1.1zM69.3,323.2h1.1v1.1h-1.1zM70.4,310.2h1.1v1.1h-1.1zM64.2,307.6h1.1v1.1h-1.1zM75.0,327.7h1.1v1.1h-1.1zM80.1,319.5h1.1v1.1h-1.1zM65.2,316.8h1.1v1.1h-1.1zM79.2,325.5h1.1v1.1h-1.1zM69.5,320.6h1.1v1.1h-1.1zM79.6,323.5h1.1v1.1h-1.1zM64.1,324.8h1.1v1.1h-1.1zM72.4,318.7h1.1v1.1h-1.1zM69.1,315.1h1.1v1.1h-1.1zM77.7,323.3h1.1v1.1h-1.1zM75.7,327.2h1.1v1.1h-1.1zM90.6,326.4h1.1v1.1h-1.1zM69.0,308.2h1.1v1.1h-1.1zM75.4,324.5h1.1v1.1h-1.1zM70.1,326.7h1.1v1.1h-1.1zM74.8,325.5h1.1v1.1h-1.1zM78.8,328.0h1.1v1.1h-1.1zM69.9,313.2h1.1v1.1h-1.1zM71.0,309.8h1.1v1.1h-1.1zM61.9,303.6h1.1v1.1h-1.1zM70.1,315.5h1.1v1.1h-1.1zM70.3,327.8h1.1v1.1h-1.1zM72.9,323.5h1.1v1.1h-1.1zM66.2,326.7h1.1v1.1h-1.1zM56.0,300.3h1.1v1.1h-1.1zM89.8,323.4h1.1v1.1h-1.1zM75.8,327.9h1.1v1.1h-1.1zM80.7,318.7h1.1v1.1h-1.1zM68.0,322.3h1.1v1.1h-1.1zM72.9,322.2h1.1v1.1h-1.1zM65.7,305.0h1.1v1.1h-1.1zM65.2,312.7h1.1v1.1h-1.1zM66.7,319.2h1.1v1.1h-1.1zM74.7,322.4h1.1v1.1h-1.1zM73.4,324.7h1.1v1.1h-1.1zM56.6,319.7h1.1v1.1h-1.1zM68.2,309.2h1.1v1.1h-1.1zM79.7,324.9h1.1v1.1h-1.1zM74.4,319.5h1.1v1.1h-1.1zM73.9,323.5h1.1v1.1h-1.1zM77.0,325.7h1.1v1.1h-1.1zM58.1,309.7h1.1v1.1h-1.1zM73.7,315.6h1.1v1.1h-1.1zM69.9,311.2h1.1v1.1h-1.1zM72.1,320.1h1.1v1.1h-1.1zM79.8,318.4h1.1v1.1h-1.1zM66.3,318.9h1.1v1.1h-1.1zM69.6,324.1h1.1v1.1h-1.1zM61.5,310.7h1.1v1.1h-1.1zM93.2,299.9h1.1v1.1h-1.1zM53.8,310.8h1.1v1.1h-1.1zM77.3,325.2h1.1v1.1h-1.1zM58.5,321.7h1.1v1.1h-1.1zM70.0,317.7h1.1v1.1h-1.1zM72.7,321.9h1.1v1.1h-1.1zM84.0,321.7h1.1v1.1h-1.1zM75.8,327.5h1.1v1.1h-1.1zM73.8,321.8h1.1v1.1h-1.1zM68.4,328.1h1.1v1.1h-1.1zM82.3,321.0h1.1v1.1h-1.1zM63.5,307.6h1.1v1.1h-1.1zM70.8,319.5h1.1v1.1h-1.1zM73.3,322.2h1.1v1.1h-1.1zM88.5,308.0h1.1v1.1h-1.1zM48.6,318.2h1.1v1.1h-1.1zM68.1,325.2h1.1v1.1h-1.1zM65.9,324.1h1.1v1.1h-1.1zM84.3,311.6h1.1v1.1h-1.1zM70.7,319.5h1.1v1.1h-1.1zM83.1,307.6h1.1v1.1h-1.1zM77.3,326.9h1.1v1.1h-1.1zM68.9,319.0h1.1v1.1h-1.1zM74.2,319.1h1.1v1.1h-1.1zM72.8,322.4h1.1v1.1h-1.1zM77.6,323.4h1.1v1.1h-1.1zM84.6,312.0h1.1v1.1h-1.1zM78.3,324.3h1.1v1.1h-1.1zM78.9,324.2h1.1v1.1h-1.1zM81.8,315.5h1.1v1.1h-1.1zM88.2,319.9h1.1v1.1h-1.1zM77.3,325.0h1.1v1.1h-1.1zM59.7,312.8h1.1v1.1h-1.1zM69.3,328.0h1.1v1.1h-1.1zM71.1,313.5h1.1v1.1h-1.1zM86.3,314.8h1.1v1.1h-1.1zM77.9,327.5h1.1v1.1h-1.1zM72.4,318.3h1.1v1.1h-1.1zM63.2,315.0h1.1v1.1h-1.1zM83.8,323.0h1.1v1.1h-1.1zM79.1,324.4h1.1v1.1h-1.1zM78.9,319.2h1.1v1.1h-1.1zM62.9,309.7h1.1v1.1h-1.1zM84.8,307.1h1.1v1.1h-1.1zM65.1,318.7h1.1v1.1h-1.1zM66.4,303.9h1.1v1.1h-1.1zM64.2,318.4h1.1v1.1h-1.1zM70.7,318.6h1.1v1.1h-1.1zM75.2,327.6h1.1v1.1h-1.1zM83.9,305.9h1.1v1.1h-1.1zM77.6,321.6h1.1v1.1h-1.1zM90.5,296.5h1.1v1.1h-1.1zM78.1,321.8h1.1v1.1h-1.1zM66.8,316.7h1.1v1.1h-1.1zM85.7,305.1h1.1v1.1h-1.1zM63.4,308.7h1.1v1.1h-1.1zM78.5,323.9h1.1v1.1h-1.1zM89.8,311.4h1.1v1.1h-1.1zM78.0,323.7h1.1v1.1h-1.1zM87.7,318.3h1.1v1.1h-1.1zM62.9,304.2h1.1v1.1h-1.1zM80.1,325.0h1.1v1.1h-1.1zM58.9,307.1h1.1v1.1h-1.1zM88.9,311.9h1.1v1.1h-1.1zM74.9,326.0h1.1v1.1h-1.1zM87.4,312.2h1.1v1.1h-1.1zM64.5,307.3h1.1v1.1h-1.1zM81.2,314.7h1.1v1.1h-1.1zM79.2,325.0h1.1v1.1h-1.1zM81.3,313.4h1.1v1.1h-1.1zM66.3,320.9h1.1v1.1h-1.1zM90.1,324.4h1.1v1.1h-1.1zM89.5,304.2h1.1v1.1h-1.1zM66.6,324.9h1.1v1.1h-1.1zM80.6,324.7h1.1v1.1h-1.1zM74.1,326.0h1.1v1.1h-1.1zM72.4,317.4h1.1v1.1h-1.1zM78.8,320.2h1.1v1.1h-1.1zM75.7,327.1h1.1v1.1h-1.1zM82.2,318.2h1.1v1.1h-1.1zM64.5,309.9h1.1v1.1h-1.1zM82.2,319.9h1.1v1.1h-1.1zM73.8,322.2h1.1v1.1h-1.1zM75.6,325.3h1.1v1.1h-1.1zM52.1,315.1h1.1v1.1h-1.1zM69.9,317.6h1.1v1.1h-1.1zM78.7,321.5h1.1v1.1h-1.1zM75.7,326.0h1.1v1.1h-1.1zM72.2,319.2h1.1v1.1h-1.1zM83.4,308.3h1.1v1.1h-1.1zM75.5,326.8h1.1v1.1h-1.1zM71.5,315.7h1.1v1.1h-1.1zM75.6,325.9h1.1v1.1h-1.1zM73.7,319.2h1.1v1.1h-1.1zM81.1,316.6h1.1v1.1h-1.1zM69.1,314.9h1.1v1.1h-1.1zM65.5,308.3h1.1v1.1h-1.1zM70.5,324.2h1.1v1.1h-1.1zM83.2,316.7h1.1v1.1h-1.1zM77.6,325.4h1.1v1.1h-1.1zM67.9,318.5h1.1v1.1h-1.1zM65.0,310.1h1.1v1.1h-1.1zM89.5,317.3h1.1v1.1h-1.1zM70.0,322.1h1.1v1.1h-1.1zM70.4,314.3h1.1v1.1h-1.1zM71.7,322.0h1.1v1.1h-1.1zM84.9,308.3h1.1v1.1h-1.1zM70.3,326.2h1.1v1.1h-1.1zM76.8,325.4h1.1v1.1h-1.1zM85.2,312.9h1.1v1.1h-1.1zM69.2,314.0h1.1v1.1h-1.1zM59.2,306.5h1.1v1.1h-1.1zM77.3,328.1h1.1v1.1h-1.1zM79.7,324.1h1.1v1.1h-1.1zM67.2,324.9h1.1v1.1h-1.1zM91.2,318.2h1.1v1.1h-1.1zM71.7,326.5h1.1v1.1h-1.1zM63.7,321.1h1.1v1.1h-1.1zM84.9,311.0h1.1v1.1h-1.1zM60.7,320.5h1.1v1.1h-1.1zM81.4,313.8h1.1v1.1h-1.1zM72.1,322.9h1.1v1.1h-1.1zM72.5,317.0h1.1v1.1h-1.1zM75.8,326.5h1.1v1.1h-1.1zM90.3,296.8h1.1v1.1h-1.1zM77.2,326.6h1.1v1.1h-1.1zM74.9,326.7h1.1v1.1h-1.1zM81.5,324.1h1.1v1.1h-1.1zM74.9,326.7h1.1v1.1h-1.1zM61.6,320.4h1.1v1.1h-1.1zM71.3,316.8h1.1v1.1h-1.1zM87.9,303.7h1.1v1.1h-1.1zM77.6,321.8h1.1v1.1h-1.1zM70.5,320.4h1.1v1.1h-1.1zM92.5,309.3h1.1v1.1h-1.1zM77.3,327.3h1.1v1.1h-1.1zM70.8,322.0h1.1v1.1h-1.1zM75.4,325.1h1.1v1.1h-1.1zM62.2,317.5h1.1v1.1h-1.1zM77.9,323.6h1.1v1.1h-1.1zM56.8,319.8h1.1v1.1h-1.1zM75.8,327.1h1.1v1.1h-1.1zM86.6,315.5h1.1v1.1h-1.1zM73.6,325.8h1.1v1.1h-1.1zM68.4,309.6h1.1v1.1h-1.1zM65.9,313.3h1.1v1.1h-1.1zM61.7,307.9h1.1v1.1h-1.1zM60.9,323.8h1.1v1.1h-1.1zM81.3,325.8h1.1v1.1h-1.1zM78.0,325.7h1.1v1.1h-1.1zM69.7,317.9h1.1v1.1h-1.1zM64.4,325.2h1.1v1.1h-1.1zM70.6,319.1h1.1v1.1h-1.1zM63.2,308.6h1.1v1.1h-1.1zM72.9,312.3h1.1v1.1h-1.1zM75.0,327.1h1.1v1.1h-1.1zM78.9,322.3h1.1v1.1h-1.1zM61.9,303.4h1.1v1.1h-1.1zM86.4,323.1h1.1v1.1h-1.1zM85.9,312.2h1.1v1.1h-1.1zM82.1,321.4h1.1v1.1h-1.1zM64.4,312.5h1.1v1.1h-1.1zM66.6,305.4h1.1v1.1h-1.1zM71.3,322.6h1.1v1.1h-1.1zM82.7,311.8h1.1v1.1h-1.1zM90.0,325.7h1.1v1.1h-1.1zM76.9,326.8h1.1v1.1h-1.1zM67.9,319.9h1.1v1.1h-1.1zM90.3,313.1h1.1v1.1h-1.1zM70.7,320.2h1.1v1.1h-1.1zM68.4,326.4h1.1v1.1h-1.1zM67.3,323.0h1.1v1.1h-1.1zM71.3,318.3h1.1v1.1h-1.1zM86.8,323.2h1.1v1.1h-1.1zM88.4,308.0h1.1v1.1h-1.1zM76.2,328.0h1.1v1.1h-1.1zM76.6,327.7h1.1v1.1h-1.1zM78.9,327.2h1.1v1.1h-1.1zM73.2,323.9h1.1v1.1h-1.1zM76.4,327.8h1.1v1.1h-1.1zM63.8,307.1h1.1v1.1h-1.1zM86.8,307.2h1.1v1.1h-1.1zM78.5,325.4h1.1v1.1h-1.1zM71.0,317.9h1.1v1.1h-1.1zM83.4,310.4h1.1v1.1h-1.1zM73.9,321.0h1.1v1.1h-1.1zM66.7,320.8h1.1v1.1h-1.1zM58.8,317.4h1.1v1.1h-1.1zM79.0,320.2h1.1v1.1h-1.1zM65.6,315.5h1.1v1.1h-1.1zM58.6,324.7h1.1v1.1h-1.1zM90.6,318.3h1.1v1.1h-1.1zM91.1,315.3h1.1v1.1h-1.1zM88.7,316.5h1.1v1.1h-1.1zM99.6,309.4h1.1v1.1h-1.1zM77.0,324.5h1.1v1.1h-1.1zM71.9,323.4h1.1v1.1h-1.1zM81.4,320.2h1.1v1.1h-1.1zM67.6,312.8h1.1v1.1h-1.1zM74.3,325.5h1.1v1.1h-1.1zM68.8,318.3h1.1v1.1h-1.1zM85.8,306.8h1.1v1.1h-1.1zM88.1,315.7h1.1v1.1h-1.1zM75.4,325.7h1.1v1.1h-1.1zM73.3,317.0h1.1v1.1h-1.1zM63.3,305.0h1.1v1.1h-1.1zM62.9,305.8h1.1v1.1h-1.1zM85.7,304.1h1.1v1.1h-1.1zM78.6,325.0h1.1v1.1h-1.1zM72.5,313.5h1.1v1.1h-1.1zM74.1,321.7h1.1v1.1h-1.1zM75.3,326.0h1.1v1.1h-1.1zM78.0,320.8h1.1v1.1h-1.1zM67.1,309.6h1.1v1.1h-1.1zM86.2,325.1h1.1v1.1h-1.1zM81.8,316.6h1.1v1.1h-1.1zM75.0,326.6h1.1v1.1h-1.1zM72.0,321.4h1.1v1.1h-1.1zM64.2,300.9h1.1v1.1h-1.1zM59.5,300.0h1.1v1.1h-1.1zM94.1,300.0h1.1v1.1h-1.1zM77.8,323.5h1.1v1.1h-1.1zM82.4,317.4h1.1v1.1h-1.1zM74.5,327.1h1.1v1.1h-1.1zM82.3,325.6h1.1v1.1h-1.1zM77.0,325.5h1.1v1.1h-1.1zM90.6,319.2h1.1v1.1h-1.1zM73.5,324.9h1.1v1.1h-1.1zM83.4,312.2h1.1v1.1h-1.1zM71.7,321.7h1.1v1.1h-1.1zM54.6,310.7h1.1v1.1h-1.1zM72.3,321.4h1.1v1.1h-1.1zM79.9,319.7h1.1v1.1h-1.1zM68.1,315.3h1.1v1.1h-1.1zM73.8,317.3h1.1v1.1h-1.1zM86.3,317.6h1.1v1.1h-1.1zM45.1,315.8h1.1v1.1h-1.1zM75.6,327.3h1.1v1.1h-1.1zM74.4,326.3h1.1v1.1h-1.1zM75.8,327.3h1.1v1.1h-1.1zM72.3,324.9h1.1v1.1h-1.1zM70.7,325.3h1.1v1.1h-1.1zM89.7,315.3h1.1v1.1h-1.1zM86.1,317.9h1.1v1.1h-1.1zM75.4,327.9h1.1v1.1h-1.1zM75.9,327.0h1.1v1.1h-1.1zM90.1,311.0h1.1v1.1h-1.1zM78.4,323.4h1.1v1.1h-1.1zM68.8,323.6h1.1v1.1h-1.1zM82.7,323.5h1.1v1.1h-1.1zM82.3,310.6h1.1v1.1h-1.1zM75.5,328.0h1.1v1.1h-1.1zM74.7,326.2h1.1v1.1h-1.1zM64.0,310.6h1.1v1.1h-1.1zM74.5,321.8h1.1v1.1h-1.1zM70.0,311.7h1.1v1.1h-1.1zM68.7,319.6h1.1v1.1h-1.1zM86.2,313.6h1.1v1.1h-1.1zM78.6,325.0h1.1v1.1h-1.1zM78.3,324.6h1.1v1.1h-1.1zM84.0,307.8h1.1v1.1h-1.1zM90.7,312.1h1.1v1.1h-1.1zM61.8,314.9h1.1v1.1h-1.1zM67.0,324.2h1.1v1.1h-1.1zM73.6,321.5h1.1v1.1h-1.1zM76.7,325.6h1.1v1.1h-1.1zM87.1,316.8h1.1v1.1h-1.1zM82.9,316.5h1.1v1.1h-1.1zM72.1,327.3h1.1v1.1h-1.1zM63.9,324.5h1.1v1.1h-1.1zM74.6,324.6h1.1v1.1h-1.1zM76.2,328.1h1.1v1.1h-1.1zM86.1,318.0h1.1v1.1h-1.1zM75.7,326.0h1.1v1.1h-1.1zM70.3,327.7h1.1v1.1h-1.1zM73.3,324.9h1.1v1.1h-1.1zM75.8,326.5h1.1v1.1h-1.1zM63.7,309.8h1.1v1.1h-1.1zM75.0,325.7h1.1v1.1h-1.1zM70.3,318.6h1.1v1.1h-1.1zM59.6,310.8h1.1v1.1h-1.1zM81.6,323.1h1.1v1.1h-1.1zM53.3,308.6h1.1v1.1h-1.1zM63.9,311.5h1.1v1.1h-1.1zM73.9,321.3h1.1v1.1h-1.1zM85.4,323.2h1.1v1.1h-1.1zM84.9,324.7h1.1v1.1h-1.1zM71.5,313.9h1.1v1.1h-1.1zM74.6,326.9h1.1v1.1h-1.1zM78.1,322.0h1.1v1.1h-1.1zM76.2,328.0h1.1v1.1h-1.1zM84.7,315.1h1.1v1.1h-1.1zM44.2,306.2h1.1v1.1h-1.1zM64.6,327.6h1.1v1.1h-1.1zM69.6,325.3h1.1v1.1h-1.1zM81.3,322.1h1.1v1.1h-1.1zM77.1,326.9h1.1v1.1h-1.1zM84.2,312.3h1.1v1.1h-1.1zM76.3,328.1h1.1v1.1h-1.1zM65.9,310.1h1.1v1.1h-1.1zM65.6,325.4h1.1v1.1h-1.1zM55.7,308.4h1.1v1.1h-1.1zM66.8,316.0h1.1v1.1h-1.1zM96.8,308.8h1.1v1.1h-1.1zM65.7,319.7h1.1v1.1h-1.1zM67.5,308.7h1.1v1.1h-1.1zM75.4,326.2h1.1v1.1h-1.1zM77.8,324.8h1.1v1.1h-1.1zM66.1,309.6h1.1v1.1h-1.1zM75.9,327.6h1.1v1.1h-1.1zM75.5,327.2h1.1v1.1h-1.1zM69.7,309.4h1.1v1.1h-1.1zM65.0,305.5h1.1v1.1h-1.1zM82.2,326.3h1.1v1.1h-1.1zM64.5,316.2h1.1v1.1h-1.1zM80.1,324.4h1.1v1.1h-1.1zM70.1,326.8h1.1v1.1h-1.1zM65.2,320.9h1.1v1.1h-1.1zM82.8,321.0h1.1v1.1h-1.1zM66.7,307.7h1.1v1.1h-1.1zM76.2,328.0h1.1v1.1h-1.1zM81.5,314.2h1.1v1.1h-1.1zM77.1,324.8h1.1v1.1h-1.1zM71.3,313.9h1.1v1.1h-1.1zM80.4,317.6h1.1v1.1h-1.1zM78.0,322.3h1.1v1.1h-1.1zM65.2,311.7h1.1v1.1h-1.1zM63.5,323.9h1.1v1.1h-1.1zM67.9,314.9h1.1v1.1h-1.1zM78.8,320.9h1.1v1.1h-1.1zM75.2,327.6h1.1v1.1h-1.1zM85.9,310.5h1.1v1.1h-1.1zM71.1,322.9h1.1v1.1h-1.1zM78.4,318.6h1.1v1.1h-1.1zM85.6,324.3h1.1v1.1h-1.1zM81.5,325.6h1.1v1.1h-1.1zM72.8,320.9h1.1v1.1h-1.1zM74.5,322.9h1.1v1.1h-1.1zM79.3,324.2h1.1v1.1h-1.1zM62.6,316.7h1.1v1.1h-1.1zM82.8,308.3h1.1v1.1h-1.1zM74.3,327.0h1.1v1.1h-1.1zM79.9,313.1h1.1v1.1h-1.1zM81.7,319.7h1.1v1.1h-1.1zM72.3,327.3h1.1v1.1h-1.1zM67.0,319.0h1.1v1.1h-1.1zM69.7,324.1h1.1v1.1h-1.1zM47.8,302.1h1.1v1.1h-1.1zM58.8,301.1h1.1v1.1h-1.1zM50.4,317.6h1.1v1.1h-1.1zM56.8,307.6h1.1v1.1h-1.1zM70.9,317.0h1.1v1.1h-1.1zM97.9,304.8h1.1v1.1h-1.1zM71.2,321.2h1.1v1.1h-1.1zM97.9,293.3h1.1v1.1h-1.1zM92.1,321.7h1.1v1.1h-1.1zM61.3,318.8h1.1v1.1h-1.1zM73.6,327.9h1.1v1.1h-1.1zM65.4,327.9h1.1v1.1h-1.1zM106.0,326.2h1.1v1.1h-1.1zM45.6,323.7h1.1v1.1h-1.1zM80.9,317.4h1.1v1.1h-1.1zM55.1,296.1h1.1v1.1h-1.1zM71.8,321.9h1.1v1.1h-1.1zM92.1,327.8h1.1v1.1h-1.1zM59.0,303.7h1.1v1.1h-1.1zM28.4,301.3h1.1v1.1h-1.1zM70.0,317.8h1.1v1.1h-1.1zM59.4,323.1h1.1v1.1h-1.1zM60.1,313.2h1.1v1.1h-1.1zM37.7,322.1h1.1v1.1h-1.1zM68.8,316.2h1.1v1.1h-1.1zM73.8,322.4h1.1v1.1h-1.1zM47.8,315.1h1.1v1.1h-1.1zM82.4,325.5h1.1v1.1h-1.1zM40.2,305.9h1.1v1.1h-1.1zM85.9,319.2h1.1v1.1h-1.1zM108.7,291.0h1.1v1.1h-1.1zM62.9,309.9h1.1v1.1h-1.1zM84.7,315.4h1.1v1.1h-1.1zM55.9,318.5h1.1v1.1h-1.1zM82.4,322.1h1.1v1.1h-1.1zM62.3,320.8h1.1v1.1h-1.1zM68.8,315.2h1.1v1.1h-1.1zM54.4,294.1h1.1v1.1h-1.1zM91.2,321.3h1.1v1.1h-1.1zM59.1,315.5h1.1v1.1h-1.1zM46.7,299.3h1.1v1.1h-1.1zM79.2,326.1h1.1v1.1h-1.1zM70.0,318.3h1.1v1.1h-1.1zM120.8,303.5h1.1v1.1h-1.1zM33.6,320.2h1.1v1.1h-1.1zM73.6,325.6h1.1v1.1h-1.1zM84.1,324.6h1.1v1.1h-1.1zM51.7,298.6h1.1v1.1h-1.1zM99.4,301.1h1.1v1.1h-1.1zM66.7,317.1h1.1v1.1h-1.1zM67.3,323.8h1.1v1.1h-1.1zM49.9,299.4h1.1v1.1h-1.1zM45.8,292.7h1.1v1.1h-1.1zM76.4,327.4h1.1v1.1h-1.1zM81.6,317.2h1.1v1.1h-1.1zM44.1,323.8h1.1v1.1h-1.1zM88.8,308.1h1.1v1.1h-1.1zM40.8,307.6h1.1v1.1h-1.1zM80.8,324.8h1.1v1.1h-1.1zM47.1,310.2h1.1v1.1h-1.1zM35.5,324.4h1.1v1.1h-1.1zM83.3,327.3h1.1v1.1h-1.1zM114.2,313.8h1.1v1.1h-1.1zM52.8,291.9h1.1v1.1h-1.1zM39.4,293.9h1.1v1.1h-1.1zM59.8,305.9h1.1v1.1h-1.1zM58.8,306.3h1.1v1.1h-1.1zM93.6,322.1h1.1v1.1h-1.1zM117.4,321.2h1.1v1.1h-1.1zM79.0,320.7h1.1v1.1h-1.1zM75.0,322.8h1.1v1.1h-1.1zM83.3,326.2h1.1v1.1h-1.1zM54.6,303.4h1.1v1.1h-1.1zM49.5,314.1h1.1v1.1h-1.1zM46.3,303.9h1.1v1.1h-1.1zM78.0,323.0h1.1v1.1h-1.1zM60.8,314.4h1.1v1.1h-1.1zM78.2,321.9h1.1v1.1h-1.1zM93.0,306.7h1.1v1.1h-1.1zM40.0,311.9h1.1v1.1h-1.1zM47.4,319.2h1.1v1.1h-1.1zM97.9,295.9h1.1v1.1h-1.1zM62.3,322.3h1.1v1.1h-1.1zM77.7,324.1h1.1v1.1h-1.1zM85.9,320.0h1.1v1.1h-1.1zM70.3,318.7h1.1v1.1h-1.1zM24.2,324.9h1.1v1.1h-1.1zM69.6,321.2h1.1v1.1h-1.1zM81.5,321.5h1.1v1.1h-1.1zM76.3,325.5h1.1v1.1h-1.1zM56.8,301.5h1.1v1.1h-1.1zM68.5,325.0h1.1v1.1h-1.1zM26.0,297.6h1.1v1.1h-1.1zM86.0,325.2h1.1v1.1h-1.1zM96.2,315.7h1.1v1.1h-1.1zM79.8,325.4h1.1v1.1h-1.1zM94.3,310.7h1.1v1.1h-1.1zM73.0,319.0h1.1v1.1h-1.1zM105.3,308.7h1.1v1.1h-1.1zM122.8,325.2h1.1v1.1h-1.1zM65.0,314.9h1.1v1.1h-1.1zM55.5,306.2h1.1v1.1h-1.1zM45.2,293.3h1.1v1.1h-1.1zM55.4,294.8h1.1v1.1h-1.1zM89.8,316.2h1.1v1.1h-1.1zM74.7,322.1h1.1v1.1h-1.1zM101.5,294.5h1.1v1.1h-1.1zM44.5,294.1h1.1v1.1h-1.1zM79.6,319.0h1.1v1.1h-1.1zM63.1,313.2h1.1v1.1h-1.1zM64.8,312.0h1.1v1.1h-1.1zM65.4,316.7h1.1v1.1h-1.1zM43.9,312.6h1.1v1.1h-1.1zM66.6,314.3h1.1v1.1h-1.1zM44.4,306.1h1.1v1.1h-1.1zM77.9,323.9h1.1v1.1h-1.1zM73.0,324.5h1.1v1.1h-1.1zM64.7,311.2h1.1v1.1h-1.1zM86.5,313.4h1.1v1.1h-1.1zM61.4,316.6h1.1v1.1h-1.1zM94.3,308.9h1.1v1.1h-1.1zM53.8,325.6h1.1v1.1h-1.1zM80.3,319.5h1.1v1.1h-1.1zM69.1,320.0h1.1v1.1h-1.1zM77.3,325.2h1.1v1.1h-1.1zM45.2,315.5h1.1v1.1h-1.1zM89.7,309.6h1.1v1.1h-1.1zM91.3,315.7h1.1v1.1h-1.1zM82.5,323.7h1.1v1.1h-1.1zM88.6,310.5h1.1v1.1h-1.1zM53.2,268.9h1.1v1.1h-1.1zM61.6,274.0h1.1v1.1h-1.1zM61.6,280.5h1.1v1.1h-1.1zM51.7,282.8h1.1v1.1h-1.1zM68.0,286.6h1.1v1.1h-1.1zM37.3,290.3h1.1v1.1h-1.1zM30.1,292.6h1.1v1.1h-1.1zM31.6,293.4h1.1v1.1h-1.1zM29.1,302.4h1.1v1.1h-1.1zM55.2,290.3h1.1v1.1h-1.1zM64.7,290.3h1.1v1.1h-1.1zM83.9,290.3h1.1v1.1h-1.1zM93.7,289.8h1.1v1.1h-1.1zM69.5,293.4h1.1v1.1h-1.1zM43.8,301.9h1.1v1.1h-1.1zM146.5,262.6h1.1v1.1h-1.1zM116.4,301.7h1.1v1.1h-1.1zM114.4,306.7h1.1v1.1h-1.1zM103.4,280.3h1.1v1.1h-1.1zM104.4,285.3h1.1v1.1h-1.1zM31.1,319.3h1.1v1.1h-1.1zM30.1,313.0h1.1v1.1h-1.1z" fill="#111"/>
<line x1="26.40" y1="227.90" x2="26.40" y2="328.70" stroke="#666" stroke-width="0.8" />
<line x1="22.80" y1="328.70" x2="26.40" y2="328.70" stroke="#666" stroke-width="0.8" />
<text x="19.00" y="331.40" font-size="7.6" fill="#404040" text-anchor="end" >0</text>
<line x1="22.80" y1="303.50" x2="26.40" y2="303.50" stroke="#666" stroke-width="0.8" />
<text x="19.00" y="306.20" font-size="7.6" fill="#404040" text-anchor="end" >1</text>
<line x1="22.80" y1="278.30" x2="26.40" y2="278.30" stroke="#666" stroke-width="0.8" />
<text x="19.00" y="281.00" font-size="7.6" fill="#404040" text-anchor="end" >2</text>
<line x1="22.80" y1="253.10" x2="26.40" y2="253.10" stroke="#666" stroke-width="0.8" />
<text x="19.00" y="255.80" font-size="7.6" fill="#404040" text-anchor="end" >3</text>
<line x1="22.80" y1="227.90" x2="26.40" y2="227.90" stroke="#666" stroke-width="0.8" />
<text x="19.00" y="230.60" font-size="7.6" fill="#404040" text-anchor="end" >4</text>
<line x1="26.40" y1="328.70" x2="177.50" y2="328.70" stroke="#999" stroke-width="1.0" />
<line x1="26.60" y1="328.70" x2="26.60" y2="331.90" stroke="#666" stroke-width="0.7" />
<line x1="36.64" y1="328.70" x2="36.64" y2="330.70" stroke="#666" stroke-width="0.7" />
<line x1="46.68" y1="328.70" x2="46.68" y2="330.70" stroke="#666" stroke-width="0.7" />
<line x1="56.72" y1="328.70" x2="56.72" y2="330.70" stroke="#666" stroke-width="0.7" />
<line x1="66.76" y1="328.70" x2="66.76" y2="330.70" stroke="#666" stroke-width="0.7" />
<line x1="76.80" y1="328.70" x2="76.80" y2="331.90" stroke="#666" stroke-width="0.7" />
<line x1="86.84" y1="328.70" x2="86.84" y2="330.70" stroke="#666" stroke-width="0.7" />
<line x1="96.88" y1="328.70" x2="96.88" y2="330.70" stroke="#666" stroke-width="0.7" />
<line x1="106.92" y1="328.70" x2="106.92" y2="330.70" stroke="#666" stroke-width="0.7" />
<line x1="116.96" y1="328.70" x2="116.96" y2="330.70" stroke="#666" stroke-width="0.7" />
<line x1="127.00" y1="328.70" x2="127.00" y2="331.90" stroke="#666" stroke-width="0.7" />
<line x1="137.04" y1="328.70" x2="137.04" y2="330.70" stroke="#666" stroke-width="0.7" />
<line x1="147.08" y1="328.70" x2="147.08" y2="330.70" stroke="#666" stroke-width="0.7" />
<line x1="157.12" y1="328.70" x2="157.12" y2="330.70" stroke="#666" stroke-width="0.7" />
<line x1="167.16" y1="328.70" x2="167.16" y2="330.70" stroke="#666" stroke-width="0.7" />
<line x1="177.20" y1="328.70" x2="177.20" y2="331.90" stroke="#666" stroke-width="0.7" />
<text x="25.10" y="342.30" font-size="7.6" fill="#404040" text-anchor="middle" >–5</text>
<text x="76.80" y="342.30" font-size="7.6" fill="#404040" text-anchor="middle" >0</text>
<text x="127.00" y="342.30" font-size="7.6" fill="#404040" text-anchor="middle" >5</text>
<text x="177.20" y="342.30" font-size="7.6" fill="#404040" text-anchor="middle" >10</text>
<text x="102.00" y="353.60" font-size="9.0" fill="#404040" text-anchor="middle" >log<tspan font-size="6" dy="2">2</tspan><tspan dy="-2">(fold change)</tspan></text>
<text x="8.80" y="278.00" font-size="8.8" fill="#404040" text-anchor="middle" transform="rotate(-90 8.8 278)">–log(<tspan font-style="italic">P</tspan> value)</text>
<circle cx="138.50" cy="235.90" r="2.1" fill="#e8303a"/>
<text x="141.90" y="238.30" font-size="6.9" fill="#404040" >Syndecan 4</text>
<circle cx="128.30" cy="247.50" r="2.1" fill="#e8303a"/>
<text x="131.70" y="249.90" font-size="6.9" fill="#404040" >Glypican 1</text>
<circle cx="88.60" cy="254.30" r="2.1" fill="#e8303a"/>
<text x="91.80" y="256.70" font-size="6.9" fill="#404040" >Betaglycan</text>
<circle cx="118.90" cy="264.90" r="2.1" fill="#e8303a"/>
<text x="124.90" y="267.30" font-size="6.9" fill="#404040" >Xylosyltransferase 1</text>
<circle cx="96.60" cy="269.60" r="2.1" fill="#e8303a"/>
<text x="101.40" y="272.80" font-size="6.9" fill="#404040" >APLP2</text>
<circle cx="118.70" cy="277.50" r="2.1" fill="#e8303a"/>
<text x="121.10" y="279.90" font-size="6.9" fill="#404040" >Glypican 4</text>
<circle cx="109.10" cy="290.00" r="2.1" fill="#e8303a"/>
<text x="112.90" y="291.90" font-size="6.9" fill="#404040" >Glypican 6</text>
<circle cx="102.90" cy="294.30" r="2.1" fill="#e8303a"/>
<text x="107.40" y="297.90" font-size="6.9" fill="#404040" >Versican</text>
<text x="196.00" y="213.20" font-size="12" fill="#111" font-weight="bold" stroke="#111" stroke-width="0.5">e</text>
<text x="210.40" y="211.80" font-size="8.5" fill="#404040" textLength="87" lengthAdjust="spacingAndGlyphs"><tspan font-style="italic">BH-XT2</tspan> versus <tspan font-style="italic">WT-XT2</tspan></text>
<text x="286.40" y="221.80" font-size="8.5" fill="#999" >Enriched in BH-XT2</text>
<line x1="276.20" y1="225.40" x2="370.70" y2="225.40" stroke="#888" stroke-width="1.4" />
<polygon points="374.80,225.40 370.20,227.40 370.20,223.40" fill="#888"/>
<path d="M254.6,323.0h1.1v1.1h-1.1zM281.5,317.9h1.1v1.1h-1.1zM272.6,322.8h1.1v1.1h-1.1zM254.6,328.4h1.1v1.1h-1.1zM266.7,319.9h1.1v1.1h-1.1zM275.6,322.9h1.1v1.1h-1.1zM269.3,326.3h1.1v1.1h-1.1zM267.2,325.8h1.1v1.1h-1.1zM272.1,325.6h1.1v1.1h-1.1zM261.3,328.9h1.1v1.1h-1.1zM269.4,326.5h1.1v1.1h-1.1zM281.5,322.1h1.1v1.1h-1.1zM280.6,322.2h1.1v1.1h-1.1zM268.5,326.9h1.1v1.1h-1.1zM272.5,325.2h1.1v1.1h-1.1zM271.2,326.4h1.1v1.1h-1.1zM273.8,318.3h1.1v1.1h-1.1zM261.3,314.3h1.1v1.1h-1.1zM251.7,317.6h1.1v1.1h-1.1zM263.3,325.6h1.1v1.1h-1.1zM277.9,312.8h1.1v1.1h-1.1zM280.4,321.5h1.1v1.1h-1.1zM266.4,326.6h1.1v1.1h-1.1zM263.6,315.5h1.1v1.1h-1.1zM274.3,321.9h1.1v1.1h-1.1zM269.7,329.0h1.1v1.1h-1.1zM264.0,321.9h1.1v1.1h-1.1zM260.3,323.5h1.1v1.1h-1.1zM271.0,328.6h1.1v1.1h-1.1zM266.6,324.1h1.1v1.1h-1.1zM272.1,324.7h1.1v1.1h-1.1zM282.7,319.1h1.1v1.1h-1.1zM269.4,328.8h1.1v1.1h-1.1zM287.6,322.1h1.1v1.1h-1.1zM260.5,318.4h1.1v1.1h-1.1zM262.6,326.7h1.1v1.1h-1.1zM278.9,326.4h1.1v1.1h-1.1zM257.7,308.3h1.1v1.1h-1.1zM265.1,319.0h1.1v1.1h-1.1zM264.8,320.7h1.1v1.1h-1.1zM275.7,321.5h1.1v1.1h-1.1zM285.1,314.3h1.1v1.1h-1.1zM278.3,321.4h1.1v1.1h-1.1zM286.4,320.8h1.1v1.1h-1.1zM263.3,319.1h1.1v1.1h-1.1zM268.9,327.1h1.1v1.1h-1.1zM268.1,323.4h1.1v1.1h-1.1zM268.8,324.3h1.1v1.1h-1.1zM263.5,325.1h1.1v1.1h-1.1zM270.6,328.8h1.1v1.1h-1.1zM277.8,324.2h1.1v1.1h-1.1zM267.4,327.0h1.1v1.1h-1.1zM288.3,317.3h1.1v1.1h-1.1zM281.7,316.6h1.1v1.1h-1.1zM265.0,317.9h1.1v1.1h-1.1zM266.8,319.9h1.1v1.1h-1.1zM264.1,317.2h1.1v1.1h-1.1zM283.2,328.0h1.1v1.1h-1.1zM260.2,321.4h1.1v1.1h-1.1zM252.4,317.1h1.1v1.1h-1.1zM275.5,314.3h1.1v1.1h-1.1zM263.2,320.3h1.1v1.1h-1.1zM276.0,318.6h1.1v1.1h-1.1zM262.8,327.5h1.1v1.1h-1.1zM275.4,322.9h1.1v1.1h-1.1zM275.3,327.2h1.1v1.1h-1.1zM267.2,326.3h1.1v1.1h-1.1zM263.0,312.4h1.1v1.1h-1.1zM278.1,321.7h1.1v1.1h-1.1zM260.5,327.2h1.1v1.1h-1.1zM268.4,324.4h1.1v1.1h-1.1zM281.0,316.1h1.1v1.1h-1.1zM272.6,328.3h1.1v1.1h-1.1zM254.6,327.6h1.1v1.1h-1.1zM269.3,325.3h1.1v1.1h-1.1zM279.8,322.1h1.1v1.1h-1.1zM265.2,317.3h1.1v1.1h-1.1zM266.2,323.0h1.1v1.1h-1.1zM265.6,322.1h1.1v1.1h-1.1zM279.6,318.4h1.1v1.1h-1.1zM279.0,311.0h1.1v1.1h-1.1zM260.2,327.6h1.1v1.1h-1.1zM267.2,327.0h1.1v1.1h-1.1zM254.8,315.6h1.1v1.1h-1.1zM262.9,326.7h1.1v1.1h-1.1zM257.7,322.9h1.1v1.1h-1.1zM268.5,323.0h1.1v1.1h-1.1zM265.8,326.8h1.1v1.1h-1.1zM270.9,327.9h1.1v1.1h-1.1zM271.5,328.9h1.1v1.1h-1.1zM272.1,325.6h1.1v1.1h-1.1zM264.7,319.9h1.1v1.1h-1.1zM247.9,316.4h1.1v1.1h-1.1zM277.7,321.9h1.1v1.1h-1.1zM260.1,318.6h1.1v1.1h-1.1zM265.3,322.3h1.1v1.1h-1.1zM265.3,322.8h1.1v1.1h-1.1zM264.0,327.2h1.1v1.1h-1.1zM280.7,322.8h1.1v1.1h-1.1zM259.3,321.7h1.1v1.1h-1.1zM277.2,323.8h1.1v1.1h-1.1zM280.0,319.6h1.1v1.1h-1.1zM264.5,327.1h1.1v1.1h-1.1zM263.2,326.2h1.1v1.1h-1.1zM259.3,313.1h1.1v1.1h-1.1zM263.2,314.7h1.1v1.1h-1.1zM263.5,312.9h1.1v1.1h-1.1zM274.0,325.3h1.1v1.1h-1.1zM270.4,329.1h1.1v1.1h-1.1zM275.1,324.1h1.1v1.1h-1.1zM275.9,318.3h1.1v1.1h-1.1zM271.4,327.1h1.1v1.1h-1.1zM275.1,322.1h1.1v1.1h-1.1zM253.5,314.4h1.1v1.1h-1.1zM271.3,328.9h1.1v1.1h-1.1zM264.5,321.3h1.1v1.1h-1.1zM274.9,328.5h1.1v1.1h-1.1zM285.5,311.1h1.1v1.1h-1.1zM270.5,329.1h1.1v1.1h-1.1zM267.8,324.9h1.1v1.1h-1.1zM271.8,327.6h1.1v1.1h-1.1zM253.6,326.6h1.1v1.1h-1.1zM280.0,320.8h1.1v1.1h-1.1zM254.8,315.6h1.1v1.1h-1.1zM263.5,329.0h1.1v1.1h-1.1zM257.6,323.7h1.1v1.1h-1.1zM274.6,322.4h1.1v1.1h-1.1zM284.9,327.1h1.1v1.1h-1.1zM262.1,323.6h1.1v1.1h-1.1zM264.0,320.7h1.1v1.1h-1.1zM269.6,328.3h1.1v1.1h-1.1zM261.6,324.9h1.1v1.1h-1.1zM257.0,310.8h1.1v1.1h-1.1zM265.8,327.6h1.1v1.1h-1.1zM265.1,329.1h1.1v1.1h-1.1zM269.1,329.0h1.1v1.1h-1.1zM262.3,313.1h1.1v1.1h-1.1zM272.2,325.1h1.1v1.1h-1.1zM286.2,315.0h1.1v1.1h-1.1zM270.2,327.8h1.1v1.1h-1.1zM270.0,327.5h1.1v1.1h-1.1zM283.2,317.8h1.1v1.1h-1.1zM272.3,323.3h1.1v1.1h-1.1zM282.3,314.6h1.1v1.1h-1.1zM275.6,318.7h1.1v1.1h-1.1zM265.1,323.9h1.1v1.1h-1.1zM265.3,326.6h1.1v1.1h-1.1zM271.2,327.2h1.1v1.1h-1.1zM266.1,325.1h1.1v1.1h-1.1zM277.6,323.0h1.1v1.1h-1.1zM272.7,328.7h1.1v1.1h-1.1zM285.8,326.1h1.1v1.1h-1.1zM271.4,326.4h1.1v1.1h-1.1zM275.8,321.2h1.1v1.1h-1.1zM254.3,328.6h1.1v1.1h-1.1zM254.3,326.0h1.1v1.1h-1.1zM269.6,329.0h1.1v1.1h-1.1zM260.0,312.1h1.1v1.1h-1.1zM284.9,321.1h1.1v1.1h-1.1zM258.5,319.6h1.1v1.1h-1.1zM263.4,317.1h1.1v1.1h-1.1zM278.5,329.1h1.1v1.1h-1.1zM257.8,320.6h1.1v1.1h-1.1zM263.4,320.9h1.1v1.1h-1.1zM249.9,318.5h1.1v1.1h-1.1zM280.7,315.9h1.1v1.1h-1.1zM264.4,318.8h1.1v1.1h-1.1zM273.1,325.2h1.1v1.1h-1.1zM274.3,324.2h1.1v1.1h-1.1zM252.3,325.0h1.1v1.1h-1.1zM262.7,318.8h1.1v1.1h-1.1zM269.6,327.9h1.1v1.1h-1.1zM264.0,321.8h1.1v1.1h-1.1zM264.9,325.8h1.1v1.1h-1.1zM265.5,327.8h1.1v1.1h-1.1zM278.5,324.0h1.1v1.1h-1.1zM271.9,326.8h1.1v1.1h-1.1zM279.3,312.9h1.1v1.1h-1.1zM265.9,318.5h1.1v1.1h-1.1zM258.0,323.4h1.1v1.1h-1.1zM274.9,319.6h1.1v1.1h-1.1zM265.4,326.6h1.1v1.1h-1.1zM271.0,327.3h1.1v1.1h-1.1zM274.3,323.6h1.1v1.1h-1.1zM269.5,327.6h1.1v1.1h-1.1zM258.9,325.3h1.1v1.1h-1.1zM267.9,320.1h1.1v1.1h-1.1zM280.8,326.5h1.1v1.1h-1.1zM281.1,318.9h1.1v1.1h-1.1zM261.6,310.2h1.1v1.1h-1.1zM269.0,327.1h1.1v1.1h-1.1zM268.6,327.7h1.1v1.1h-1.1zM279.4,318.1h1.1v1.1h-1.1zM275.5,324.4h1.1v1.1h-1.1zM282.8,320.5h1.1v1.1h-1.1zM262.6,325.1h1.1v1.1h-1.1zM277.1,320.6h1.1v1.1h-1.1zM257.6,321.8h1.1v1.1h-1.1zM273.7,323.1h1.1v1.1h-1.1zM263.2,311.6h1.1v1.1h-1.1zM267.7,323.5h1.1v1.1h-1.1zM277.4,325.4h1.1v1.1h-1.1zM266.0,320.8h1.1v1.1h-1.1zM270.7,328.7h1.1v1.1h-1.1zM276.3,328.6h1.1v1.1h-1.1zM265.0,322.3h1.1v1.1h-1.1zM265.4,324.4h1.1v1.1h-1.1zM277.8,324.8h1.1v1.1h-1.1zM284.2,326.8h1.1v1.1h-1.1zM268.4,324.6h1.1v1.1h-1.1zM286.0,320.6h1.1v1.1h-1.1zM261.0,313.1h1.1v1.1h-1.1zM270.3,328.6h1.1v1.1h-1.1zM261.8,312.8h1.1v1.1h-1.1zM262.5,316.4h1.1v1.1h-1.1zM264.3,316.3h1.1v1.1h-1.1zM278.0,323.4h1.1v1.1h-1.1zM258.2,317.2h1.1v1.1h-1.1zM268.3,324.1h1.1v1.1h-1.1zM260.2,327.9h1.1v1.1h-1.1zM259.1,326.8h1.1v1.1h-1.1zM281.1,321.4h1.1v1.1h-1.1zM260.0,327.0h1.1v1.1h-1.1zM271.2,326.9h1.1v1.1h-1.1zM280.0,315.1h1.1v1.1h-1.1zM271.6,328.4h1.1v1.1h-1.1zM264.7,318.7h1.1v1.1h-1.1zM268.7,322.7h1.1v1.1h-1.1zM267.3,327.8h1.1v1.1h-1.1zM274.1,320.9h1.1v1.1h-1.1zM272.2,325.6h1.1v1.1h-1.1zM268.0,327.1h1.1v1.1h-1.1zM261.0,319.4h1.1v1.1h-1.1zM273.0,325.4h1.1v1.1h-1.1zM267.0,318.1h1.1v1.1h-1.1zM273.8,322.6h1.1v1.1h-1.1zM270.3,329.0h1.1v1.1h-1.1zM282.9,316.8h1.1v1.1h-1.1zM268.7,326.7h1.1v1.1h-1.1zM276.4,321.8h1.1v1.1h-1.1zM271.0,328.6h1.1v1.1h-1.1zM271.3,326.6h1.1v1.1h-1.1zM268.2,326.5h1.1v1.1h-1.1zM260.4,321.4h1.1v1.1h-1.1zM260.0,326.2h1.1v1.1h-1.1zM272.5,320.5h1.1v1.1h-1.1zM270.4,329.1h1.1v1.1h-1.1zM248.9,317.7h1.1v1.1h-1.1zM273.7,328.1h1.1v1.1h-1.1zM274.9,326.1h1.1v1.1h-1.1zM282.1,324.9h1.1v1.1h-1.1zM247.9,313.6h1.1v1.1h-1.1zM262.7,318.5h1.1v1.1h-1.1zM272.5,328.3h1.1v1.1h-1.1zM277.8,320.8h1.1v1.1h-1.1zM277.7,326.7h1.1v1.1h-1.1zM260.3,322.9h1.1v1.1h-1.1zM271.8,323.3h1.1v1.1h-1.1zM266.0,323.3h1.1v1.1h-1.1zM269.8,328.3h1.1v1.1h-1.1zM260.8,319.6h1.1v1.1h-1.1zM261.7,313.9h1.1v1.1h-1.1zM251.8,309.7h1.1v1.1h-1.1zM273.0,323.7h1.1v1.1h-1.1zM274.3,328.0h1.1v1.1h-1.1zM262.9,314.9h1.1v1.1h-1.1zM268.7,328.4h1.1v1.1h-1.1zM267.4,324.7h1.1v1.1h-1.1zM275.7,327.0h1.1v1.1h-1.1zM277.2,324.3h1.1v1.1h-1.1zM255.7,326.5h1.1v1.1h-1.1zM265.1,315.3h1.1v1.1h-1.1zM279.6,326.8h1.1v1.1h-1.1zM262.3,325.1h1.1v1.1h-1.1zM264.3,322.8h1.1v1.1h-1.1zM282.5,325.7h1.1v1.1h-1.1zM262.5,322.6h1.1v1.1h-1.1zM263.3,324.7h1.1v1.1h-1.1zM274.3,321.7h1.1v1.1h-1.1zM262.1,318.5h1.1v1.1h-1.1zM246.8,310.6h1.1v1.1h-1.1zM269.9,328.0h1.1v1.1h-1.1zM256.4,304.8h1.1v1.1h-1.1zM257.0,314.5h1.1v1.1h-1.1zM272.1,322.9h1.1v1.1h-1.1zM258.7,314.7h1.1v1.1h-1.1zM245.4,321.9h1.1v1.1h-1.1zM264.7,327.0h1.1v1.1h-1.1zM278.5,325.0h1.1v1.1h-1.1zM279.2,316.4h1.1v1.1h-1.1zM286.2,311.8h1.1v1.1h-1.1zM268.9,322.6h1.1v1.1h-1.1zM279.3,324.3h1.1v1.1h-1.1zM268.9,328.6h1.1v1.1h-1.1zM270.1,328.9h1.1v1.1h-1.1zM280.1,319.5h1.1v1.1h-1.1zM284.4,318.8h1.1v1.1h-1.1zM290.6,310.9h1.1v1.1h-1.1zM270.4,329.0h1.1v1.1h-1.1zM286.2,324.7h1.1v1.1h-1.1zM271.5,328.8h1.1v1.1h-1.1zM264.6,316.3h1.1v1.1h-1.1zM264.0,325.4h1.1v1.1h-1.1zM262.4,314.7h1.1v1.1h-1.1zM266.9,326.3h1.1v1.1h-1.1zM263.4,316.3h1.1v1.1h-1.1zM274.7,319.9h1.1v1.1h-1.1zM263.3,320.4h1.1v1.1h-1.1zM249.9,302.8h1.1v1.1h-1.1zM267.3,320.7h1.1v1.1h-1.1zM266.7,320.9h1.1v1.1h-1.1zM264.6,322.9h1.1v1.1h-1.1zM280.0,319.0h1.1v1.1h-1.1zM282.4,321.7h1.1v1.1h-1.1zM262.2,322.7h1.1v1.1h-1.1zM264.7,325.0h1.1v1.1h-1.1zM279.1,324.4h1.1v1.1h-1.1zM275.1,327.4h1.1v1.1h-1.1zM268.4,323.2h1.1v1.1h-1.1zM265.5,319.1h1.1v1.1h-1.1zM261.7,326.9h1.1v1.1h-1.1zM251.2,312.9h1.1v1.1h-1.1zM271.1,327.5h1.1v1.1h-1.1zM279.5,320.7h1.1v1.1h-1.1zM272.6,325.4h1.1v1.1h-1.1zM271.0,328.0h1.1v1.1h-1.1zM252.7,316.2h1.1v1.1h-1.1zM255.9,313.7h1.1v1.1h-1.1zM272.9,318.2h1.1v1.1h-1.1zM268.4,325.7h1.1v1.1h-1.1zM284.6,319.2h1.1v1.1h-1.1zM271.6,327.1h1.1v1.1h-1.1zM267.2,324.5h1.1v1.1h-1.1zM263.1,316.5h1.1v1.1h-1.1zM272.5,327.2h1.1v1.1h-1.1zM274.7,319.2h1.1v1.1h-1.1zM258.7,321.0h1.1v1.1h-1.1zM255.4,320.9h1.1v1.1h-1.1zM266.8,326.5h1.1v1.1h-1.1zM245.3,321.7h1.1v1.1h-1.1zM282.9,324.1h1.1v1.1h-1.1zM273.7,328.8h1.1v1.1h-1.1zM282.2,322.1h1.1v1.1h-1.1zM264.3,324.4h1.1v1.1h-1.1zM269.5,328.0h1.1v1.1h-1.1zM263.1,320.0h1.1v1.1h-1.1zM288.9,326.0h1.1v1.1h-1.1zM266.8,320.6h1.1v1.1h-1.1zM269.1,328.4h1.1v1.1h-1.1zM280.6,310.8h1.1v1.1h-1.1zM278.5,314.8h1.1v1.1h-1.1zM275.9,321.5h1.1v1.1h-1.1zM270.0,327.8h1.1v1.1h-1.1zM262.8,326.7h1.1v1.1h-1.1zM265.5,322.0h1.1v1.1h-1.1zM285.0,318.7h1.1v1.1h-1.1zM268.9,326.5h1.1v1.1h-1.1zM267.3,322.7h1.1v1.1h-1.1zM286.1,314.7h1.1v1.1h-1.1zM266.7,324.9h1.1v1.1h-1.1zM268.3,323.8h1.1v1.1h-1.1zM267.6,325.5h1.1v1.1h-1.1zM254.9,316.4h1.1v1.1h-1.1zM281.8,319.3h1.1v1.1h-1.1zM270.0,327.7h1.1v1.1h-1.1zM263.7,309.1h1.1v1.1h-1.1zM273.2,323.5h1.1v1.1h-1.1zM278.3,310.1h1.1v1.1h-1.1zM252.9,321.5h1.1v1.1h-1.1zM289.0,319.0h1.1v1.1h-1.1zM276.4,317.3h1.1v1.1h-1.1zM278.3,315.7h1.1v1.1h-1.1zM265.6,322.2h1.1v1.1h-1.1zM281.5,321.5h1.1v1.1h-1.1zM284.4,322.5h1.1v1.1h-1.1zM246.2,316.4h1.1v1.1h-1.1zM263.2,322.3h1.1v1.1h-1.1zM265.8,328.2h1.1v1.1h-1.1zM261.5,318.2h1.1v1.1h-1.1zM266.2,323.7h1.1v1.1h-1.1zM260.6,319.4h1.1v1.1h-1.1zM265.8,319.0h1.1v1.1h-1.1zM263.2,319.0h1.1v1.1h-1.1zM249.0,321.5h1.1v1.1h-1.1zM268.5,328.9h1.1v1.1h-1.1zM265.4,324.3h1.1v1.1h-1.1zM260.7,329.1h1.1v1.1h-1.1zM265.5,323.3h1.1v1.1h-1.1zM266.5,324.1h1.1v1.1h-1.1zM251.0,321.1h1.1v1.1h-1.1zM270.5,329.1h1.1v1.1h-1.1zM273.3,319.8h1.1v1.1h-1.1zM258.0,315.3h1.1v1.1h-1.1zM257.7,328.9h1.1v1.1h-1.1zM275.8,327.4h1.1v1.1h-1.1zM253.6,311.6h1.1v1.1h-1.1zM290.5,315.2h1.1v1.1h-1.1zM282.9,322.3h1.1v1.1h-1.1zM281.4,318.9h1.1v1.1h-1.1zM264.4,322.2h1.1v1.1h-1.1zM253.7,313.7h1.1v1.1h-1.1zM258.4,320.8h1.1v1.1h-1.1zM284.3,307.6h1.1v1.1h-1.1zM282.4,312.2h1.1v1.1h-1.1zM255.8,308.0h1.1v1.1h-1.1zM265.3,318.9h1.1v1.1h-1.1zM275.3,320.3h1.1v1.1h-1.1zM272.9,328.8h1.1v1.1h-1.1zM284.1,327.2h1.1v1.1h-1.1zM268.4,323.5h1.1v1.1h-1.1zM281.0,319.0h1.1v1.1h-1.1zM262.6,318.3h1.1v1.1h-1.1zM255.7,313.0h1.1v1.1h-1.1zM261.3,315.1h1.1v1.1h-1.1zM280.4,321.6h1.1v1.1h-1.1zM267.1,318.2h1.1v1.1h-1.1zM261.1,323.9h1.1v1.1h-1.1zM268.1,323.8h1.1v1.1h-1.1zM267.4,319.9h1.1v1.1h-1.1zM267.2,326.4h1.1v1.1h-1.1zM277.0,315.8h1.1v1.1h-1.1zM265.5,315.4h1.1v1.1h-1.1zM271.9,324.5h1.1v1.1h-1.1zM276.8,327.0h1.1v1.1h-1.1zM251.3,321.0h1.1v1.1h-1.1zM276.2,321.4h1.1v1.1h-1.1zM268.5,327.3h1.1v1.1h-1.1zM270.8,328.1h1.1v1.1h-1.1zM273.0,322.0h1.1v1.1h-1.1zM267.8,328.2h1.1v1.1h-1.1zM265.6,321.7h1.1v1.1h-1.1zM267.1,326.7h1.1v1.1h-1.1zM271.9,324.4h1.1v1.1h-1.1zM265.3,322.6h1.1v1.1h-1.1zM268.9,325.5h1.1v1.1h-1.1zM269.6,328.0h1.1v1.1h-1.1zM275.5,319.4h1.1v1.1h-1.1zM268.9,326.1h1.1v1.1h-1.1zM264.0,315.1h1.1v1.1h-1.1zM261.5,326.7h1.1v1.1h-1.1zM264.7,324.3h1.1v1.1h-1.1zM264.6,321.7h1.1v1.1h-1.1zM268.1,327.2h1.1v1.1h-1.1zM274.0,320.8h1.1v1.1h-1.1zM267.9,322.2h1.1v1.1h-1.1zM264.3,322.6h1.1v1.1h-1.1zM247.3,328.2h1.1v1.1h-1.1zM273.9,322.4h1.1v1.1h-1.1zM257.4,312.5h1.1v1.1h-1.1zM283.6,323.4h1.1v1.1h-1.1zM263.5,327.9h1.1v1.1h-1.1zM245.6,326.3h1.1v1.1h-1.1zM281.2,319.6h1.1v1.1h-1.1zM271.6,327.1h1.1v1.1h-1.1zM278.1,320.1h1.1v1.1h-1.1zM251.5,329.1h1.1v1.1h-1.1zM273.0,323.4h1.1v1.1h-1.1zM261.4,315.1h1.1v1.1h-1.1zM248.4,324.8h1.1v1.1h-1.1zM262.7,324.5h1.1v1.1h-1.1zM261.6,315.7h1.1v1.1h-1.1zM268.7,322.2h1.1v1.1h-1.1zM256.6,327.8h1.1v1.1h-1.1zM267.1,326.3h1.1v1.1h-1.1zM271.7,326.3h1.1v1.1h-1.1zM275.9,323.9h1.1v1.1h-1.1zM273.2,326.2h1.1v1.1h-1.1zM262.8,327.2h1.1v1.1h-1.1zM264.9,318.2h1.1v1.1h-1.1zM264.4,322.9h1.1v1.1h-1.1zM260.8,320.9h1.1v1.1h-1.1zM273.8,320.6h1.1v1.1h-1.1zM260.3,326.5h1.1v1.1h-1.1zM288.3,310.6h1.1v1.1h-1.1zM285.9,324.1h1.1v1.1h-1.1zM282.4,315.9h1.1v1.1h-1.1zM266.4,317.6h1.1v1.1h-1.1zM287.8,327.0h1.1v1.1h-1.1zM260.3,319.1h1.1v1.1h-1.1zM261.2,321.9h1.1v1.1h-1.1zM259.8,321.1h1.1v1.1h-1.1zM272.6,325.4h1.1v1.1h-1.1zM277.0,317.4h1.1v1.1h-1.1zM255.8,323.2h1.1v1.1h-1.1zM267.7,324.7h1.1v1.1h-1.1zM266.3,317.1h1.1v1.1h-1.1zM253.2,315.6h1.1v1.1h-1.1zM256.5,324.3h1.1v1.1h-1.1zM280.4,311.7h1.1v1.1h-1.1zM268.5,324.3h1.1v1.1h-1.1zM270.3,328.6h1.1v1.1h-1.1zM264.3,318.8h1.1v1.1h-1.1zM261.6,326.1h1.1v1.1h-1.1zM290.9,317.0h1.1v1.1h-1.1zM271.6,328.9h1.1v1.1h-1.1zM260.4,306.6h1.1v1.1h-1.1zM274.2,325.0h1.1v1.1h-1.1zM269.1,326.3h1.1v1.1h-1.1zM260.2,327.7h1.1v1.1h-1.1zM267.3,319.7h1.1v1.1h-1.1zM279.4,324.8h1.1v1.1h-1.1zM280.8,325.1h1.1v1.1h-1.1zM280.2,316.2h1.1v1.1h-1.1zM260.4,315.3h1.1v1.1h-1.1zM255.3,321.2h1.1v1.1h-1.1zM277.8,314.4h1.1v1.1h-1.1zM266.9,319.2h1.1v1.1h-1.1zM258.7,325.6h1.1v1.1h-1.1zM276.5,316.5h1.1v1.1h-1.1zM274.0,320.6h1.1v1.1h-1.1zM265.9,322.5h1.1v1.1h-1.1zM263.1,312.5h1.1v1.1h-1.1zM262.8,326.2h1.1v1.1h-1.1zM263.5,326.5h1.1v1.1h-1.1zM274.2,324.7h1.1v1.1h-1.1zM277.4,327.9h1.1v1.1h-1.1zM257.2,319.2h1.1v1.1h-1.1zM267.2,323.5h1.1v1.1h-1.1zM259.8,324.4h1.1v1.1h-1.1zM264.6,316.6h1.1v1.1h-1.1zM266.2,328.9h1.1v1.1h-1.1zM258.3,326.1h1.1v1.1h-1.1zM282.0,312.1h1.1v1.1h-1.1zM267.2,327.5h1.1v1.1h-1.1zM263.8,320.6h1.1v1.1h-1.1zM268.8,328.4h1.1v1.1h-1.1zM268.3,325.5h1.1v1.1h-1.1zM267.6,323.8h1.1v1.1h-1.1zM270.3,329.1h1.1v1.1h-1.1zM271.6,327.8h1.1v1.1h-1.1zM272.4,322.7h1.1v1.1h-1.1zM274.4,327.1h1.1v1.1h-1.1zM267.1,325.3h1.1v1.1h-1.1zM264.0,325.0h1.1v1.1h-1.1zM269.5,327.8h1.1v1.1h-1.1zM259.1,326.5h1.1v1.1h-1.1zM275.9,316.6h1.1v1.1h-1.1zM259.6,327.3h1.1v1.1h-1.1zM267.3,329.0h1.1v1.1h-1.1zM269.4,326.4h1.1v1.1h-1.1zM252.0,324.0h1.1v1.1h-1.1zM280.5,320.7h1.1v1.1h-1.1zM275.9,319.4h1.1v1.1h-1.1zM269.2,324.5h1.1v1.1h-1.1zM255.9,321.0h1.1v1.1h-1.1zM264.1,323.3h1.1v1.1h-1.1zM261.1,322.0h1.1v1.1h-1.1zM272.6,321.5h1.1v1.1h-1.1zM258.6,319.9h1.1v1.1h-1.1zM270.6,328.7h1.1v1.1h-1.1zM262.7,324.6h1.1v1.1h-1.1zM269.4,327.6h1.1v1.1h-1.1zM268.8,322.7h1.1v1.1h-1.1zM265.6,321.3h1.1v1.1h-1.1zM279.9,323.0h1.1v1.1h-1.1zM266.1,319.3h1.1v1.1h-1.1zM276.4,325.8h1.1v1.1h-1.1zM264.7,319.1h1.1v1.1h-1.1zM258.0,311.4h1.1v1.1h-1.1zM268.7,324.1h1.1v1.1h-1.1zM277.5,327.7h1.1v1.1h-1.1zM246.5,326.7h1.1v1.1h-1.1zM271.1,328.1h1.1v1.1h-1.1zM259.4,317.1h1.1v1.1h-1.1zM269.5,326.4h1.1v1.1h-1.1zM274.4,322.8h1.1v1.1h-1.1zM258.4,318.4h1.1v1.1h-1.1zM278.1,317.1h1.1v1.1h-1.1zM270.3,328.7h1.1v1.1h-1.1zM252.5,316.4h1.1v1.1h-1.1zM262.3,327.2h1.1v1.1h-1.1zM268.1,325.2h1.1v1.1h-1.1zM279.2,325.0h1.1v1.1h-1.1zM256.1,315.7h1.1v1.1h-1.1zM262.0,321.3h1.1v1.1h-1.1zM275.6,321.3h1.1v1.1h-1.1zM277.2,326.4h1.1v1.1h-1.1zM269.4,328.2h1.1v1.1h-1.1zM270.9,328.6h1.1v1.1h-1.1zM264.8,319.5h1.1v1.1h-1.1zM266.4,328.0h1.1v1.1h-1.1zM271.3,325.6h1.1v1.1h-1.1zM265.0,324.1h1.1v1.1h-1.1zM278.2,323.9h1.1v1.1h-1.1zM258.4,312.3h1.1v1.1h-1.1zM278.7,322.2h1.1v1.1h-1.1zM258.2,324.0h1.1v1.1h-1.1zM258.2,318.7h1.1v1.1h-1.1zM273.8,326.5h1.1v1.1h-1.1zM282.0,315.9h1.1v1.1h-1.1zM261.3,319.8h1.1v1.1h-1.1zM269.2,328.7h1.1v1.1h-1.1zM276.5,329.1h1.1v1.1h-1.1zM272.1,326.0h1.1v1.1h-1.1zM273.7,326.1h1.1v1.1h-1.1zM283.2,322.9h1.1v1.1h-1.1zM270.1,328.9h1.1v1.1h-1.1zM262.9,322.8h1.1v1.1h-1.1zM256.4,322.0h1.1v1.1h-1.1zM268.5,328.7h1.1v1.1h-1.1zM253.0,321.1h1.1v1.1h-1.1zM266.8,320.1h1.1v1.1h-1.1zM262.2,322.8h1.1v1.1h-1.1zM259.1,316.5h1.1v1.1h-1.1zM284.3,312.1h1.1v1.1h-1.1zM271.9,328.1h1.1v1.1h-1.1zM276.7,328.0h1.1v1.1h-1.1zM278.9,312.1h1.1v1.1h-1.1zM261.6,315.7h1.1v1.1h-1.1zM263.0,326.5h1.1v1.1h-1.1zM255.8,323.1h1.1v1.1h-1.1zM262.9,317.0h1.1v1.1h-1.1zM265.6,325.0h1.1v1.1h-1.1zM266.7,326.7h1.1v1.1h-1.1zM282.0,324.0h1.1v1.1h-1.1zM276.6,320.8h1.1v1.1h-1.1zM266.6,320.7h1.1v1.1h-1.1zM260.5,323.6h1.1v1.1h-1.1zM257.6,311.7h1.1v1.1h-1.1zM261.2,326.8h1.1v1.1h-1.1zM277.5,328.8h1.1v1.1h-1.1zM268.8,327.7h1.1v1.1h-1.1zM267.0,321.7h1.1v1.1h-1.1zM267.8,320.1h1.1v1.1h-1.1zM269.8,329.0h1.1v1.1h-1.1zM267.5,325.7h1.1v1.1h-1.1zM270.4,329.1h1.1v1.1h-1.1zM261.4,316.6h1.1v1.1h-1.1zM263.4,315.1h1.1v1.1h-1.1zM275.0,323.1h1.1v1.1h-1.1zM256.7,311.3h1.1v1.1h-1.1zM281.7,317.1h1.1v1.1h-1.1zM269.8,327.5h1.1v1.1h-1.1zM267.9,321.3h1.1v1.1h-1.1zM262.8,320.1h1.1v1.1h-1.1zM272.0,325.3h1.1v1.1h-1.1zM275.7,324.6h1.1v1.1h-1.1zM258.4,317.4h1.1v1.1h-1.1zM264.0,317.9h1.1v1.1h-1.1zM269.6,327.8h1.1v1.1h-1.1zM277.3,315.0h1.1v1.1h-1.1zM269.7,328.1h1.1v1.1h-1.1zM265.9,324.9h1.1v1.1h-1.1zM281.1,320.3h1.1v1.1h-1.1zM275.3,324.4h1.1v1.1h-1.1zM274.2,323.4h1.1v1.1h-1.1zM277.2,323.5h1.1v1.1h-1.1zM273.2,328.9h1.1v1.1h-1.1zM256.9,311.1h1.1v1.1h-1.1zM269.3,322.8h1.1v1.1h-1.1zM265.7,324.6h1.1v1.1h-1.1zM279.7,319.9h1.1v1.1h-1.1zM271.3,327.9h1.1v1.1h-1.1zM250.2,320.2h1.1v1.1h-1.1zM267.0,317.9h1.1v1.1h-1.1zM272.8,323.9h1.1v1.1h-1.1zM269.8,326.6h1.1v1.1h-1.1zM266.3,326.3h1.1v1.1h-1.1zM269.7,326.2h1.1v1.1h-1.1zM268.5,325.5h1.1v1.1h-1.1zM268.8,324.4h1.1v1.1h-1.1zM267.5,320.5h1.1v1.1h-1.1zM267.5,321.3h1.1v1.1h-1.1zM265.9,322.6h1.1v1.1h-1.1zM268.6,325.3h1.1v1.1h-1.1zM275.9,328.8h1.1v1.1h-1.1zM251.9,317.9h1.1v1.1h-1.1zM278.1,324.3h1.1v1.1h-1.1zM247.5,308.8h1.1v1.1h-1.1zM279.2,324.5h1.1v1.1h-1.1zM270.3,328.6h1.1v1.1h-1.1zM271.9,324.6h1.1v1.1h-1.1zM279.9,315.1h1.1v1.1h-1.1zM248.9,319.1h1.1v1.1h-1.1zM277.3,323.5h1.1v1.1h-1.1zM266.9,318.4h1.1v1.1h-1.1zM261.6,313.9h1.1v1.1h-1.1zM265.4,319.8h1.1v1.1h-1.1zM269.9,329.1h1.1v1.1h-1.1zM274.1,325.6h1.1v1.1h-1.1zM265.2,327.8h1.1v1.1h-1.1zM240.7,323.9h1.1v1.1h-1.1zM275.3,316.3h1.1v1.1h-1.1zM265.6,319.3h1.1v1.1h-1.1zM267.8,320.2h1.1v1.1h-1.1zM259.7,316.0h1.1v1.1h-1.1zM274.6,318.6h1.1v1.1h-1.1zM275.6,326.3h1.1v1.1h-1.1zM275.2,321.8h1.1v1.1h-1.1zM267.0,321.6h1.1v1.1h-1.1zM265.2,319.0h1.1v1.1h-1.1zM267.1,328.9h1.1v1.1h-1.1zM268.0,323.2h1.1v1.1h-1.1zM269.5,326.5h1.1v1.1h-1.1zM267.6,327.0h1.1v1.1h-1.1zM258.9,317.1h1.1v1.1h-1.1zM265.6,323.2h1.1v1.1h-1.1zM260.8,328.4h1.1v1.1h-1.1zM270.4,328.8h1.1v1.1h-1.1zM270.0,328.8h1.1v1.1h-1.1zM267.8,320.1h1.1v1.1h-1.1zM272.7,325.3h1.1v1.1h-1.1zM252.0,322.6h1.1v1.1h-1.1zM260.6,323.2h1.1v1.1h-1.1zM256.9,315.7h1.1v1.1h-1.1zM266.4,326.2h1.1v1.1h-1.1zM256.3,322.5h1.1v1.1h-1.1zM269.9,328.5h1.1v1.1h-1.1zM284.9,308.2h1.1v1.1h-1.1zM270.8,328.4h1.1v1.1h-1.1zM271.4,325.7h1.1v1.1h-1.1zM272.3,328.1h1.1v1.1h-1.1zM260.4,324.2h1.1v1.1h-1.1zM269.2,326.6h1.1v1.1h-1.1zM274.9,324.5h1.1v1.1h-1.1zM268.5,322.3h1.1v1.1h-1.1zM249.7,316.9h1.1v1.1h-1.1zM261.9,324.6h1.1v1.1h-1.1zM270.9,328.7h1.1v1.1h-1.1zM276.9,313.8h1.1v1.1h-1.1zM266.4,321.1h1.1v1.1h-1.1zM277.8,321.7h1.1v1.1h-1.1zM280.7,315.9h1.1v1.1h-1.1zM276.0,314.5h1.1v1.1h-1.1zM273.0,326.7h1.1v1.1h-1.1zM266.5,324.0h1.1v1.1h-1.1zM272.5,324.3h1.1v1.1h-1.1zM271.8,324.7h1.1v1.1h-1.1zM287.3,321.8h1.1v1.1h-1.1zM260.5,323.0h1.1v1.1h-1.1zM268.7,328.0h1.1v1.1h-1.1zM249.4,322.1h1.1v1.1h-1.1zM262.2,322.1h1.1v1.1h-1.1zM278.7,312.3h1.1v1.1h-1.1zM260.2,328.7h1.1v1.1h-1.1zM261.8,323.2h1.1v1.1h-1.1zM272.3,327.7h1.1v1.1h-1.1zM260.8,321.9h1.1v1.1h-1.1zM276.9,328.2h1.1v1.1h-1.1zM285.7,316.2h1.1v1.1h-1.1zM263.9,326.0h1.1v1.1h-1.1zM278.5,319.0h1.1v1.1h-1.1zM260.4,317.8h1.1v1.1h-1.1zM265.1,313.4h1.1v1.1h-1.1zM274.2,316.7h1.1v1.1h-1.1zM270.4,328.9h1.1v1.1h-1.1zM269.2,326.2h1.1v1.1h-1.1zM256.8,310.8h1.1v1.1h-1.1zM270.4,329.1h1.1v1.1h-1.1zM258.2,310.3h1.1v1.1h-1.1zM265.5,323.2h1.1v1.1h-1.1zM285.0,322.9h1.1v1.1h-1.1zM269.7,326.9h1.1v1.1h-1.1zM262.3,320.5h1.1v1.1h-1.1zM280.6,329.1h1.1v1.1h-1.1zM275.4,325.3h1.1v1.1h-1.1zM270.3,328.3h1.1v1.1h-1.1zM270.8,328.2h1.1v1.1h-1.1zM258.4,322.8h1.1v1.1h-1.1zM265.0,318.9h1.1v1.1h-1.1zM268.5,325.7h1.1v1.1h-1.1zM260.5,319.2h1.1v1.1h-1.1zM268.5,327.9h1.1v1.1h-1.1zM273.8,326.6h1.1v1.1h-1.1zM245.6,312.0h1.1v1.1h-1.1zM264.8,325.8h1.1v1.1h-1.1zM270.0,328.4h1.1v1.1h-1.1zM277.9,324.3h1.1v1.1h-1.1zM259.5,308.4h1.1v1.1h-1.1zM277.0,321.0h1.1v1.1h-1.1zM281.5,319.9h1.1v1.1h-1.1zM266.7,323.4h1.1v1.1h-1.1zM266.9,329.0h1.1v1.1h-1.1zM267.5,320.8h1.1v1.1h-1.1zM265.4,326.8h1.1v1.1h-1.1zM271.1,327.7h1.1v1.1h-1.1zM263.9,313.9h1.1v1.1h-1.1zM272.6,324.8h1.1v1.1h-1.1zM282.4,312.5h1.1v1.1h-1.1zM264.0,324.2h1.1v1.1h-1.1zM285.2,317.1h1.1v1.1h-1.1zM275.5,319.8h1.1v1.1h-1.1zM271.0,327.9h1.1v1.1h-1.1zM259.3,321.8h1.1v1.1h-1.1zM281.8,313.8h1.1v1.1h-1.1zM263.1,320.9h1.1v1.1h-1.1zM260.9,325.4h1.1v1.1h-1.1zM280.4,322.6h1.1v1.1h-1.1zM265.2,321.5h1.1v1.1h-1.1zM279.8,308.3h1.1v1.1h-1.1zM265.6,320.9h1.1v1.1h-1.1zM274.5,322.0h1.1v1.1h-1.1zM280.7,315.2h1.1v1.1h-1.1zM274.0,321.9h1.1v1.1h-1.1zM280.2,327.9h1.1v1.1h-1.1zM262.4,325.2h1.1v1.1h-1.1zM264.9,324.0h1.1v1.1h-1.1zM257.4,319.6h1.1v1.1h-1.1zM260.7,327.4h1.1v1.1h-1.1zM273.7,328.2h1.1v1.1h-1.1zM267.0,323.2h1.1v1.1h-1.1zM275.3,315.2h1.1v1.1h-1.1zM276.9,326.8h1.1v1.1h-1.1zM266.6,327.0h1.1v1.1h-1.1zM269.8,327.5h1.1v1.1h-1.1zM266.7,323.1h1.1v1.1h-1.1zM272.3,325.4h1.1v1.1h-1.1zM255.1,317.8h1.1v1.1h-1.1zM274.6,325.4h1.1v1.1h-1.1zM269.8,328.3h1.1v1.1h-1.1zM277.4,323.9h1.1v1.1h-1.1zM269.4,326.9h1.1v1.1h-1.1zM270.9,328.2h1.1v1.1h-1.1zM257.6,320.9h1.1v1.1h-1.1zM259.4,315.1h1.1v1.1h-1.1zM257.2,316.2h1.1v1.1h-1.1zM273.4,317.7h1.1v1.1h-1.1zM263.9,322.4h1.1v1.1h-1.1zM258.5,310.3h1.1v1.1h-1.1zM271.4,327.6h1.1v1.1h-1.1zM273.8,317.8h1.1v1.1h-1.1zM265.5,318.7h1.1v1.1h-1.1zM271.4,326.6h1.1v1.1h-1.1zM263.0,313.7h1.1v1.1h-1.1zM266.5,326.1h1.1v1.1h-1.1zM276.5,323.9h1.1v1.1h-1.1zM280.2,323.2h1.1v1.1h-1.1zM263.3,319.7h1.1v1.1h-1.1zM266.6,325.3h1.1v1.1h-1.1zM267.1,326.8h1.1v1.1h-1.1zM274.6,328.3h1.1v1.1h-1.1zM275.6,326.9h1.1v1.1h-1.1zM260.8,319.4h1.1v1.1h-1.1zM282.2,323.3h1.1v1.1h-1.1zM248.9,308.0h1.1v1.1h-1.1zM274.3,327.2h1.1v1.1h-1.1zM264.0,328.2h1.1v1.1h-1.1zM286.4,311.7h1.1v1.1h-1.1zM281.7,317.2h1.1v1.1h-1.1zM272.3,327.8h1.1v1.1h-1.1zM261.7,318.7h1.1v1.1h-1.1zM270.0,328.1h1.1v1.1h-1.1zM273.0,324.1h1.1v1.1h-1.1zM267.2,319.8h1.1v1.1h-1.1zM278.5,325.4h1.1v1.1h-1.1zM259.6,319.3h1.1v1.1h-1.1zM281.8,325.0h1.1v1.1h-1.1zM255.9,315.7h1.1v1.1h-1.1zM272.8,321.4h1.1v1.1h-1.1zM273.7,318.0h1.1v1.1h-1.1zM261.9,322.2h1.1v1.1h-1.1zM288.1,328.2h1.1v1.1h-1.1zM281.0,322.8h1.1v1.1h-1.1zM272.5,328.0h1.1v1.1h-1.1zM275.1,321.8h1.1v1.1h-1.1zM262.2,323.0h1.1v1.1h-1.1zM279.6,322.4h1.1v1.1h-1.1zM274.3,320.6h1.1v1.1h-1.1zM271.7,328.5h1.1v1.1h-1.1zM270.8,328.9h1.1v1.1h-1.1zM274.5,326.8h1.1v1.1h-1.1zM265.0,318.2h1.1v1.1h-1.1zM267.6,320.1h1.1v1.1h-1.1zM263.9,318.7h1.1v1.1h-1.1zM267.6,325.2h1.1v1.1h-1.1zM284.0,316.7h1.1v1.1h-1.1zM279.5,322.9h1.1v1.1h-1.1zM273.4,326.7h1.1v1.1h-1.1zM255.5,314.0h1.1v1.1h-1.1zM260.7,319.0h1.1v1.1h-1.1zM268.1,321.7h1.1v1.1h-1.1zM266.1,319.5h1.1v1.1h-1.1zM263.0,324.5h1.1v1.1h-1.1zM262.9,313.8h1.1v1.1h-1.1zM270.1,328.7h1.1v1.1h-1.1zM264.2,310.2h1.1v1.1h-1.1zM265.6,326.2h1.1v1.1h-1.1zM274.8,324.7h1.1v1.1h-1.1zM261.6,321.8h1.1v1.1h-1.1zM259.6,319.2h1.1v1.1h-1.1zM258.1,313.6h1.1v1.1h-1.1zM265.3,322.4h1.1v1.1h-1.1zM261.5,311.6h1.1v1.1h-1.1zM273.3,328.0h1.1v1.1h-1.1zM261.1,325.7h1.1v1.1h-1.1zM258.0,310.9h1.1v1.1h-1.1zM259.6,321.4h1.1v1.1h-1.1zM291.0,322.8h1.1v1.1h-1.1zM262.3,319.7h1.1v1.1h-1.1zM259.3,316.5h1.1v1.1h-1.1zM271.7,329.0h1.1v1.1h-1.1zM268.5,325.6h1.1v1.1h-1.1zM271.1,327.6h1.1v1.1h-1.1zM273.3,327.8h1.1v1.1h-1.1zM262.3,325.9h1.1v1.1h-1.1zM269.0,326.6h1.1v1.1h-1.1zM259.2,323.0h1.1v1.1h-1.1zM270.8,328.5h1.1v1.1h-1.1zM277.7,319.3h1.1v1.1h-1.1zM281.8,325.3h1.1v1.1h-1.1zM256.5,305.9h1.1v1.1h-1.1zM273.5,327.6h1.1v1.1h-1.1zM285.5,329.1h1.1v1.1h-1.1zM266.3,319.4h1.1v1.1h-1.1zM254.8,304.6h1.1v1.1h-1.1zM260.2,319.2h1.1v1.1h-1.1zM284.5,301.5h1.1v1.1h-1.1zM268.6,323.8h1.1v1.1h-1.1zM261.2,307.2h1.1v1.1h-1.1zM252.7,306.3h1.1v1.1h-1.1zM271.6,326.7h1.1v1.1h-1.1zM287.6,299.3h1.1v1.1h-1.1zM271.8,320.5h1.1v1.1h-1.1zM255.8,319.6h1.1v1.1h-1.1zM269.6,322.3h1.1v1.1h-1.1zM257.4,304.8h1.1v1.1h-1.1zM266.8,325.9h1.1v1.1h-1.1zM287.0,301.0h1.1v1.1h-1.1zM283.4,306.3h1.1v1.1h-1.1zM273.0,320.1h1.1v1.1h-1.1zM301.2,309.5h1.1v1.1h-1.1zM268.4,321.2h1.1v1.1h-1.1zM257.7,307.7h1.1v1.1h-1.1zM273.9,325.6h1.1v1.1h-1.1zM250.6,290.2h1.1v1.1h-1.1zM243.5,295.9h1.1v1.1h-1.1zM299.3,314.9h1.1v1.1h-1.1zM265.6,329.0h1.1v1.1h-1.1zM262.1,311.3h1.1v1.1h-1.1zM273.2,327.1h1.1v1.1h-1.1zM274.7,322.1h1.1v1.1h-1.1zM277.8,321.0h1.1v1.1h-1.1zM256.7,305.8h1.1v1.1h-1.1zM261.1,313.8h1.1v1.1h-1.1zM280.5,323.5h1.1v1.1h-1.1zM273.6,320.6h1.1v1.1h-1.1zM254.5,321.4h1.1v1.1h-1.1zM271.4,325.9h1.1v1.1h-1.1zM250.2,297.0h1.1v1.1h-1.1zM280.7,321.8h1.1v1.1h-1.1zM288.4,327.6h1.1v1.1h-1.1zM297.4,310.2h1.1v1.1h-1.1zM247.9,308.1h1.1v1.1h-1.1zM262.0,311.1h1.1v1.1h-1.1zM252.2,323.2h1.1v1.1h-1.1zM278.7,312.7h1.1v1.1h-1.1zM248.3,316.5h1.1v1.1h-1.1zM236.5,297.7h1.1v1.1h-1.1zM277.0,313.1h1.1v1.1h-1.1zM267.0,318.3h1.1v1.1h-1.1zM260.6,315.4h1.1v1.1h-1.1zM251.8,293.7h1.1v1.1h-1.1zM230.2,290.2h1.1v1.1h-1.1zM289.2,303.2h1.1v1.1h-1.1zM271.8,324.6h1.1v1.1h-1.1zM302.7,291.9h1.1v1.1h-1.1zM275.8,315.3h1.1v1.1h-1.1zM254.5,299.5h1.1v1.1h-1.1zM257.0,303.4h1.1v1.1h-1.1zM264.9,318.9h1.1v1.1h-1.1zM261.8,316.8h1.1v1.1h-1.1zM283.3,323.2h1.1v1.1h-1.1zM280.7,321.0h1.1v1.1h-1.1zM252.9,304.6h1.1v1.1h-1.1zM258.3,302.8h1.1v1.1h-1.1zM260.5,318.7h1.1v1.1h-1.1zM268.5,322.3h1.1v1.1h-1.1zM267.1,324.9h1.1v1.1h-1.1zM261.2,316.2h1.1v1.1h-1.1zM288.5,293.7h1.1v1.1h-1.1zM301.6,288.9h1.1v1.1h-1.1zM274.3,317.8h1.1v1.1h-1.1zM267.7,321.1h1.1v1.1h-1.1zM261.5,317.9h1.1v1.1h-1.1zM249.7,307.0h1.1v1.1h-1.1zM275.6,317.7h1.1v1.1h-1.1zM253.5,294.7h1.1v1.1h-1.1zM257.9,304.0h1.1v1.1h-1.1zM275.0,316.5h1.1v1.1h-1.1zM283.9,321.2h1.1v1.1h-1.1zM313.1,286.3h1.1v1.1h-1.1zM276.2,318.1h1.1v1.1h-1.1zM257.6,301.4h1.1v1.1h-1.1zM285.1,311.7h1.1v1.1h-1.1zM274.6,326.8h1.1v1.1h-1.1zM269.9,327.2h1.1v1.1h-1.1zM259.0,319.9h1.1v1.1h-1.1zM280.9,305.4h1.1v1.1h-1.1zM284.8,318.3h1.1v1.1h-1.1zM243.8,320.0h1.1v1.1h-1.1zM266.6,316.9h1.1v1.1h-1.1zM272.2,321.8h1.1v1.1h-1.1zM276.8,321.0h1.1v1.1h-1.1zM260.0,317.4h1.1v1.1h-1.1zM279.8,308.6h1.1v1.1h-1.1zM263.4,324.1h1.1v1.1h-1.1zM277.1,323.3h1.1v1.1h-1.1zM259.2,305.4h1.1v1.1h-1.1zM278.7,328.8h1.1v1.1h-1.1zM259.9,314.2h1.1v1.1h-1.1zM268.6,326.8h1.1v1.1h-1.1zM279.5,323.3h1.1v1.1h-1.1zM257.9,316.5h1.1v1.1h-1.1zM275.7,314.6h1.1v1.1h-1.1zM279.8,310.9h1.1v1.1h-1.1zM247.9,285.9h1.1v1.1h-1.1zM269.0,323.0h1.1v1.1h-1.1zM271.6,322.5h1.1v1.1h-1.1zM276.7,327.3h1.1v1.1h-1.1zM256.1,298.7h1.1v1.1h-1.1zM269.9,322.2h1.1v1.1h-1.1zM277.3,316.5h1.1v1.1h-1.1zM272.2,320.6h1.1v1.1h-1.1zM277.2,319.7h1.1v1.1h-1.1zM271.2,321.9h1.1v1.1h-1.1zM288.1,297.1h1.1v1.1h-1.1zM277.8,323.8h1.1v1.1h-1.1zM275.1,324.2h1.1v1.1h-1.1zM278.1,321.0h1.1v1.1h-1.1zM258.4,303.4h1.1v1.1h-1.1zM268.8,329.0h1.1v1.1h-1.1zM276.8,323.0h1.1v1.1h-1.1zM289.1,304.2h1.1v1.1h-1.1zM263.5,319.5h1.1v1.1h-1.1zM246.4,289.2h1.1v1.1h-1.1zM264.8,327.1h1.1v1.1h-1.1zM269.4,326.6h1.1v1.1h-1.1zM276.9,322.8h1.1v1.1h-1.1zM234.2,314.6h1.1v1.1h-1.1zM277.3,317.2h1.1v1.1h-1.1zM263.6,315.0h1.1v1.1h-1.1zM265.9,325.2h1.1v1.1h-1.1zM262.7,314.8h1.1v1.1h-1.1zM248.0,293.2h1.1v1.1h-1.1zM226.4,295.2h1.1v1.1h-1.1zM250.0,302.5h1.1v1.1h-1.1zM259.9,310.0h1.1v1.1h-1.1zM251.9,311.7h1.1v1.1h-1.1zM287.2,321.3h1.1v1.1h-1.1zM276.5,323.6h1.1v1.1h-1.1zM236.0,317.2h1.1v1.1h-1.1zM289.3,324.9h1.1v1.1h-1.1zM258.7,319.0h1.1v1.1h-1.1zM265.6,321.8h1.1v1.1h-1.1zM265.2,315.1h1.1v1.1h-1.1zM263.0,311.7h1.1v1.1h-1.1zM246.2,314.1h1.1v1.1h-1.1zM274.0,322.3h1.1v1.1h-1.1zM279.0,325.0h1.1v1.1h-1.1zM256.6,302.7h1.1v1.1h-1.1zM298.0,299.8h1.1v1.1h-1.1zM280.9,315.5h1.1v1.1h-1.1zM281.4,323.3h1.1v1.1h-1.1zM297.9,298.6h1.1v1.1h-1.1zM279.3,313.1h1.1v1.1h-1.1zM283.7,316.1h1.1v1.1h-1.1zM248.3,305.6h1.1v1.1h-1.1zM299.4,287.0h1.1v1.1h-1.1zM287.3,297.8h1.1v1.1h-1.1zM266.3,319.6h1.1v1.1h-1.1zM250.5,308.0h1.1v1.1h-1.1zM257.0,324.5h1.1v1.1h-1.1zM266.2,318.5h1.1v1.1h-1.1zM260.2,318.1h1.1v1.1h-1.1zM253.8,306.9h1.1v1.1h-1.1zM266.6,325.4h1.1v1.1h-1.1zM284.1,311.6h1.1v1.1h-1.1zM286.1,319.2h1.1v1.1h-1.1zM254.0,297.3h1.1v1.1h-1.1zM279.5,322.2h1.1v1.1h-1.1zM269.0,322.9h1.1v1.1h-1.1zM265.7,320.5h1.1v1.1h-1.1zM296.6,309.5h1.1v1.1h-1.1zM249.1,290.8h1.1v1.1h-1.1zM277.1,318.5h1.1v1.1h-1.1zM245.5,324.6h1.1v1.1h-1.1zM265.2,316.7h1.1v1.1h-1.1zM277.4,313.7h1.1v1.1h-1.1zM289.7,313.2h1.1v1.1h-1.1zM291.9,294.5h1.1v1.1h-1.1zM250.1,307.1h1.1v1.1h-1.1zM290.0,317.4h1.1v1.1h-1.1zM288.6,308.0h1.1v1.1h-1.1zM279.5,313.7h1.1v1.1h-1.1zM272.1,321.3h1.1v1.1h-1.1zM271.2,321.3h1.1v1.1h-1.1zM267.1,320.4h1.1v1.1h-1.1zM265.5,323.1h1.1v1.1h-1.1zM261.5,327.0h1.1v1.1h-1.1zM275.9,325.1h1.1v1.1h-1.1zM272.9,322.9h1.1v1.1h-1.1zM278.9,308.2h1.1v1.1h-1.1zM255.5,315.9h1.1v1.1h-1.1zM268.3,319.5h1.1v1.1h-1.1zM250.5,310.7h1.1v1.1h-1.1zM302.5,293.2h1.1v1.1h-1.1zM272.6,321.8h1.1v1.1h-1.1zM267.5,321.8h1.1v1.1h-1.1zM290.3,313.4h1.1v1.1h-1.1zM271.5,322.1h1.1v1.1h-1.1zM283.3,306.8h1.1v1.1h-1.1zM265.4,314.1h1.1v1.1h-1.1zM254.1,302.2h1.1v1.1h-1.1zM278.8,310.2h1.1v1.1h-1.1zM245.1,295.0h1.1v1.1h-1.1zM268.0,325.3h1.1v1.1h-1.1zM261.0,319.5h1.1v1.1h-1.1zM267.8,318.4h1.1v1.1h-1.1zM271.6,321.5h1.1v1.1h-1.1zM268.2,327.5h1.1v1.1h-1.1zM271.4,322.7h1.1v1.1h-1.1zM264.0,317.8h1.1v1.1h-1.1zM263.6,319.3h1.1v1.1h-1.1zM258.2,312.7h1.1v1.1h-1.1zM284.2,302.9h1.1v1.1h-1.1zM272.0,323.8h1.1v1.1h-1.1zM289.1,317.3h1.1v1.1h-1.1zM281.4,308.9h1.1v1.1h-1.1zM274.6,316.9h1.1v1.1h-1.1zM263.5,323.1h1.1v1.1h-1.1zM266.4,324.0h1.1v1.1h-1.1zM278.2,311.9h1.1v1.1h-1.1zM267.8,323.3h1.1v1.1h-1.1zM277.1,324.4h1.1v1.1h-1.1zM271.3,324.9h1.1v1.1h-1.1zM303.3,296.3h1.1v1.1h-1.1zM289.4,299.9h1.1v1.1h-1.1zM254.5,310.1h1.1v1.1h-1.1zM270.9,325.9h1.1v1.1h-1.1zM272.2,320.2h1.1v1.1h-1.1zM251.3,315.9h1.1v1.1h-1.1zM250.3,304.6h1.1v1.1h-1.1zM250.1,294.4h1.1v1.1h-1.1zM288.9,304.5h1.1v1.1h-1.1zM271.1,325.9h1.1v1.1h-1.1zM275.9,325.5h1.1v1.1h-1.1zM281.2,317.3h1.1v1.1h-1.1zM238.0,288.0h1.1v1.1h-1.1zM271.0,327.2h1.1v1.1h-1.1zM300.9,291.6h1.1v1.1h-1.1zM276.3,318.5h1.1v1.1h-1.1zM283.2,313.3h1.1v1.1h-1.1zM263.9,328.7h1.1v1.1h-1.1zM284.0,303.2h1.1v1.1h-1.1zM270.8,322.1h1.1v1.1h-1.1zM277.3,316.5h1.1v1.1h-1.1zM269.1,322.1h1.1v1.1h-1.1zM255.1,307.4h1.1v1.1h-1.1zM249.2,291.2h1.1v1.1h-1.1zM263.6,321.3h1.1v1.1h-1.1zM262.4,327.5h1.1v1.1h-1.1zM278.1,316.6h1.1v1.1h-1.1zM275.9,316.1h1.1v1.1h-1.1zM219.7,305.2h1.1v1.1h-1.1zM276.1,317.4h1.1v1.1h-1.1zM275.7,328.5h1.1v1.1h-1.1zM270.2,325.6h1.1v1.1h-1.1zM261.6,317.0h1.1v1.1h-1.1zM257.6,321.5h1.1v1.1h-1.1zM289.1,303.5h1.1v1.1h-1.1zM263.2,317.9h1.1v1.1h-1.1zM281.1,308.7h1.1v1.1h-1.1zM284.8,314.3h1.1v1.1h-1.1zM271.4,325.2h1.1v1.1h-1.1zM245.2,301.8h1.1v1.1h-1.1zM259.4,311.7h1.1v1.1h-1.1zM254.4,308.9h1.1v1.1h-1.1zM239.2,291.1h1.1v1.1h-1.1zM266.8,325.8h1.1v1.1h-1.1zM277.9,324.8h1.1v1.1h-1.1zM285.9,304.7h1.1v1.1h-1.1zM249.1,309.2h1.1v1.1h-1.1zM271.6,324.9h1.1v1.1h-1.1zM261.3,325.3h1.1v1.1h-1.1zM267.8,319.5h1.1v1.1h-1.1zM284.5,326.9h1.1v1.1h-1.1zM249.1,295.1h1.1v1.1h-1.1zM258.9,303.5h1.1v1.1h-1.1zM244.8,310.5h1.1v1.1h-1.1zM270.6,328.3h1.1v1.1h-1.1zM247.0,313.8h1.1v1.1h-1.1zM267.2,320.3h1.1v1.1h-1.1zM268.1,320.6h1.1v1.1h-1.1zM259.3,314.2h1.1v1.1h-1.1zM263.1,317.1h1.1v1.1h-1.1zM296.9,291.0h1.1v1.1h-1.1zM267.8,319.7h1.1v1.1h-1.1zM231.9,312.0h1.1v1.1h-1.1zM281.2,312.5h1.1v1.1h-1.1zM264.2,319.7h1.1v1.1h-1.1zM253.6,317.0h1.1v1.1h-1.1zM246.1,286.5h1.1v1.1h-1.1zM284.4,301.9h1.1v1.1h-1.1zM265.7,316.9h1.1v1.1h-1.1zM271.9,324.8h1.1v1.1h-1.1zM267.0,326.2h1.1v1.1h-1.1zM281.9,317.2h1.1v1.1h-1.1zM268.1,319.3h1.1v1.1h-1.1zM274.4,326.4h1.1v1.1h-1.1zM261.1,327.9h1.1v1.1h-1.1zM267.9,323.1h1.1v1.1h-1.1zM280.5,322.8h1.1v1.1h-1.1zM267.7,322.0h1.1v1.1h-1.1zM288.0,299.9h1.1v1.1h-1.1zM254.3,309.5h1.1v1.1h-1.1zM266.1,323.5h1.1v1.1h-1.1zM271.3,321.9h1.1v1.1h-1.1zM262.7,323.7h1.1v1.1h-1.1zM263.4,312.1h1.1v1.1h-1.1zM295.1,317.1h1.1v1.1h-1.1zM262.4,309.9h1.1v1.1h-1.1zM255.7,311.3h1.1v1.1h-1.1zM250.8,290.8h1.1v1.1h-1.1zM285.2,320.9h1.1v1.1h-1.1zM273.3,322.4h1.1v1.1h-1.1zM251.9,322.7h1.1v1.1h-1.1zM280.5,310.1h1.1v1.1h-1.1zM278.2,321.9h1.1v1.1h-1.1zM254.8,313.5h1.1v1.1h-1.1zM275.4,314.3h1.1v1.1h-1.1zM243.8,299.0h1.1v1.1h-1.1zM272.5,319.1h1.1v1.1h-1.1zM283.1,310.3h1.1v1.1h-1.1zM267.3,319.3h1.1v1.1h-1.1zM260.3,316.3h1.1v1.1h-1.1zM250.4,296.4h1.1v1.1h-1.1zM278.4,310.2h1.1v1.1h-1.1zM286.0,299.0h1.1v1.1h-1.1zM250.6,295.9h1.1v1.1h-1.1zM260.3,312.7h1.1v1.1h-1.1zM259.4,310.6h1.1v1.1h-1.1zM260.8,316.5h1.1v1.1h-1.1zM276.0,313.4h1.1v1.1h-1.1zM283.1,319.0h1.1v1.1h-1.1zM259.9,309.3h1.1v1.1h-1.1zM253.7,305.7h1.1v1.1h-1.1zM277.7,323.9h1.1v1.1h-1.1zM249.6,301.3h1.1v1.1h-1.1zM243.0,289.9h1.1v1.1h-1.1zM265.0,315.8h1.1v1.1h-1.1zM281.2,321.7h1.1v1.1h-1.1zM284.3,300.8h1.1v1.1h-1.1zM254.7,317.5h1.1v1.1h-1.1zM262.3,315.1h1.1v1.1h-1.1zM272.6,326.8h1.1v1.1h-1.1zM243.2,321.3h1.1v1.1h-1.1zM283.9,307.3h1.1v1.1h-1.1zM257.7,318.1h1.1v1.1h-1.1zM259.0,311.6h1.1v1.1h-1.1zM284.5,320.3h1.1v1.1h-1.1zM282.0,311.2h1.1v1.1h-1.1zM289.0,297.7h1.1v1.1h-1.1zM263.7,315.4h1.1v1.1h-1.1zM273.6,322.3h1.1v1.1h-1.1zM245.5,303.6h1.1v1.1h-1.1zM261.3,319.0h1.1v1.1h-1.1zM264.1,316.3h1.1v1.1h-1.1zM278.0,309.9h1.1v1.1h-1.1zM258.1,306.6h1.1v1.1h-1.1zM264.2,322.6h1.1v1.1h-1.1zM261.2,312.0h1.1v1.1h-1.1zM259.3,314.2h1.1v1.1h-1.1zM247.6,285.2h1.1v1.1h-1.1zM265.9,315.0h1.1v1.1h-1.1zM275.5,323.5h1.1v1.1h-1.1zM269.6,322.7h1.1v1.1h-1.1zM252.8,303.7h1.1v1.1h-1.1zM269.4,326.9h1.1v1.1h-1.1zM267.6,321.6h1.1v1.1h-1.1zM277.3,314.4h1.1v1.1h-1.1zM264.9,320.6h1.1v1.1h-1.1zM290.4,295.6h1.1v1.1h-1.1zM250.5,298.7h1.1v1.1h-1.1zM268.4,320.3h1.1v1.1h-1.1zM252.3,292.1h1.1v1.1h-1.1zM277.6,314.2h1.1v1.1h-1.1zM252.4,311.0h1.1v1.1h-1.1zM253.6,318.7h1.1v1.1h-1.1zM277.8,320.9h1.1v1.1h-1.1zM226.6,292.7h1.1v1.1h-1.1zM249.2,319.0h1.1v1.1h-1.1zM248.2,301.1h1.1v1.1h-1.1zM249.6,287.3h1.1v1.1h-1.1zM249.0,313.2h1.1v1.1h-1.1zM283.0,308.8h1.1v1.1h-1.1zM276.9,322.8h1.1v1.1h-1.1zM261.9,327.6h1.1v1.1h-1.1zM258.6,319.4h1.1v1.1h-1.1zM277.5,322.2h1.1v1.1h-1.1zM262.4,320.8h1.1v1.1h-1.1zM268.4,326.4h1.1v1.1h-1.1zM279.6,307.5h1.1v1.1h-1.1zM258.6,323.2h1.1v1.1h-1.1zM291.4,288.9h1.1v1.1h-1.1zM273.7,319.9h1.1v1.1h-1.1zM261.8,307.9h1.1v1.1h-1.1zM265.9,316.3h1.1v1.1h-1.1zM244.3,316.8h1.1v1.1h-1.1zM268.5,319.7h1.1v1.1h-1.1zM259.8,309.5h1.1v1.1h-1.1zM273.3,318.3h1.1v1.1h-1.1zM239.5,314.9h1.1v1.1h-1.1zM269.2,323.6h1.1v1.1h-1.1zM285.2,307.3h1.1v1.1h-1.1zM241.6,310.1h1.1v1.1h-1.1zM258.5,317.2h1.1v1.1h-1.1zM272.8,325.6h1.1v1.1h-1.1zM264.2,327.3h1.1v1.1h-1.1zM268.2,323.5h1.1v1.1h-1.1zM273.0,321.4h1.1v1.1h-1.1zM276.3,318.6h1.1v1.1h-1.1zM285.3,320.3h1.1v1.1h-1.1zM249.5,300.7h1.1v1.1h-1.1zM253.1,304.5h1.1v1.1h-1.1zM281.6,304.2h1.1v1.1h-1.1zM267.1,320.6h1.1v1.1h-1.1zM273.7,321.8h1.1v1.1h-1.1zM265.2,324.4h1.1v1.1h-1.1zM263.9,317.8h1.1v1.1h-1.1zM282.4,321.3h1.1v1.1h-1.1zM281.3,320.3h1.1v1.1h-1.1zM275.1,327.4h1.1v1.1h-1.1zM268.0,322.8h1.1v1.1h-1.1zM295.7,287.6h1.1v1.1h-1.1zM264.6,316.5h1.1v1.1h-1.1zM250.2,321.1h1.1v1.1h-1.1zM254.6,324.5h1.1v1.1h-1.1zM261.1,308.8h1.1v1.1h-1.1zM274.4,323.8h1.1v1.1h-1.1zM283.4,320.1h1.1v1.1h-1.1zM249.4,238.0h1.1v1.1h-1.1zM277.3,238.0h1.1v1.1h-1.1zM265.9,257.3h1.1v1.1h-1.1zM252.7,259.7h1.1v1.1h-1.1zM238.5,266.4h1.1v1.1h-1.1zM240.9,274.6h1.1v1.1h-1.1zM260.8,270.2h1.1v1.1h-1.1zM250.8,274.2h1.1v1.1h-1.1zM256.3,278.3h1.1v1.1h-1.1zM236.5,283.7h1.1v1.1h-1.1zM277.9,268.8h1.1v1.1h-1.1zM277.3,270.8h1.1v1.1h-1.1zM276.8,277.3h1.1v1.1h-1.1zM224.1,295.2h1.1v1.1h-1.1zM261.8,282.7h1.1v1.1h-1.1zM305.7,317.3h1.1v1.1h-1.1zM298.7,308.8h1.1v1.1h-1.1zM310.8,312.2h1.1v1.1h-1.1zM306.7,320.7h1.1v1.1h-1.1z" fill="#111"/>
<line x1="220.30" y1="228.00" x2="220.30" y2="329.70" stroke="#666" stroke-width="0.8" />
<line x1="216.70" y1="329.70" x2="220.30" y2="329.70" stroke="#666" stroke-width="0.8" />
<text x="212.90" y="332.40" font-size="7.6" fill="#404040" text-anchor="end" >0</text>
<line x1="216.70" y1="295.80" x2="220.30" y2="295.80" stroke="#666" stroke-width="0.8" />
<text x="212.90" y="298.50" font-size="7.6" fill="#404040" text-anchor="end" >1</text>
<line x1="216.70" y1="261.90" x2="220.30" y2="261.90" stroke="#666" stroke-width="0.8" />
<text x="212.90" y="264.60" font-size="7.6" fill="#404040" text-anchor="end" >2</text>
<line x1="216.70" y1="228.00" x2="220.30" y2="228.00" stroke="#666" stroke-width="0.8" />
<text x="212.90" y="230.70" font-size="7.6" fill="#404040" text-anchor="end" >3</text>
<line x1="220.30" y1="329.70" x2="371.80" y2="329.70" stroke="#999" stroke-width="1.0" />
<line x1="220.60" y1="329.70" x2="220.60" y2="332.90" stroke="#666" stroke-width="0.7" />
<line x1="230.68" y1="329.70" x2="230.68" y2="331.70" stroke="#666" stroke-width="0.7" />
<line x1="240.76" y1="329.70" x2="240.76" y2="331.70" stroke="#666" stroke-width="0.7" />
<line x1="250.84" y1="329.70" x2="250.84" y2="331.70" stroke="#666" stroke-width="0.7" />
<line x1="260.92" y1="329.70" x2="260.92" y2="331.70" stroke="#666" stroke-width="0.7" />
<line x1="271.00" y1="329.70" x2="271.00" y2="332.90" stroke="#666" stroke-width="0.7" />
<line x1="281.08" y1="329.70" x2="281.08" y2="331.70" stroke="#666" stroke-width="0.7" />
<line x1="291.16" y1="329.70" x2="291.16" y2="331.70" stroke="#666" stroke-width="0.7" />
<line x1="301.24" y1="329.70" x2="301.24" y2="331.70" stroke="#666" stroke-width="0.7" />
<line x1="311.32" y1="329.70" x2="311.32" y2="331.70" stroke="#666" stroke-width="0.7" />
<line x1="321.40" y1="329.70" x2="321.40" y2="332.90" stroke="#666" stroke-width="0.7" />
<line x1="331.48" y1="329.70" x2="331.48" y2="331.70" stroke="#666" stroke-width="0.7" />
<line x1="341.56" y1="329.70" x2="341.56" y2="331.70" stroke="#666" stroke-width="0.7" />
<line x1="351.64" y1="329.70" x2="351.64" y2="331.70" stroke="#666" stroke-width="0.7" />
<line x1="361.72" y1="329.70" x2="361.72" y2="331.70" stroke="#666" stroke-width="0.7" />
<line x1="371.80" y1="329.70" x2="371.80" y2="332.90" stroke="#666" stroke-width="0.7" />
<text x="219.10" y="343.30" font-size="7.6" fill="#404040" text-anchor="middle" >–5</text>
<text x="271.00" y="343.30" font-size="7.6" fill="#404040" text-anchor="middle" >0</text>
<text x="321.40" y="343.30" font-size="7.6" fill="#404040" text-anchor="middle" >5</text>
<text x="371.80" y="343.30" font-size="7.6" fill="#404040" text-anchor="middle" >10</text>
<text x="297.00" y="354.80" font-size="9.0" fill="#404040" text-anchor="middle" >log<tspan font-size="6" dy="2">2</tspan><tspan dy="-2">(fold change)</tspan></text>
<text x="202.60" y="280.00" font-size="8.8" fill="#404040" text-anchor="middle" transform="rotate(-90 202.6 280)">–log(<tspan font-style="italic">P</tspan> value)</text>
<circle cx="300.90" cy="252.30" r="2.1" fill="#e8303a"/>
<text x="300.00" y="248.80" font-size="6.9" fill="#404040" >Glypican 1</text>
<circle cx="324.30" cy="254.30" r="2.1" fill="#e8303a"/>
<text x="327.30" y="256.90" font-size="6.9" fill="#404040" >Syndecan 4</text>
<text x="387.40" y="212.90" font-size="12" fill="#111" font-weight="bold" stroke="#111" stroke-width="0.5">f</text>
<text x="438.30" y="221.40" font-size="9.2" fill="#3aaea0" >Vitronectin</text>
<path d="M397,224 C420,225 440,222 455,223 C470,224 482,231 490,238.8" fill="none" stroke="#5fb8ab" stroke-width="1.3" stroke-opacity="0.4" stroke-linecap="round"/>
<path d="M398,229.5 C420,230 440,233 455,234 C468,235 478,234 484,233" fill="none" stroke="#5fb8ab" stroke-width="1.1" stroke-opacity="0.25" stroke-linecap="round"/>
<path d="M409,224.8 C425,226 445,232 462,237 C470,239.5 478,240.5 486,240" fill="none" stroke="#5fb8ab" stroke-width="1.6" stroke-opacity="0.7" stroke-linecap="round"/>
<path d="M404,240.5 C420,236 432,231 445,228 C460,225 480,226 497.8,224.6" fill="none" stroke="#5fb8ab" stroke-width="1.7" stroke-opacity="0.75" stroke-linecap="round"/>
<path d="M437.3,239.8 Q442.5,240.5 447.5,244.5 M437.3,239.8 Q438.5,243 435.8,247.5 Q433.8,252 436.5,255.5 Q439,258 441,259.8 Q437,263 436.8,268 Q437,273 439.6,276 Q440.2,280 437,283" fill="none" stroke="#505050" stroke-width="0.85" stroke-linecap="round" stroke-linejoin="round" />
<ellipse cx="454.4" cy="245.4" rx="3.4" ry="3.3" fill="#d98cbf"/>
<ellipse cx="447.6" cy="252" rx="4.6" ry="6.2" fill="#d98cbf"/>
<path d="M445.5,248.5 L449.5,247.5 L450,250" fill="none" stroke="#8a5a80" stroke-width="0.4"/>
<circle cx="453.8" cy="255.7" r="4.0" fill="#7b8fd8"/>
<circle cx="456.8" cy="262" r="3.0" fill="#7b8fd8"/>
<circle cx="458.7" cy="265.2" r="2.4" fill="#7b8fd8"/>
<circle cx="460.4" cy="268" r="2.5" fill="#7b8fd8"/>
<circle cx="461.7" cy="270.8" r="2.2" fill="#7b8fd8"/>
<circle cx="462.8" cy="273.5" r="2.3" fill="#7b8fd8"/>
<circle cx="464.3" cy="276.3" r="2.2" fill="#7b8fd8"/>
<circle cx="465.7" cy="279.1" r="2.3" fill="#7b8fd8"/>
<circle cx="467.0" cy="281.5" r="2.3" fill="#7b8fd8"/>
<circle cx="468.4" cy="283.9" r="2.8" fill="#7b8fd8"/>
<line x1="468.40" y1="284.00" x2="479.30" y2="305.00" stroke="#5a6ac0" stroke-width="0.8" />
<ellipse cx="444.8" cy="258.5" rx="2.6" ry="2.2" fill="#d98cbf"/>
<ellipse cx="445.0" cy="262.5" rx="2.8" ry="2.2" fill="#d98cbf"/>
<ellipse cx="445.2" cy="266.5" rx="2.8" ry="2.2" fill="#d98cbf"/>
<ellipse cx="445.3" cy="270.5" rx="2.6" ry="2.1" fill="#d98cbf"/>
<ellipse cx="445" cy="274.5" rx="2.2" ry="2.0" fill="#d98cbf"/>
<ellipse cx="444.6" cy="281.5" rx="2.8" ry="5.2" fill="#d98cbf"/>
<line x1="444.40" y1="286.00" x2="444.40" y2="305.70" stroke="#b0609a" stroke-width="0.9" />
<polyline points="397.30,234.10 405.00,240.00 412.00,246.00 420.00,252.20 427.00,257.20 433.30,259.30 440.50,259.80" fill="none" stroke="#8a4a3a" stroke-width="0.7"/>
<circle cx="397.30" cy="234.10" r="1.65" fill="#1f77b8" stroke="#23506e" stroke-width="0.3"/>
<circle cx="401.11" cy="237.02" r="1.65" fill="#1f77b8" stroke="#23506e" stroke-width="0.3"/>
<line x1="402.22" y1="239.38" x2="403.82" y2="237.58" stroke="#c04030" stroke-width="0.6"/>
<circle cx="404.92" cy="239.94" r="1.65" fill="#1f77b8" stroke="#23506e" stroke-width="0.3"/>
<circle cx="408.57" cy="243.06" r="1.65" fill="#1f77b8" stroke="#23506e" stroke-width="0.3"/>
<line x1="409.59" y1="245.51" x2="411.19" y2="243.71" stroke="#c04030" stroke-width="0.6"/>
<circle cx="412.22" cy="246.17" r="1.65" fill="#1f77b8" stroke="#23506e" stroke-width="0.3"/>
<circle cx="416.02" cy="249.11" r="1.65" fill="#1f77b8" stroke="#23506e" stroke-width="0.3"/>
<line x1="417.11" y1="251.48" x2="418.71" y2="249.68" stroke="#c04030" stroke-width="0.6"/>
<circle cx="419.81" cy="252.05" r="1.65" fill="#1f77b8" stroke="#23506e" stroke-width="0.3"/>
<circle cx="423.71" cy="254.85" r="1.65" fill="#1f77b8" stroke="#23506e" stroke-width="0.3"/>
<line x1="424.91" y1="257.04" x2="426.51" y2="255.24" stroke="#c04030" stroke-width="0.6"/>
<circle cx="427.72" cy="257.44" r="1.65" fill="#f2c81e" stroke="#23506e" stroke-width="0.3"/>
<circle cx="432.27" cy="258.96" r="1.65" fill="#f2c81e" stroke="#23506e" stroke-width="0.3"/>
<circle cx="437.01" cy="259.56" r="1.65" fill="#f2c81e" stroke="#23506e" stroke-width="0.3"/>
<polyline points="441.00,272.20 446.00,271.00 452.00,268.50 458.00,265.00 464.00,259.50 470.00,253.50 476.00,249.20 482.00,245.80" fill="none" stroke="#8a4a3a" stroke-width="0.7"/>
<circle cx="441.00" cy="272.20" r="1.65" fill="#f2c81e" stroke="#23506e" stroke-width="0.3"/>
<circle cx="445.67" cy="271.08" r="1.65" fill="#f2c81e" stroke="#23506e" stroke-width="0.3"/>
<circle cx="450.12" cy="269.29" r="1.65" fill="#f2c81e" stroke="#23506e" stroke-width="0.3"/>
<circle cx="454.38" cy="267.11" r="1.65" fill="#1f77b8" stroke="#23506e" stroke-width="0.3"/>
<line x1="455.62" y1="266.75" x2="457.22" y2="264.95" stroke="#c04030" stroke-width="0.6"/>
<circle cx="458.45" cy="264.59" r="1.65" fill="#1f77b8" stroke="#23506e" stroke-width="0.3"/>
<circle cx="461.99" cy="261.34" r="1.65" fill="#1f77b8" stroke="#23506e" stroke-width="0.3"/>
<line x1="462.93" y1="260.59" x2="464.53" y2="258.79" stroke="#c04030" stroke-width="0.6"/>
<circle cx="465.47" cy="258.03" r="1.65" fill="#1f77b8" stroke="#23506e" stroke-width="0.3"/>
<circle cx="468.86" cy="254.64" r="1.65" fill="#1f77b8" stroke="#23506e" stroke-width="0.3"/>
<line x1="469.93" y1="254.04" x2="471.53" y2="252.24" stroke="#c04030" stroke-width="0.6"/>
<circle cx="472.59" cy="251.64" r="1.65" fill="#1f77b8" stroke="#23506e" stroke-width="0.3"/>
<circle cx="476.53" cy="248.90" r="1.65" fill="#1f77b8" stroke="#23506e" stroke-width="0.3"/>
<line x1="477.81" y1="248.62" x2="479.41" y2="246.82" stroke="#c04030" stroke-width="0.6"/>
<circle cx="480.70" cy="246.54" r="1.65" fill="#1f77b8" stroke="#23506e" stroke-width="0.3"/>
<circle cx="434.7" cy="287.2" r="2.7" fill="#5fb0ae" stroke="#e0b080" stroke-width="0.6" stroke-dasharray="0.8 0.8"/>
<path d="M437.2,280.5 Q437.6,285 434.2,289.2" fill="none" stroke="#d02030" stroke-width="1.8" stroke-linecap="round"/>
<path d="M393.6,309.8 Q443,287.5 494.2,309.6 L494.2,340 L393.6,340 Z" fill="url(#cell)"/>
<path d="M393.6,309.8 Q443,287.5 494.2,309.6" fill="none" stroke="#a8acac" stroke-width="1.5" stroke-linecap="round" stroke-linejoin="round" />
<polygon points="428.04,312.00 425.10,313.70 422.16,312.00 422.16,308.60 425.10,306.90 428.04,308.60" fill="#d4d4d4" stroke="#7a7a7a" stroke-width="0.7"/>
<polygon points="428.44,305.70 425.50,307.40 422.56,305.70 422.56,302.30 425.50,300.60 428.44,302.30" fill="#d4d4d4" stroke="#7a7a7a" stroke-width="0.7"/>
<polygon points="433.34,302.90 430.40,304.60 427.46,302.90 427.46,299.50 430.40,297.80 433.34,299.50" fill="#d4d4d4" stroke="#7a7a7a" stroke-width="0.7"/>
<polygon points="433.14,296.80 430.20,298.50 427.26,296.80 427.26,293.40 430.20,291.70 433.14,293.40" fill="#d4d4d4" stroke="#7a7a7a" stroke-width="0.7"/>
<line x1="444.40" y1="296.00" x2="444.40" y2="305.70" stroke="#b0609a" stroke-width="0.9" />
<line x1="444.90" y1="309.50" x2="444.90" y2="329.10" stroke="#222" stroke-width="1.2" />
<polygon points="444.90,333.10 442.90,328.60 446.90,328.60" fill="#222"/>
<text x="416.00" y="342.80" font-size="9.0" fill="#404040" >Cell spreading</text>
<text x="405.90" y="267.40" font-size="8.6" fill="#404040" >SDC1</text>
<text x="387.90" y="297.60" font-size="8.6" fill="#404040" >Chol-NTA</text>
<text x="466.00" y="272.80" font-size="9.1" fill="#5a6ac0" >Integrin α<tspan font-size="6" dy="1.8">v</tspan><tspan dy="-1.8">β</tspan><tspan font-size="6" dy="1.8">3</tspan></text>
<rect x="551.3" y="218.4" width="97.5" height="96.6" fill="none" stroke="#555" stroke-width="0.8"/>
<line x1="547.60" y1="310.50" x2="551.30" y2="310.50" stroke="#555" stroke-width="0.8" />
<text x="545.00" y="313.40" font-size="8.1" fill="#404040" text-anchor="end" >0</text>
<line x1="547.60" y1="287.41" x2="551.30" y2="287.41" stroke="#555" stroke-width="0.8" />
<text x="545.00" y="290.31" font-size="8.1" fill="#404040" text-anchor="end" >100</text>
<line x1="547.60" y1="264.32" x2="551.30" y2="264.32" stroke="#555" stroke-width="0.8" />
<text x="545.00" y="267.22" font-size="8.1" fill="#404040" text-anchor="end" >200</text>
<line x1="547.60" y1="241.23" x2="551.30" y2="241.23" stroke="#555" stroke-width="0.8" />
<text x="545.00" y="244.13" font-size="8.1" fill="#404040" text-anchor="end" >300</text>
<line x1="547.60" y1="218.14" x2="551.30" y2="218.14" stroke="#555" stroke-width="0.8" />
<text x="545.00" y="221.04" font-size="8.1" fill="#404040" text-anchor="end" >400</text>
<line x1="561.60" y1="315.00" x2="561.60" y2="318.40" stroke="#555" stroke-width="0.8" />
<line x1="576.90" y1="315.00" x2="576.90" y2="318.40" stroke="#555" stroke-width="0.8" />
<line x1="592.20" y1="315.00" x2="592.20" y2="318.40" stroke="#555" stroke-width="0.8" />
<line x1="607.50" y1="315.00" x2="607.50" y2="318.40" stroke="#555" stroke-width="0.8" />
<line x1="622.80" y1="315.00" x2="622.80" y2="318.40" stroke="#555" stroke-width="0.8" />
<line x1="638.10" y1="315.00" x2="638.10" y2="318.40" stroke="#555" stroke-width="0.8" />
<text x="528.60" y="261.00" font-size="8.3" fill="#404040" text-anchor="middle" transform="rotate(-90 528.6 261)">Cell spreading (%)</text>
<text x="609.30" y="215.00" font-size="6.2" fill="#404040" text-anchor="middle" ><tspan font-style="italic">P</tspan> &lt; 0.0001</text>
<line x1="577.00" y1="216.50" x2="638.50" y2="216.50" stroke="#555" stroke-width="0.9" />
<text x="594.60" y="226.80" font-size="6.2" fill="#404040" text-anchor="middle" ><tspan font-style="italic">P</tspan> &lt; 0.0001</text>
<line x1="577.00" y1="228.30" x2="607.90" y2="228.30" stroke="#555" stroke-width="0.9" />
<text x="571.40" y="238.20" font-size="6.2" fill="#404040" text-anchor="middle" ><tspan font-style="italic">P</tspan> &lt; 0.0001</text>
<line x1="561.60" y1="240.00" x2="577.00" y2="240.00" stroke="#555" stroke-width="0.9" />
<text x="602.80" y="238.20" font-size="6.2" fill="#404040" text-anchor="middle" ><tspan font-style="italic">P</tspan> = 0.0062</text>
<line x1="591.90" y1="240.00" x2="607.90" y2="240.00" stroke="#555" stroke-width="0.9" />
<text x="633.60" y="238.20" font-size="6.2" fill="#404040" text-anchor="middle" ><tspan font-style="italic">P</tspan> = 0.0106</text>
<line x1="622.80" y1="240.00" x2="638.50" y2="240.00" stroke="#555" stroke-width="0.9" />
<path d="M561.85,252.78 L561.86,253.37 L561.87,253.96 L561.88,254.55 L561.89,255.14 L561.90,255.73 L561.91,256.32 L561.92,256.91 L561.93,257.50 L561.94,258.09 L561.95,258.68 L561.96,259.27 L561.97,259.86 L561.98,260.45 L561.99,261.04 L562.00,261.63 L562.01,262.22 L562.02,262.81 L562.03,263.40 L562.04,263.99 L562.06,264.58 L562.07,265.17 L562.08,265.76 L562.09,266.35 L562.11,266.94 L562.12,267.54 L562.13,268.13 L562.15,268.72 L562.16,269.31 L562.17,269.90 L562.18,270.49 L562.20,271.08 L562.23,271.67 L562.27,272.26 L562.30,272.85 L562.34,273.44 L562.38,274.03 L562.42,274.62 L562.46,275.21 L562.51,275.80 L562.57,276.39 L562.65,276.98 L562.72,277.57 L562.80,278.16 L562.88,278.75 L562.95,279.34 L563.03,279.93 L563.12,280.52 L563.24,281.11 L563.36,281.70 L563.49,282.30 L563.63,282.89 L563.81,283.48 L564.02,284.07 L564.25,284.66 L564.48,285.25 L564.72,285.84 L564.97,286.43 L565.23,287.02 L565.48,287.61 L565.72,288.20 L565.96,288.79 L566.19,289.38 L566.39,289.97 L566.53,290.56 L566.63,291.15 L566.70,291.74 L566.74,292.33 L566.71,292.92 L566.62,293.51 L566.52,294.10 L566.38,294.69 L566.18,295.28 L565.93,295.87 L565.68,296.46 L565.32,297.06 L564.86,297.65 L564.23,298.24 L563.31,298.83 L562.10,299.42 L561.10,299.42 L559.89,298.83 L558.97,298.24 L558.34,297.65 L557.88,297.06 L557.52,296.46 L557.27,295.87 L557.02,295.28 L556.82,294.69 L556.68,294.10 L556.58,293.51 L556.49,292.92 L556.46,292.33 L556.50,291.74 L556.57,291.15 L556.67,290.56 L556.81,289.97 L557.01,289.38 L557.24,288.79 L557.48,288.20 L557.72,287.61 L557.97,287.02 L558.23,286.43 L558.48,285.84 L558.72,285.25 L558.95,284.66 L559.18,284.07 L559.39,283.48 L559.57,282.89 L559.71,282.30 L559.84,281.70 L559.96,281.11 L560.08,280.52 L560.17,279.93 L560.25,279.34 L560.32,278.75 L560.40,278.16 L560.48,277.57 L560.55,276.98 L560.63,276.39 L560.69,275.80 L560.74,275.21 L560.78,274.62 L560.82,274.03 L560.86,273.44 L560.90,272.85 L560.93,272.26 L560.97,271.67 L561.00,271.08 L561.02,270.49 L561.03,269.90 L561.04,269.31 L561.05,268.72 L561.07,268.13 L561.08,267.54 L561.09,266.94 L561.11,266.35 L561.12,265.76 L561.13,265.17 L561.14,264.58 L561.16,263.99 L561.17,263.40 L561.18,262.81 L561.19,262.22 L561.20,261.63 L561.21,261.04 L561.22,260.45 L561.23,259.86 L561.24,259.27 L561.25,258.68 L561.26,258.09 L561.27,257.50 L561.28,256.91 L561.29,256.32 L561.30,255.73 L561.31,255.14 L561.32,254.55 L561.33,253.96 L561.34,253.37 L561.35,252.78Z" fill="#6e6e6e" stroke="#4a4a4a" stroke-width="0.5" stroke-linejoin="round"/>
<line x1="556.55" y1="291.34" x2="566.65" y2="291.34" stroke="#4a4a4a" stroke-width="0.5" />
<line x1="559.14" y1="284.18" x2="564.06" y2="284.18" stroke="#4a4a4a" stroke-width="0.5" />
<path d="M577.25,266.86 L577.25,267.41 L577.26,267.96 L577.26,268.52 L577.26,269.07 L577.27,269.62 L577.27,270.17 L577.27,270.73 L577.27,271.28 L577.28,271.83 L577.28,272.38 L577.28,272.94 L577.29,273.49 L577.29,274.04 L577.29,274.59 L577.30,275.15 L577.30,275.70 L577.30,276.25 L577.30,276.80 L577.30,277.36 L577.30,277.91 L577.30,278.46 L577.30,279.01 L577.30,279.57 L577.30,280.12 L577.30,280.67 L577.30,281.22 L577.30,281.77 L577.30,282.33 L577.30,282.88 L577.30,283.43 L577.30,283.98 L577.30,284.54 L577.30,285.09 L577.30,285.64 L577.30,286.19 L577.30,286.75 L577.30,287.30 L577.31,287.85 L577.31,288.40 L577.32,288.96 L577.32,289.51 L577.33,290.06 L577.33,290.61 L577.34,291.17 L577.35,291.72 L577.35,292.27 L577.36,292.82 L577.36,293.38 L577.37,293.93 L577.38,294.48 L577.38,295.03 L577.39,295.59 L577.40,296.14 L577.41,296.69 L577.44,297.24 L577.47,297.79 L577.51,298.35 L577.55,298.90 L577.58,299.45 L577.62,300.00 L577.65,300.56 L577.73,301.11 L577.87,301.66 L578.06,302.21 L578.24,302.77 L578.34,303.32 L578.36,303.87 L578.33,304.42 L578.25,304.98 L578.11,305.53 L577.94,306.08 L577.82,306.63 L577.81,307.19 L577.90,307.74 L578.13,308.29 L578.68,308.84 L579.66,309.40 L580.81,309.95 L581.90,310.50 L571.90,310.50 L572.99,309.95 L574.14,309.40 L575.12,308.84 L575.67,308.29 L575.90,307.74 L575.99,307.19 L575.98,306.63 L575.86,306.08 L575.69,305.53 L575.55,304.98 L575.47,304.42 L575.44,303.87 L575.46,303.32 L575.56,302.77 L575.74,302.21 L575.93,301.66 L576.07,301.11 L576.15,300.56 L576.18,300.00 L576.22,299.45 L576.25,298.90 L576.29,298.35 L576.33,297.79 L576.36,297.24 L576.39,296.69 L576.40,296.14 L576.41,295.59 L576.42,295.03 L576.42,294.48 L576.43,293.93 L576.44,293.38 L576.44,292.82 L576.45,292.27 L576.45,291.72 L576.46,291.17 L576.47,290.61 L576.47,290.06 L576.48,289.51 L576.48,288.96 L576.49,288.40 L576.49,287.85 L576.50,287.30 L576.50,286.75 L576.50,286.19 L576.50,285.64 L576.50,285.09 L576.50,284.54 L576.50,283.98 L576.50,283.43 L576.50,282.88 L576.50,282.33 L576.50,281.77 L576.50,281.22 L576.50,280.67 L576.50,280.12 L576.50,279.57 L576.50,279.01 L576.50,278.46 L576.50,277.91 L576.50,277.36 L576.50,276.80 L576.50,276.25 L576.50,275.70 L576.50,275.15 L576.51,274.59 L576.51,274.04 L576.51,273.49 L576.52,272.94 L576.52,272.38 L576.52,271.83 L576.53,271.28 L576.53,270.73 L576.53,270.17 L576.53,269.62 L576.54,269.07 L576.54,268.52 L576.54,267.96 L576.55,267.41 L576.55,266.86Z" fill="#ffffff" stroke="#8a8a8a" stroke-width="0.5" stroke-linejoin="round"/>
<path d="M592.50,263.86 L592.51,264.45 L592.52,265.04 L592.53,265.63 L592.55,266.22 L592.56,266.81 L592.57,267.40 L592.58,267.99 L592.59,268.58 L592.61,269.17 L592.62,269.76 L592.63,270.35 L592.64,270.94 L592.66,271.53 L592.67,272.12 L592.68,272.71 L592.70,273.30 L592.73,273.90 L592.76,274.49 L592.80,275.08 L592.84,275.67 L592.88,276.26 L592.91,276.85 L592.95,277.44 L592.99,278.03 L593.04,278.62 L593.09,279.21 L593.14,279.80 L593.19,280.39 L593.24,280.98 L593.29,281.57 L593.35,282.16 L593.41,282.75 L593.48,283.34 L593.56,283.93 L593.65,284.52 L593.74,285.11 L593.82,285.70 L593.91,286.29 L594.01,286.88 L594.11,287.47 L594.21,288.06 L594.32,288.66 L594.42,289.25 L594.53,289.84 L594.64,290.43 L594.76,291.02 L594.88,291.61 L595.00,292.20 L595.12,292.79 L595.23,293.38 L595.34,293.97 L595.44,294.56 L595.54,295.15 L595.64,295.74 L595.75,296.33 L595.85,296.92 L595.95,297.51 L596.05,298.10 L596.15,298.69 L596.26,299.28 L596.36,299.87 L596.45,300.46 L596.54,301.05 L596.62,301.64 L596.71,302.23 L596.79,302.82 L596.87,303.42 L596.93,304.01 L596.99,304.60 L597.04,305.19 L597.09,305.78 L597.14,306.37 L597.19,306.96 L597.23,307.55 L597.26,308.14 L597.30,308.73 L597.33,309.32 L597.37,309.91 L597.40,310.50 L587.00,310.50 L587.03,309.91 L587.07,309.32 L587.10,308.73 L587.14,308.14 L587.17,307.55 L587.21,306.96 L587.26,306.37 L587.31,305.78 L587.36,305.19 L587.41,304.60 L587.47,304.01 L587.53,303.42 L587.61,302.82 L587.69,302.23 L587.78,301.64 L587.86,301.05 L587.95,300.46 L588.04,299.87 L588.14,299.28 L588.25,298.69 L588.35,298.10 L588.45,297.51 L588.55,296.92 L588.65,296.33 L588.76,295.74 L588.86,295.15 L588.96,294.56 L589.06,293.97 L589.17,293.38 L589.28,292.79 L589.40,292.20 L589.52,291.61 L589.64,291.02 L589.76,290.43 L589.87,289.84 L589.98,289.25 L590.08,288.66 L590.19,288.06 L590.29,287.47 L590.39,286.88 L590.49,286.29 L590.58,285.70 L590.66,285.11 L590.75,284.52 L590.84,283.93 L590.92,283.34 L590.99,282.75 L591.05,282.16 L591.11,281.57 L591.16,280.98 L591.21,280.39 L591.26,279.80 L591.31,279.21 L591.36,278.62 L591.41,278.03 L591.45,277.44 L591.49,276.85 L591.52,276.26 L591.56,275.67 L591.60,275.08 L591.64,274.49 L591.67,273.90 L591.70,273.30 L591.72,272.71 L591.73,272.12 L591.74,271.53 L591.76,270.94 L591.77,270.35 L591.78,269.76 L591.79,269.17 L591.81,268.58 L591.82,267.99 L591.83,267.40 L591.84,266.81 L591.85,266.22 L591.87,265.63 L591.88,265.04 L591.89,264.45 L591.90,263.86Z" fill="#fdbb84" stroke="#b07a50" stroke-width="0.5" stroke-linejoin="round"/>
<line x1="587.90" y1="300.80" x2="596.50" y2="300.80" stroke="#b07a50" stroke-width="0.5" />
<line x1="588.56" y1="296.88" x2="595.84" y2="296.88" stroke="#b07a50" stroke-width="0.5" />
<path d="M607.80,248.16 L607.87,248.95 L607.94,249.74 L608.01,250.52 L608.09,251.31 L608.19,252.10 L608.32,252.89 L608.46,253.68 L608.60,254.47 L608.77,255.26 L608.98,256.05 L609.21,256.84 L609.33,257.63 L609.31,258.42 L609.14,259.21 L608.93,259.99 L608.73,260.78 L608.56,261.57 L608.40,262.36 L608.24,263.15 L608.12,263.94 L608.07,264.73 L608.10,265.52 L608.17,266.31 L608.24,267.10 L608.32,267.89 L608.40,268.67 L608.49,269.46 L608.59,270.25 L608.70,271.04 L608.84,271.83 L609.02,272.62 L609.20,273.41 L609.34,274.20 L609.34,274.99 L609.22,275.78 L609.07,276.57 L609.02,277.36 L609.09,278.14 L609.23,278.93 L609.37,279.72 L609.58,280.51 L609.85,281.30 L610.20,282.09 L610.54,282.88 L610.88,283.67 L611.22,284.46 L611.56,285.25 L611.91,286.04 L612.24,286.83 L612.53,287.61 L612.79,288.40 L613.01,289.19 L613.24,289.98 L613.43,290.77 L613.57,291.56 L613.67,292.35 L613.76,293.14 L613.82,293.93 L613.82,294.72 L613.76,295.51 L613.67,296.30 L613.58,297.08 L613.46,297.87 L613.30,298.66 L613.12,299.45 L612.94,300.24 L612.74,301.03 L612.54,301.82 L612.31,302.61 L612.08,303.40 L611.86,304.19 L611.64,304.98 L611.42,305.77 L611.21,306.55 L610.97,307.34 L610.68,308.13 L610.27,308.92 L609.53,309.71 L608.50,310.50 L606.50,310.50 L605.47,309.71 L604.73,308.92 L604.32,308.13 L604.03,307.34 L603.79,306.55 L603.58,305.77 L603.36,304.98 L603.14,304.19 L602.92,303.40 L602.69,302.61 L602.46,301.82 L602.26,301.03 L602.06,300.24 L601.88,299.45 L601.70,298.66 L601.54,297.87 L601.42,297.08 L601.33,296.30 L601.24,295.51 L601.18,294.72 L601.18,293.93 L601.24,293.14 L601.33,292.35 L601.43,291.56 L601.57,290.77 L601.76,289.98 L601.99,289.19 L602.21,288.40 L602.47,287.61 L602.76,286.83 L603.09,286.04 L603.44,285.25 L603.78,284.46 L604.12,283.67 L604.46,282.88 L604.80,282.09 L605.15,281.30 L605.42,280.51 L605.63,279.72 L605.77,278.93 L605.91,278.14 L605.98,277.36 L605.93,276.57 L605.78,275.78 L605.66,274.99 L605.66,274.20 L605.80,273.41 L605.98,272.62 L606.16,271.83 L606.30,271.04 L606.41,270.25 L606.51,269.46 L606.60,268.67 L606.68,267.89 L606.76,267.10 L606.83,266.31 L606.90,265.52 L606.93,264.73 L606.88,263.94 L606.76,263.15 L606.60,262.36 L606.44,261.57 L606.27,260.78 L606.07,259.99 L605.86,259.21 L605.69,258.42 L605.67,257.63 L605.79,256.84 L606.02,256.05 L606.23,255.26 L606.40,254.47 L606.54,253.68 L606.68,252.89 L606.81,252.10 L606.91,251.31 L606.99,250.52 L607.06,249.74 L607.13,248.95 L607.20,248.16Z" fill="#f07d2a" stroke="#a0501a" stroke-width="0.5" stroke-linejoin="round"/>
<line x1="601.77" y1="298.95" x2="613.23" y2="298.95" stroke="#a0501a" stroke-width="0.5" />
<line x1="601.22" y1="295.26" x2="613.78" y2="295.26" stroke="#a0501a" stroke-width="0.5" />
<path d="M623.10,278.17 L623.20,278.58 L623.31,278.99 L623.41,279.40 L623.51,279.81 L623.62,280.22 L623.72,280.63 L623.82,281.04 L623.91,281.45 L624.00,281.86 L624.09,282.27 L624.17,282.68 L624.26,283.08 L624.35,283.49 L624.45,283.90 L624.55,284.31 L624.66,284.72 L624.77,285.13 L624.87,285.54 L624.90,285.95 L624.84,286.36 L624.68,286.77 L624.50,287.18 L624.33,287.59 L624.18,287.99 L624.06,288.40 L623.95,288.81 L623.83,289.22 L623.76,289.63 L623.72,290.04 L623.73,290.45 L623.74,290.86 L623.76,291.27 L623.77,291.68 L623.79,292.09 L623.84,292.50 L623.92,292.90 L624.04,293.31 L624.16,293.72 L624.27,294.13 L624.39,294.54 L624.52,294.95 L624.67,295.36 L624.84,295.77 L625.03,296.18 L625.23,296.59 L625.42,297.00 L625.61,297.41 L625.81,297.82 L626.02,298.22 L626.23,298.63 L626.45,299.04 L626.66,299.45 L626.86,299.86 L627.04,300.27 L627.20,300.68 L627.34,301.09 L627.48,301.50 L627.62,301.91 L627.73,302.32 L627.80,302.73 L627.83,303.13 L627.85,303.54 L627.87,303.95 L627.88,304.36 L627.86,304.77 L627.80,305.18 L627.71,305.59 L627.62,306.00 L627.54,306.41 L627.43,306.82 L627.29,307.23 L627.11,307.64 L626.91,308.04 L626.72,308.45 L626.52,308.86 L626.34,309.27 L626.15,309.68 L625.98,310.09 L625.80,310.50 L619.80,310.50 L619.62,310.09 L619.45,309.68 L619.26,309.27 L619.08,308.86 L618.88,308.45 L618.69,308.04 L618.49,307.64 L618.31,307.23 L618.17,306.82 L618.06,306.41 L617.98,306.00 L617.89,305.59 L617.80,305.18 L617.74,304.77 L617.72,304.36 L617.73,303.95 L617.75,303.54 L617.77,303.13 L617.80,302.73 L617.87,302.32 L617.98,301.91 L618.12,301.50 L618.26,301.09 L618.40,300.68 L618.56,300.27 L618.74,299.86 L618.94,299.45 L619.15,299.04 L619.37,298.63 L619.58,298.22 L619.79,297.82 L619.99,297.41 L620.18,297.00 L620.37,296.59 L620.57,296.18 L620.76,295.77 L620.93,295.36 L621.08,294.95 L621.21,294.54 L621.33,294.13 L621.44,293.72 L621.56,293.31 L621.68,292.90 L621.76,292.50 L621.81,292.09 L621.83,291.68 L621.84,291.27 L621.86,290.86 L621.87,290.45 L621.88,290.04 L621.84,289.63 L621.77,289.22 L621.65,288.81 L621.54,288.40 L621.42,287.99 L621.27,287.59 L621.10,287.18 L620.92,286.77 L620.76,286.36 L620.70,285.95 L620.73,285.54 L620.83,285.13 L620.94,284.72 L621.05,284.31 L621.15,283.90 L621.25,283.49 L621.34,283.08 L621.43,282.68 L621.51,282.27 L621.60,281.86 L621.69,281.45 L621.78,281.04 L621.88,280.63 L621.98,280.22 L622.09,279.81 L622.19,279.40 L622.29,278.99 L622.40,278.58 L622.50,278.17Z" fill="#9cc79a" stroke="#5f8f5f" stroke-width="0.5" stroke-linejoin="round"/>
<line x1="617.75" y1="303.57" x2="627.85" y2="303.57" stroke="#5f8f5f" stroke-width="0.5" />
<path d="M638.40,251.62 L638.40,252.37 L638.41,253.11 L638.41,253.86 L638.42,254.60 L638.42,255.35 L638.43,256.09 L638.43,256.84 L638.44,257.58 L638.44,258.33 L638.45,259.07 L638.45,259.82 L638.46,260.56 L638.46,261.31 L638.47,262.05 L638.47,262.80 L638.48,263.55 L638.48,264.29 L638.49,265.04 L638.49,265.78 L638.50,266.53 L638.51,267.27 L638.52,268.02 L638.53,268.76 L638.54,269.51 L638.55,270.25 L638.56,271.00 L638.57,271.74 L638.58,272.49 L638.60,273.23 L638.63,273.98 L638.68,274.73 L638.72,275.47 L638.77,276.22 L638.82,276.96 L638.88,277.71 L638.99,278.45 L639.14,279.20 L639.31,279.94 L639.48,280.69 L639.70,281.43 L639.97,282.18 L640.30,282.92 L640.65,283.67 L641.00,284.41 L641.37,285.16 L641.74,285.90 L642.12,286.65 L642.42,287.40 L642.66,288.14 L642.82,288.89 L642.95,289.63 L642.96,290.38 L642.86,291.12 L642.64,291.87 L642.33,292.61 L641.90,293.36 L641.38,294.10 L640.82,294.85 L640.21,295.59 L639.66,296.34 L639.27,297.08 L639.06,297.83 L639.10,298.58 L639.31,299.32 L639.45,300.07 L639.34,300.81 L639.08,301.56 L638.93,302.30 L638.95,303.05 L639.17,303.79 L639.35,304.54 L639.35,305.28 L639.12,306.03 L638.92,306.77 L638.85,307.52 L638.94,308.26 L639.02,309.01 L638.98,309.75 L638.70,310.50 L637.50,310.50 L637.22,309.75 L637.18,309.01 L637.26,308.26 L637.35,307.52 L637.28,306.77 L637.08,306.03 L636.85,305.28 L636.85,304.54 L637.03,303.79 L637.25,303.05 L637.27,302.30 L637.12,301.56 L636.86,300.81 L636.75,300.07 L636.89,299.32 L637.10,298.58 L637.14,297.83 L636.93,297.08 L636.54,296.34 L635.99,295.59 L635.38,294.85 L634.82,294.10 L634.30,293.36 L633.87,292.61 L633.56,291.87 L633.34,291.12 L633.24,290.38 L633.25,289.63 L633.38,288.89 L633.54,288.14 L633.78,287.40 L634.08,286.65 L634.46,285.90 L634.83,285.16 L635.20,284.41 L635.55,283.67 L635.90,282.92 L636.23,282.18 L636.50,281.43 L636.72,280.69 L636.89,279.94 L637.06,279.20 L637.21,278.45 L637.32,277.71 L637.38,276.96 L637.43,276.22 L637.48,275.47 L637.52,274.73 L637.57,273.98 L637.60,273.23 L637.62,272.49 L637.63,271.74 L637.64,271.00 L637.65,270.25 L637.66,269.51 L637.67,268.76 L637.68,268.02 L637.69,267.27 L637.70,266.53 L637.71,265.78 L637.71,265.04 L637.72,264.29 L637.72,263.55 L637.73,262.80 L637.73,262.05 L637.74,261.31 L637.74,260.56 L637.75,259.82 L637.75,259.07 L637.76,258.33 L637.76,257.58 L637.77,256.84 L637.77,256.09 L637.78,255.35 L637.78,254.60 L637.79,253.86 L637.79,253.11 L637.80,252.37 L637.80,251.62Z" fill="#2e7d3a" stroke="#1c5a26" stroke-width="0.5" stroke-linejoin="round"/>
<line x1="633.31" y1="290.87" x2="642.89" y2="290.87" stroke="#1c5a26" stroke-width="0.5" />
<text x="566.60" y="326.60" font-size="8.4" fill="#404040" text-anchor="end" transform="rotate(-45 566.6 326.6)">WT</text>
<text x="583.20" y="326.40" font-size="7.7" fill="#404040" text-anchor="end" transform="rotate(-45 583.0 326.4)">SDC1<tspan font-size="5.4" dy="-3">KO</tspan></text>
<text x="587.40" y="328.60" font-size="8.4" fill="#404040" >-Hep-N<tspan font-size="6" dy="2">3</tspan></text>
<text x="621.60" y="328.60" font-size="8.4" fill="#404040" >-Hep-<tspan font-size="9.6" fill="#666">≡</tspan></text>
<line x1="589.90" y1="336.00" x2="616.60" y2="336.00" stroke="#aaa" stroke-width="1.0" />
<line x1="620.10" y1="336.00" x2="649.00" y2="336.00" stroke="#aaa" stroke-width="1.0" />
<line x1="603.50" y1="340.70" x2="603.50" y2="347.00" stroke="#888" stroke-width="0.8" />
<line x1="606.50" y1="340.70" x2="606.50" y2="347.00" stroke="#888" stroke-width="0.8" />
<path d="M592,353 C595,348 598,347.2 601,348.8 C604,350.5 605.5,355.5 609.5,354.8 C611.5,354.3 612.5,351 613.3,349.5" fill="none" stroke="#555" stroke-width="1.3" stroke-linecap="round" stroke-linejoin="round" />
<path d="M623.6,353 C626.6,348 629.6,347.2 632.6,348.8 C635.6,350.5 637.1,355.5 641.1,354.8 C643.1,354.3 644.1,351 644.9,349.5" fill="none" stroke="#555" stroke-width="1.3" stroke-linecap="round" stroke-linejoin="round" />
<polygon points="635.00,339.70 636.02,341.90 638.42,342.19 636.64,343.83 637.12,346.21 635.00,345.03 632.88,346.21 633.36,343.83 631.58,342.19 633.98,341.90" fill="#F2C12E" stroke="#7a6418" stroke-width="0.4" stroke-linejoin="round"/>
<circle cx="635.00" cy="338.91" r="1.94" fill="#F2C12E" stroke="#7a6418" stroke-width="0.4"/>
<line x1="635.00" y1="346.50" x2="635.00" y2="349.50" stroke="#888" stroke-width="0.7" />
<text x="589.00" y="365.00" font-size="8.6" fill="#404040" >SDC1<tspan font-size="6" dy="2">37</tspan></text>
<text x="623.20" y="365.00" font-size="8.6" fill="#404040" >SDC1-</text>
<text x="620.80" y="374.60" font-size="8.6" fill="#404040" >6AzGlc</text>
</svg>
</body></html>
